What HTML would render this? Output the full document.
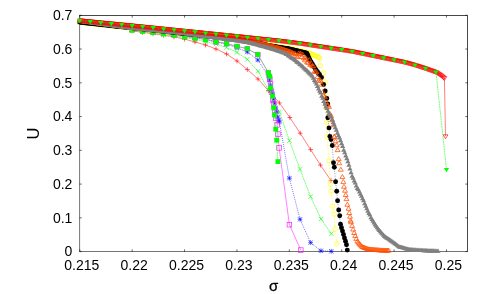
<!DOCTYPE html>
<html><head><meta charset="utf-8"><title>U vs sigma</title>
<style>html,body{margin:0;padding:0;background:#fff;}body{width:491px;height:294px;overflow:hidden;font-family:"Liberation Sans",sans-serif;}</style>
</head><body>
<svg width="491" height="294" viewBox="0 0 491 294" style="display:block;will-change:transform">
<rect width="491" height="294" fill="#fff"/>
<g font-family="Liberation Sans, sans-serif" font-size="14" fill="#000" style="filter:grayscale(1)">
<text x="81.8" y="270" text-anchor="middle">0.215</text><text x="134.18" y="270" text-anchor="middle">0.22</text><text x="186.56" y="270" text-anchor="middle">0.225</text><text x="238.94" y="270" text-anchor="middle">0.23</text><text x="291.32" y="270" text-anchor="middle">0.235</text><text x="343.7" y="270" text-anchor="middle">0.24</text><text x="396.08" y="270" text-anchor="middle">0.245</text><text x="448.46" y="270" text-anchor="middle">0.25</text><text x="72.4" y="256.3" text-anchor="end">0</text><text x="72.4" y="222.54" text-anchor="end">0.1</text><text x="72.4" y="188.78" text-anchor="end">0.2</text><text x="72.4" y="155.02" text-anchor="end">0.3</text><text x="72.4" y="121.26" text-anchor="end">0.4</text><text x="72.4" y="87.5" text-anchor="end">0.5</text><text x="72.4" y="53.74" text-anchor="end">0.6</text><text x="72.4" y="19.98" text-anchor="end">0.7</text><text x="273.6" y="290.6" text-anchor="middle" font-size="15" stroke="#000" stroke-width="0.3">σ</text><text transform="translate(39,133.5) rotate(-90)" text-anchor="middle" font-size="16.5">U</text>
</g>
<path d="M79.6 15.2V251.5H467.6" stroke="#000" stroke-width="0.55" fill="none"/><path d="M79.4 15.5H467.5V251.7" stroke="#000" stroke-width="0.72" fill="none"/><path d="M79.8 251.6v-2.2M79.8 15.4v2.2" stroke="#000" stroke-width="0.6"/><path d="M132.18 251.6v-2.2M132.18 15.4v2.2" stroke="#000" stroke-width="0.6"/><path d="M184.56 251.6v-2.2M184.56 15.4v2.2" stroke="#000" stroke-width="0.6"/><path d="M236.94 251.6v-2.2M236.94 15.4v2.2" stroke="#000" stroke-width="0.6"/><path d="M289.32 251.6v-2.2M289.32 15.4v2.2" stroke="#000" stroke-width="0.6"/><path d="M341.7 251.6v-2.2M341.7 15.4v2.2" stroke="#000" stroke-width="0.6"/><path d="M394.08 251.6v-2.2M394.08 15.4v2.2" stroke="#000" stroke-width="0.6"/><path d="M446.46 251.6v-2.2M446.46 15.4v2.2" stroke="#000" stroke-width="0.6"/><path d="M79.5 251.6h2.2M467.5 251.6h-2.2" stroke="#000" stroke-width="0.6"/><path d="M79.5 217.84h2.2M467.5 217.84h-2.2" stroke="#000" stroke-width="0.6"/><path d="M79.5 184.08h2.2M467.5 184.08h-2.2" stroke="#000" stroke-width="0.6"/><path d="M79.5 150.32h2.2M467.5 150.32h-2.2" stroke="#000" stroke-width="0.6"/><path d="M79.5 116.56h2.2M467.5 116.56h-2.2" stroke="#000" stroke-width="0.6"/><path d="M79.5 82.8h2.2M467.5 82.8h-2.2" stroke="#000" stroke-width="0.6"/><path d="M79.5 49.04h2.2M467.5 49.04h-2.2" stroke="#000" stroke-width="0.6"/><path d="M79.5 15.28h2.2M467.5 15.28h-2.2" stroke="#000" stroke-width="0.6"/>
<g stroke-linecap="butt" stroke-linejoin="miter">
<path d="M132 30.9L142.5 32.3L153 33.8L163.5 35.3L174 36.9L184.6 39.1L195 42L205.5 45L216 49L226.6 54L237 61L247.3 69.5L258 79L268.4 90.5L279.4 102.9L289.8 117.5L300.2 133.2L310.6 149.6L320.4 165.1L331 180.6" stroke="#ff0000" stroke-width="0.5" fill="none"/><path d="M129.6 30.9H134.4M132 28.5V33.3" stroke="#ff0000" stroke-width="0.6" fill="none"/><path d="M140.1 32.3H144.9M142.5 29.9V34.7" stroke="#ff0000" stroke-width="0.6" fill="none"/><path d="M150.6 33.8H155.4M153 31.4V36.2" stroke="#ff0000" stroke-width="0.6" fill="none"/><path d="M161.1 35.3H165.9M163.5 32.9V37.7" stroke="#ff0000" stroke-width="0.6" fill="none"/><path d="M171.6 36.9H176.4M174 34.5V39.3" stroke="#ff0000" stroke-width="0.6" fill="none"/><path d="M182.2 39.1H187M184.6 36.7V41.5" stroke="#ff0000" stroke-width="0.6" fill="none"/><path d="M192.6 42H197.4M195 39.6V44.4" stroke="#ff0000" stroke-width="0.6" fill="none"/><path d="M203.1 45H207.9M205.5 42.6V47.4" stroke="#ff0000" stroke-width="0.6" fill="none"/><path d="M213.6 49H218.4M216 46.6V51.4" stroke="#ff0000" stroke-width="0.6" fill="none"/><path d="M224.2 54H229M226.6 51.6V56.4" stroke="#ff0000" stroke-width="0.6" fill="none"/><path d="M234.6 61H239.4M237 58.6V63.4" stroke="#ff0000" stroke-width="0.6" fill="none"/><path d="M244.9 69.5H249.7M247.3 67.1V71.9" stroke="#ff0000" stroke-width="0.6" fill="none"/><path d="M255.6 79H260.4M258 76.6V81.4" stroke="#ff0000" stroke-width="0.6" fill="none"/><path d="M266 90.5H270.8M268.4 88.1V92.9" stroke="#ff0000" stroke-width="0.6" fill="none"/><path d="M277 102.9H281.8M279.4 100.5V105.3" stroke="#ff0000" stroke-width="0.6" fill="none"/><path d="M287.4 117.5H292.2M289.8 115.1V119.9" stroke="#ff0000" stroke-width="0.6" fill="none"/><path d="M297.8 133.2H302.6M300.2 130.8V135.6" stroke="#ff0000" stroke-width="0.6" fill="none"/><path d="M308.2 149.6H313M310.6 147.2V152" stroke="#ff0000" stroke-width="0.6" fill="none"/><path d="M318 165.1H322.8M320.4 162.7V167.5" stroke="#ff0000" stroke-width="0.6" fill="none"/><path d="M328.6 180.6H333.4M331 178.2V183" stroke="#ff0000" stroke-width="0.6" fill="none"/><path d="M132 30.5L142.5 31.7L153 33L163.5 34.4L174 35.9L184.6 37.6L195 39.3L205.6 41.8L216 44L226.6 47.5L237 52.4L247.3 59.4L258 71.3L268.4 90L279.4 112L289.4 140.6L300 169.3L310.6 196.7L321 218.9L331.3 233.8" stroke="#00ff00" stroke-width="0.55" fill="none" stroke-dasharray="1.9 0.6"/><path d="M129.7 28.2L134.3 32.8M129.7 32.8L134.3 28.2" stroke="#00ff00" stroke-width="0.6" fill="none"/><path d="M140.2 29.4L144.8 34M140.2 34L144.8 29.4" stroke="#00ff00" stroke-width="0.6" fill="none"/><path d="M150.7 30.7L155.3 35.3M150.7 35.3L155.3 30.7" stroke="#00ff00" stroke-width="0.6" fill="none"/><path d="M161.2 32.1L165.8 36.7M161.2 36.7L165.8 32.1" stroke="#00ff00" stroke-width="0.6" fill="none"/><path d="M171.7 33.6L176.3 38.2M171.7 38.2L176.3 33.6" stroke="#00ff00" stroke-width="0.6" fill="none"/><path d="M182.3 35.3L186.9 39.9M182.3 39.9L186.9 35.3" stroke="#00ff00" stroke-width="0.6" fill="none"/><path d="M192.7 37L197.3 41.6M192.7 41.6L197.3 37" stroke="#00ff00" stroke-width="0.6" fill="none"/><path d="M203.3 39.5L207.9 44.1M203.3 44.1L207.9 39.5" stroke="#00ff00" stroke-width="0.6" fill="none"/><path d="M213.7 41.7L218.3 46.3M213.7 46.3L218.3 41.7" stroke="#00ff00" stroke-width="0.6" fill="none"/><path d="M224.3 45.2L228.9 49.8M224.3 49.8L228.9 45.2" stroke="#00ff00" stroke-width="0.6" fill="none"/><path d="M234.7 50.1L239.3 54.7M234.7 54.7L239.3 50.1" stroke="#00ff00" stroke-width="0.6" fill="none"/><path d="M245 57.1L249.6 61.7M245 61.7L249.6 57.1" stroke="#00ff00" stroke-width="0.6" fill="none"/><path d="M255.7 69L260.3 73.6M255.7 73.6L260.3 69" stroke="#00ff00" stroke-width="0.6" fill="none"/><path d="M266.1 87.7L270.7 92.3M266.1 92.3L270.7 87.7" stroke="#00ff00" stroke-width="0.6" fill="none"/><path d="M277.1 109.7L281.7 114.3M277.1 114.3L281.7 109.7" stroke="#00ff00" stroke-width="0.6" fill="none"/><path d="M287.1 138.3L291.7 142.9M287.1 142.9L291.7 138.3" stroke="#00ff00" stroke-width="0.6" fill="none"/><path d="M297.7 167L302.3 171.6M297.7 171.6L302.3 167" stroke="#00ff00" stroke-width="0.6" fill="none"/><path d="M308.3 194.4L312.9 199M308.3 199L312.9 194.4" stroke="#00ff00" stroke-width="0.6" fill="none"/><path d="M318.7 216.6L323.3 221.2M318.7 221.2L323.3 216.6" stroke="#00ff00" stroke-width="0.6" fill="none"/><path d="M329 231.5L333.6 236.1M329 236.1L333.6 231.5" stroke="#00ff00" stroke-width="0.6" fill="none"/><path d="M132 29.5L142.5 30.6L153 31.8L163.5 33.1L174 34.5L184.6 36.1L195 37.8L205.6 39.3L216 42L226.6 44.2L237 47.8L247.3 52L257.8 60L268.4 76L269.5 80L270.5 85L271.5 90L272.6 94L273.6 99L274.6 103L275.7 108L276.7 112L277.8 117L278.8 120L279.4 122L289.4 178.2L300 219.3L310.6 242.6L320.9 250.8L331.3 251.3" stroke="#0000ff" stroke-width="0.6" fill="none" stroke-dasharray="0.9 1.1"/><path d="M129.6 29.5H134.4M132 27.1V31.9" stroke="#0000ff" stroke-width="0.6" fill="none"/><path d="M129.84 27.34L134.16 31.66M129.84 31.66L134.16 27.34" stroke="#0000ff" stroke-width="0.6" fill="none"/><path d="M140.1 30.6H144.9M142.5 28.2V33" stroke="#0000ff" stroke-width="0.6" fill="none"/><path d="M140.34 28.44L144.66 32.76M140.34 32.76L144.66 28.44" stroke="#0000ff" stroke-width="0.6" fill="none"/><path d="M150.6 31.8H155.4M153 29.4V34.2" stroke="#0000ff" stroke-width="0.6" fill="none"/><path d="M150.84 29.64L155.16 33.96M150.84 33.96L155.16 29.64" stroke="#0000ff" stroke-width="0.6" fill="none"/><path d="M161.1 33.1H165.9M163.5 30.7V35.5" stroke="#0000ff" stroke-width="0.6" fill="none"/><path d="M161.34 30.94L165.66 35.26M161.34 35.26L165.66 30.94" stroke="#0000ff" stroke-width="0.6" fill="none"/><path d="M171.6 34.5H176.4M174 32.1V36.9" stroke="#0000ff" stroke-width="0.6" fill="none"/><path d="M171.84 32.34L176.16 36.66M171.84 36.66L176.16 32.34" stroke="#0000ff" stroke-width="0.6" fill="none"/><path d="M182.2 36.1H187M184.6 33.7V38.5" stroke="#0000ff" stroke-width="0.6" fill="none"/><path d="M182.44 33.94L186.76 38.26M182.44 38.26L186.76 33.94" stroke="#0000ff" stroke-width="0.6" fill="none"/><path d="M192.6 37.8H197.4M195 35.4V40.2" stroke="#0000ff" stroke-width="0.6" fill="none"/><path d="M192.84 35.64L197.16 39.96M192.84 39.96L197.16 35.64" stroke="#0000ff" stroke-width="0.6" fill="none"/><path d="M203.2 39.3H208M205.6 36.9V41.7" stroke="#0000ff" stroke-width="0.6" fill="none"/><path d="M203.44 37.14L207.76 41.46M203.44 41.46L207.76 37.14" stroke="#0000ff" stroke-width="0.6" fill="none"/><path d="M213.6 42H218.4M216 39.6V44.4" stroke="#0000ff" stroke-width="0.6" fill="none"/><path d="M213.84 39.84L218.16 44.16M213.84 44.16L218.16 39.84" stroke="#0000ff" stroke-width="0.6" fill="none"/><path d="M224.2 44.2H229M226.6 41.8V46.6" stroke="#0000ff" stroke-width="0.6" fill="none"/><path d="M224.44 42.04L228.76 46.36M224.44 46.36L228.76 42.04" stroke="#0000ff" stroke-width="0.6" fill="none"/><path d="M234.6 47.8H239.4M237 45.4V50.2" stroke="#0000ff" stroke-width="0.6" fill="none"/><path d="M234.84 45.64L239.16 49.96M234.84 49.96L239.16 45.64" stroke="#0000ff" stroke-width="0.6" fill="none"/><path d="M244.9 52H249.7M247.3 49.6V54.4" stroke="#0000ff" stroke-width="0.6" fill="none"/><path d="M245.14 49.84L249.46 54.16M245.14 54.16L249.46 49.84" stroke="#0000ff" stroke-width="0.6" fill="none"/><path d="M255.4 60H260.2M257.8 57.6V62.4" stroke="#0000ff" stroke-width="0.6" fill="none"/><path d="M255.64 57.84L259.96 62.16M255.64 62.16L259.96 57.84" stroke="#0000ff" stroke-width="0.6" fill="none"/><path d="M266 76H270.8M268.4 73.6V78.4" stroke="#0000ff" stroke-width="0.6" fill="none"/><path d="M266.24 73.84L270.56 78.16M266.24 78.16L270.56 73.84" stroke="#0000ff" stroke-width="0.6" fill="none"/><path d="M267.1 80H271.9M269.5 77.6V82.4" stroke="#0000ff" stroke-width="0.6" fill="none"/><path d="M267.34 77.84L271.66 82.16M267.34 82.16L271.66 77.84" stroke="#0000ff" stroke-width="0.6" fill="none"/><path d="M268.1 85H272.9M270.5 82.6V87.4" stroke="#0000ff" stroke-width="0.6" fill="none"/><path d="M268.34 82.84L272.66 87.16M268.34 87.16L272.66 82.84" stroke="#0000ff" stroke-width="0.6" fill="none"/><path d="M269.1 90H273.9M271.5 87.6V92.4" stroke="#0000ff" stroke-width="0.6" fill="none"/><path d="M269.34 87.84L273.66 92.16M269.34 92.16L273.66 87.84" stroke="#0000ff" stroke-width="0.6" fill="none"/><path d="M270.2 94H275M272.6 91.6V96.4" stroke="#0000ff" stroke-width="0.6" fill="none"/><path d="M270.44 91.84L274.76 96.16M270.44 96.16L274.76 91.84" stroke="#0000ff" stroke-width="0.6" fill="none"/><path d="M271.2 99H276M273.6 96.6V101.4" stroke="#0000ff" stroke-width="0.6" fill="none"/><path d="M271.44 96.84L275.76 101.16M271.44 101.16L275.76 96.84" stroke="#0000ff" stroke-width="0.6" fill="none"/><path d="M272.2 103H277M274.6 100.6V105.4" stroke="#0000ff" stroke-width="0.6" fill="none"/><path d="M272.44 100.84L276.76 105.16M272.44 105.16L276.76 100.84" stroke="#0000ff" stroke-width="0.6" fill="none"/><path d="M273.3 108H278.1M275.7 105.6V110.4" stroke="#0000ff" stroke-width="0.6" fill="none"/><path d="M273.54 105.84L277.86 110.16M273.54 110.16L277.86 105.84" stroke="#0000ff" stroke-width="0.6" fill="none"/><path d="M274.3 112H279.1M276.7 109.6V114.4" stroke="#0000ff" stroke-width="0.6" fill="none"/><path d="M274.54 109.84L278.86 114.16M274.54 114.16L278.86 109.84" stroke="#0000ff" stroke-width="0.6" fill="none"/><path d="M275.4 117H280.2M277.8 114.6V119.4" stroke="#0000ff" stroke-width="0.6" fill="none"/><path d="M275.64 114.84L279.96 119.16M275.64 119.16L279.96 114.84" stroke="#0000ff" stroke-width="0.6" fill="none"/><path d="M276.4 120H281.2M278.8 117.6V122.4" stroke="#0000ff" stroke-width="0.6" fill="none"/><path d="M276.64 117.84L280.96 122.16M276.64 122.16L280.96 117.84" stroke="#0000ff" stroke-width="0.6" fill="none"/><path d="M277 122H281.8M279.4 119.6V124.4" stroke="#0000ff" stroke-width="0.6" fill="none"/><path d="M277.24 119.84L281.56 124.16M277.24 124.16L281.56 119.84" stroke="#0000ff" stroke-width="0.6" fill="none"/><path d="M287 178.2H291.8M289.4 175.8V180.6" stroke="#0000ff" stroke-width="0.6" fill="none"/><path d="M287.24 176.04L291.56 180.36M287.24 180.36L291.56 176.04" stroke="#0000ff" stroke-width="0.6" fill="none"/><path d="M297.6 219.3H302.4M300 216.9V221.7" stroke="#0000ff" stroke-width="0.6" fill="none"/><path d="M297.84 217.14L302.16 221.46M297.84 221.46L302.16 217.14" stroke="#0000ff" stroke-width="0.6" fill="none"/><path d="M308.2 242.6H313M310.6 240.2V245" stroke="#0000ff" stroke-width="0.6" fill="none"/><path d="M308.44 240.44L312.76 244.76M308.44 244.76L312.76 240.44" stroke="#0000ff" stroke-width="0.6" fill="none"/><path d="M318.5 250.8H323.3M320.9 248.4V253.2" stroke="#0000ff" stroke-width="0.6" fill="none"/><path d="M318.74 248.64L323.06 252.96M318.74 252.96L323.06 248.64" stroke="#0000ff" stroke-width="0.6" fill="none"/><path d="M328.9 251.3H333.7M331.3 248.9V253.7" stroke="#0000ff" stroke-width="0.6" fill="none"/><path d="M329.14 249.14L333.46 253.46M329.14 253.46L333.46 249.14" stroke="#0000ff" stroke-width="0.6" fill="none"/><path d="M132 29.5L142.5 30.6L153 31.8L163.5 33.1L174 34.5L184.6 36L195 37.6L205.6 38.9L216 41.8L226.6 43.5L237 46.4L247.3 48.6L257.8 54.6L268.4 72.7L269.8 79L270.5 84L271.5 92L272.6 100L273.6 104L274.6 110L275.7 118L277.2 124.9L277.9 134.1L279.1 147.9L289.4 224.7L300.8 250.1" stroke="#ff00ff" stroke-width="0.5" fill="none"/><rect x="129.7" y="27.2" width="4.6" height="4.6" stroke="#ff00ff" stroke-width="0.6" fill="none"/><rect x="140.2" y="28.3" width="4.6" height="4.6" stroke="#ff00ff" stroke-width="0.6" fill="none"/><rect x="150.7" y="29.5" width="4.6" height="4.6" stroke="#ff00ff" stroke-width="0.6" fill="none"/><rect x="161.2" y="30.8" width="4.6" height="4.6" stroke="#ff00ff" stroke-width="0.6" fill="none"/><rect x="171.7" y="32.2" width="4.6" height="4.6" stroke="#ff00ff" stroke-width="0.6" fill="none"/><rect x="182.3" y="33.7" width="4.6" height="4.6" stroke="#ff00ff" stroke-width="0.6" fill="none"/><rect x="192.7" y="35.3" width="4.6" height="4.6" stroke="#ff00ff" stroke-width="0.6" fill="none"/><rect x="203.3" y="36.6" width="4.6" height="4.6" stroke="#ff00ff" stroke-width="0.6" fill="none"/><rect x="213.7" y="39.5" width="4.6" height="4.6" stroke="#ff00ff" stroke-width="0.6" fill="none"/><rect x="224.3" y="41.2" width="4.6" height="4.6" stroke="#ff00ff" stroke-width="0.6" fill="none"/><rect x="234.7" y="44.1" width="4.6" height="4.6" stroke="#ff00ff" stroke-width="0.6" fill="none"/><rect x="245" y="46.3" width="4.6" height="4.6" stroke="#ff00ff" stroke-width="0.6" fill="none"/><rect x="255.5" y="52.3" width="4.6" height="4.6" stroke="#ff00ff" stroke-width="0.6" fill="none"/><rect x="266.1" y="70.4" width="4.6" height="4.6" stroke="#ff00ff" stroke-width="0.6" fill="none"/><rect x="267.5" y="76.7" width="4.6" height="4.6" stroke="#ff00ff" stroke-width="0.6" fill="none"/><rect x="268.2" y="81.7" width="4.6" height="4.6" stroke="#ff00ff" stroke-width="0.6" fill="none"/><rect x="269.2" y="89.7" width="4.6" height="4.6" stroke="#ff00ff" stroke-width="0.6" fill="none"/><rect x="270.3" y="97.7" width="4.6" height="4.6" stroke="#ff00ff" stroke-width="0.6" fill="none"/><rect x="271.3" y="101.7" width="4.6" height="4.6" stroke="#ff00ff" stroke-width="0.6" fill="none"/><rect x="272.3" y="107.7" width="4.6" height="4.6" stroke="#ff00ff" stroke-width="0.6" fill="none"/><rect x="273.4" y="115.7" width="4.6" height="4.6" stroke="#ff00ff" stroke-width="0.6" fill="none"/><rect x="274.9" y="122.6" width="4.6" height="4.6" stroke="#ff00ff" stroke-width="0.6" fill="none"/><rect x="275.6" y="131.8" width="4.6" height="4.6" stroke="#ff00ff" stroke-width="0.6" fill="none"/><rect x="276.8" y="145.6" width="4.6" height="4.6" stroke="#ff00ff" stroke-width="0.6" fill="none"/><rect x="287.1" y="222.4" width="4.6" height="4.6" stroke="#ff00ff" stroke-width="0.6" fill="none"/><rect x="298.5" y="247.8" width="4.6" height="4.6" stroke="#ff00ff" stroke-width="0.6" fill="none"/><path d="M132 30.3L142.5 31.4L153 32.6L163.5 33.9L174 35.3L184.6 36.8L195 38.4L205.6 39.9L216 41.8L226.6 43.5L237 46.4L247.3 48.6L257.8 54.6L268.4 72.7L269.8 76.3L270.6 88L272.6 96.2L273.6 107.7L274.5 115L275.7 129.2L276.7 140.2L277.9 161.6" stroke="#00ff00" stroke-width="0.55" fill="none" stroke-dasharray="1.9 0.6"/><rect x="129.6" y="27.9" width="4.8" height="4.8" fill="#00ff00"/><rect x="140.1" y="29" width="4.8" height="4.8" fill="#00ff00"/><rect x="150.6" y="30.2" width="4.8" height="4.8" fill="#00ff00"/><rect x="161.1" y="31.5" width="4.8" height="4.8" fill="#00ff00"/><rect x="171.6" y="32.9" width="4.8" height="4.8" fill="#00ff00"/><rect x="182.2" y="34.4" width="4.8" height="4.8" fill="#00ff00"/><rect x="192.6" y="36" width="4.8" height="4.8" fill="#00ff00"/><rect x="203.2" y="37.5" width="4.8" height="4.8" fill="#00ff00"/><rect x="213.6" y="39.4" width="4.8" height="4.8" fill="#00ff00"/><rect x="224.2" y="41.1" width="4.8" height="4.8" fill="#00ff00"/><rect x="234.6" y="44" width="4.8" height="4.8" fill="#00ff00"/><rect x="244.9" y="46.2" width="4.8" height="4.8" fill="#00ff00"/><rect x="255.4" y="52.2" width="4.8" height="4.8" fill="#00ff00"/><rect x="266" y="70.3" width="4.8" height="4.8" fill="#00ff00"/><rect x="267.4" y="73.9" width="4.8" height="4.8" fill="#00ff00"/><rect x="268.2" y="85.6" width="4.8" height="4.8" fill="#00ff00"/><rect x="270.2" y="93.8" width="4.8" height="4.8" fill="#00ff00"/><rect x="271.2" y="105.3" width="4.8" height="4.8" fill="#00ff00"/><rect x="272.1" y="112.6" width="4.8" height="4.8" fill="#00ff00"/><rect x="273.3" y="126.8" width="4.8" height="4.8" fill="#00ff00"/><rect x="274.3" y="137.8" width="4.8" height="4.8" fill="#00ff00"/><rect x="275.5" y="159.2" width="4.8" height="4.8" fill="#00ff00"/><path d="M79.6 22.3L80.65 22.41L81.7 22.52L82.74 22.64L83.79 22.75L84.84 22.86L85.89 22.97L86.94 23.08L87.98 23.2L89.03 23.31L90.08 23.42L91.13 23.53L92.18 23.64L93.22 23.76L94.27 23.87L95.32 23.98L96.37 24.09L97.42 24.2L98.46 24.32L99.51 24.43L100.56 24.54L101.61 24.65L102.66 24.76L103.7 24.88L104.75 24.99L105.8 25.1L106.85 25.21L107.9 25.32L108.94 25.44L109.99 25.55L111.04 25.66L112.09 25.77L113.14 25.88L114.18 26L115.23 26.11L116.28 26.22L117.33 26.33L118.38 26.44L119.42 26.56L120.47 26.67L121.52 26.78L122.57 26.89L123.62 27L124.66 27.12L125.71 27.23L126.76 27.34L127.81 27.45L128.86 27.56L129.9 27.68L130.95 27.79L132 27.9L133.05 28.01L134.1 28.11L135.14 28.22L136.19 28.33L137.24 28.43L138.29 28.54L139.34 28.65L140.38 28.75L141.43 28.86L142.48 28.97L143.53 29.07L144.58 29.18L145.62 29.29L146.67 29.4L147.72 29.5L148.77 29.61L149.82 29.72L150.86 29.82L151.91 29.93L152.96 30.04L154.01 30.14L155.06 30.25L156.1 30.36L157.15 30.46L158.2 30.57L159.25 30.68L160.3 30.78L161.34 30.89L162.39 31L163.44 31.1L164.49 31.21L165.54 31.32L166.58 31.42L167.63 31.53L168.68 31.64L169.73 31.75L170.78 31.85L171.82 31.96L172.87 32.07L173.92 32.17L174.97 32.28L176.02 32.39L177.06 32.49L178.11 32.6L179.16 32.71L180.21 32.81L181.26 32.92L182.3 33.03L183.35 33.13L184.4 33.25L185.45 33.37L186.5 33.49L187.54 33.61L188.59 33.73L189.64 33.85L190.69 33.97L191.74 34.09L192.78 34.21L193.83 34.33L194.88 34.45L195.93 34.57L196.98 34.69L198.02 34.81L199.07 34.93L200.12 35.06L201.17 35.18L202.22 35.3L203.26 35.42L204.31 35.54L205.36 35.66L206.41 35.78L207.46 35.9L208.5 36.02L209.55 36.14L210.6 36.26L211.65 36.38L212.7 36.5L213.74 36.62L214.79 36.74L215.84 36.86L216.89 36.99L217.94 37.11L218.98 37.23L220.03 37.35L221.08 37.47L222.13 37.59L223.18 37.71L224.22 37.83L225.27 37.95L226.32 38.07L227.37 38.19L228.42 38.31L229.46 38.43L230.51 38.55L231.56 38.67L232.61 38.79L233.66 38.92L234.7 39.04L235.75 39.16L236.8 39.28L237.85 39.44L238.9 39.62L239.94 39.8L240.99 39.97L242.04 40.15L243.09 40.32L244.14 40.5L245.18 40.68L246.23 40.85L247.28 41.03L248.33 41.21L249.38 41.38L250.42 41.56L251.47 41.74L252.52 41.91L253.57 42.09L254.62 42.26L255.66 42.44L256.71 42.62L257.76 42.79L258.81 43.02L259.86 43.26L260.9 43.49L261.95 43.72L263 43.95L264.05 44.18L265.1 44.41L266.14 44.65L267.19 44.88L268.24 45.11L269.29 45.34L270.34 45.55L271.38 45.72L272.43 45.89L273.48 46.06L274.53 46.22L275.58 46.39L276.62 46.56L277.67 46.73L278.72 46.9L279.77 47.06L280.82 47.21L281.86 47.36L282.91 47.5L283.96 47.64L285.01 47.79L286.06 47.93L287.1 48.08L288.15 48.24L289.2 48.48L290.25 48.72L291.3 48.97L292.34 49.21L293.39 49.46L294.44 49.7L295.49 49.95L296.54 50.19L297.58 50.44L298.63 50.68L299.68 50.93L300.73 51.17L301.78 51.42L302.82 51.67L303.87 51.92L304.92 52.17L305.97 52.42L307.02 52.67L308.06 52.92L309.11 53.31L310.16 53.7L311.21 54.09L312.26 54.48L313.3 54.87L314.35 55.26L315.4 55.72L316.45 56.29L317.5 56.86L318.54 57.43L319.59 58L320.3 65.7L323.6 73L325.2 82L326 95L326.3 108L326.6 122.3L327 136.9L329 160.7L330.2 183.9L331 191.2L332.7 206.2L334.2 214.1L335.1 228.9L336.7 243.6" stroke="#ffff00" stroke-width="0.6" fill="none" stroke-dasharray="1.6 1.4"/><circle cx="79.6" cy="22.3" r="2.3" stroke="#ffff00" stroke-width="0.6" fill="none"/><circle cx="80.65" cy="22.41" r="2.3" stroke="#ffff00" stroke-width="0.6" fill="none"/><circle cx="81.7" cy="22.52" r="2.3" stroke="#ffff00" stroke-width="0.6" fill="none"/><circle cx="82.74" cy="22.64" r="2.3" stroke="#ffff00" stroke-width="0.6" fill="none"/><circle cx="83.79" cy="22.75" r="2.3" stroke="#ffff00" stroke-width="0.6" fill="none"/><circle cx="84.84" cy="22.86" r="2.3" stroke="#ffff00" stroke-width="0.6" fill="none"/><circle cx="85.89" cy="22.97" r="2.3" stroke="#ffff00" stroke-width="0.6" fill="none"/><circle cx="86.94" cy="23.08" r="2.3" stroke="#ffff00" stroke-width="0.6" fill="none"/><circle cx="87.98" cy="23.2" r="2.3" stroke="#ffff00" stroke-width="0.6" fill="none"/><circle cx="89.03" cy="23.31" r="2.3" stroke="#ffff00" stroke-width="0.6" fill="none"/><circle cx="90.08" cy="23.42" r="2.3" stroke="#ffff00" stroke-width="0.6" fill="none"/><circle cx="91.13" cy="23.53" r="2.3" stroke="#ffff00" stroke-width="0.6" fill="none"/><circle cx="92.18" cy="23.64" r="2.3" stroke="#ffff00" stroke-width="0.6" fill="none"/><circle cx="93.22" cy="23.76" r="2.3" stroke="#ffff00" stroke-width="0.6" fill="none"/><circle cx="94.27" cy="23.87" r="2.3" stroke="#ffff00" stroke-width="0.6" fill="none"/><circle cx="95.32" cy="23.98" r="2.3" stroke="#ffff00" stroke-width="0.6" fill="none"/><circle cx="96.37" cy="24.09" r="2.3" stroke="#ffff00" stroke-width="0.6" fill="none"/><circle cx="97.42" cy="24.2" r="2.3" stroke="#ffff00" stroke-width="0.6" fill="none"/><circle cx="98.46" cy="24.32" r="2.3" stroke="#ffff00" stroke-width="0.6" fill="none"/><circle cx="99.51" cy="24.43" r="2.3" stroke="#ffff00" stroke-width="0.6" fill="none"/><circle cx="100.56" cy="24.54" r="2.3" stroke="#ffff00" stroke-width="0.6" fill="none"/><circle cx="101.61" cy="24.65" r="2.3" stroke="#ffff00" stroke-width="0.6" fill="none"/><circle cx="102.66" cy="24.76" r="2.3" stroke="#ffff00" stroke-width="0.6" fill="none"/><circle cx="103.7" cy="24.88" r="2.3" stroke="#ffff00" stroke-width="0.6" fill="none"/><circle cx="104.75" cy="24.99" r="2.3" stroke="#ffff00" stroke-width="0.6" fill="none"/><circle cx="105.8" cy="25.1" r="2.3" stroke="#ffff00" stroke-width="0.6" fill="none"/><circle cx="106.85" cy="25.21" r="2.3" stroke="#ffff00" stroke-width="0.6" fill="none"/><circle cx="107.9" cy="25.32" r="2.3" stroke="#ffff00" stroke-width="0.6" fill="none"/><circle cx="108.94" cy="25.44" r="2.3" stroke="#ffff00" stroke-width="0.6" fill="none"/><circle cx="109.99" cy="25.55" r="2.3" stroke="#ffff00" stroke-width="0.6" fill="none"/><circle cx="111.04" cy="25.66" r="2.3" stroke="#ffff00" stroke-width="0.6" fill="none"/><circle cx="112.09" cy="25.77" r="2.3" stroke="#ffff00" stroke-width="0.6" fill="none"/><circle cx="113.14" cy="25.88" r="2.3" stroke="#ffff00" stroke-width="0.6" fill="none"/><circle cx="114.18" cy="26" r="2.3" stroke="#ffff00" stroke-width="0.6" fill="none"/><circle cx="115.23" cy="26.11" r="2.3" stroke="#ffff00" stroke-width="0.6" fill="none"/><circle cx="116.28" cy="26.22" r="2.3" stroke="#ffff00" stroke-width="0.6" fill="none"/><circle cx="117.33" cy="26.33" r="2.3" stroke="#ffff00" stroke-width="0.6" fill="none"/><circle cx="118.38" cy="26.44" r="2.3" stroke="#ffff00" stroke-width="0.6" fill="none"/><circle cx="119.42" cy="26.56" r="2.3" stroke="#ffff00" stroke-width="0.6" fill="none"/><circle cx="120.47" cy="26.67" r="2.3" stroke="#ffff00" stroke-width="0.6" fill="none"/><circle cx="121.52" cy="26.78" r="2.3" stroke="#ffff00" stroke-width="0.6" fill="none"/><circle cx="122.57" cy="26.89" r="2.3" stroke="#ffff00" stroke-width="0.6" fill="none"/><circle cx="123.62" cy="27" r="2.3" stroke="#ffff00" stroke-width="0.6" fill="none"/><circle cx="124.66" cy="27.12" r="2.3" stroke="#ffff00" stroke-width="0.6" fill="none"/><circle cx="125.71" cy="27.23" r="2.3" stroke="#ffff00" stroke-width="0.6" fill="none"/><circle cx="126.76" cy="27.34" r="2.3" stroke="#ffff00" stroke-width="0.6" fill="none"/><circle cx="127.81" cy="27.45" r="2.3" stroke="#ffff00" stroke-width="0.6" fill="none"/><circle cx="128.86" cy="27.56" r="2.3" stroke="#ffff00" stroke-width="0.6" fill="none"/><circle cx="129.9" cy="27.68" r="2.3" stroke="#ffff00" stroke-width="0.6" fill="none"/><circle cx="130.95" cy="27.79" r="2.3" stroke="#ffff00" stroke-width="0.6" fill="none"/><circle cx="132" cy="27.9" r="2.3" stroke="#ffff00" stroke-width="0.6" fill="none"/><circle cx="133.05" cy="28.01" r="2.3" stroke="#ffff00" stroke-width="0.6" fill="none"/><circle cx="134.1" cy="28.11" r="2.3" stroke="#ffff00" stroke-width="0.6" fill="none"/><circle cx="135.14" cy="28.22" r="2.3" stroke="#ffff00" stroke-width="0.6" fill="none"/><circle cx="136.19" cy="28.33" r="2.3" stroke="#ffff00" stroke-width="0.6" fill="none"/><circle cx="137.24" cy="28.43" r="2.3" stroke="#ffff00" stroke-width="0.6" fill="none"/><circle cx="138.29" cy="28.54" r="2.3" stroke="#ffff00" stroke-width="0.6" fill="none"/><circle cx="139.34" cy="28.65" r="2.3" stroke="#ffff00" stroke-width="0.6" fill="none"/><circle cx="140.38" cy="28.75" r="2.3" stroke="#ffff00" stroke-width="0.6" fill="none"/><circle cx="141.43" cy="28.86" r="2.3" stroke="#ffff00" stroke-width="0.6" fill="none"/><circle cx="142.48" cy="28.97" r="2.3" stroke="#ffff00" stroke-width="0.6" fill="none"/><circle cx="143.53" cy="29.07" r="2.3" stroke="#ffff00" stroke-width="0.6" fill="none"/><circle cx="144.58" cy="29.18" r="2.3" stroke="#ffff00" stroke-width="0.6" fill="none"/><circle cx="145.62" cy="29.29" r="2.3" stroke="#ffff00" stroke-width="0.6" fill="none"/><circle cx="146.67" cy="29.4" r="2.3" stroke="#ffff00" stroke-width="0.6" fill="none"/><circle cx="147.72" cy="29.5" r="2.3" stroke="#ffff00" stroke-width="0.6" fill="none"/><circle cx="148.77" cy="29.61" r="2.3" stroke="#ffff00" stroke-width="0.6" fill="none"/><circle cx="149.82" cy="29.72" r="2.3" stroke="#ffff00" stroke-width="0.6" fill="none"/><circle cx="150.86" cy="29.82" r="2.3" stroke="#ffff00" stroke-width="0.6" fill="none"/><circle cx="151.91" cy="29.93" r="2.3" stroke="#ffff00" stroke-width="0.6" fill="none"/><circle cx="152.96" cy="30.04" r="2.3" stroke="#ffff00" stroke-width="0.6" fill="none"/><circle cx="154.01" cy="30.14" r="2.3" stroke="#ffff00" stroke-width="0.6" fill="none"/><circle cx="155.06" cy="30.25" r="2.3" stroke="#ffff00" stroke-width="0.6" fill="none"/><circle cx="156.1" cy="30.36" r="2.3" stroke="#ffff00" stroke-width="0.6" fill="none"/><circle cx="157.15" cy="30.46" r="2.3" stroke="#ffff00" stroke-width="0.6" fill="none"/><circle cx="158.2" cy="30.57" r="2.3" stroke="#ffff00" stroke-width="0.6" fill="none"/><circle cx="159.25" cy="30.68" r="2.3" stroke="#ffff00" stroke-width="0.6" fill="none"/><circle cx="160.3" cy="30.78" r="2.3" stroke="#ffff00" stroke-width="0.6" fill="none"/><circle cx="161.34" cy="30.89" r="2.3" stroke="#ffff00" stroke-width="0.6" fill="none"/><circle cx="162.39" cy="31" r="2.3" stroke="#ffff00" stroke-width="0.6" fill="none"/><circle cx="163.44" cy="31.1" r="2.3" stroke="#ffff00" stroke-width="0.6" fill="none"/><circle cx="164.49" cy="31.21" r="2.3" stroke="#ffff00" stroke-width="0.6" fill="none"/><circle cx="165.54" cy="31.32" r="2.3" stroke="#ffff00" stroke-width="0.6" fill="none"/><circle cx="166.58" cy="31.42" r="2.3" stroke="#ffff00" stroke-width="0.6" fill="none"/><circle cx="167.63" cy="31.53" r="2.3" stroke="#ffff00" stroke-width="0.6" fill="none"/><circle cx="168.68" cy="31.64" r="2.3" stroke="#ffff00" stroke-width="0.6" fill="none"/><circle cx="169.73" cy="31.75" r="2.3" stroke="#ffff00" stroke-width="0.6" fill="none"/><circle cx="170.78" cy="31.85" r="2.3" stroke="#ffff00" stroke-width="0.6" fill="none"/><circle cx="171.82" cy="31.96" r="2.3" stroke="#ffff00" stroke-width="0.6" fill="none"/><circle cx="172.87" cy="32.07" r="2.3" stroke="#ffff00" stroke-width="0.6" fill="none"/><circle cx="173.92" cy="32.17" r="2.3" stroke="#ffff00" stroke-width="0.6" fill="none"/><circle cx="174.97" cy="32.28" r="2.3" stroke="#ffff00" stroke-width="0.6" fill="none"/><circle cx="176.02" cy="32.39" r="2.3" stroke="#ffff00" stroke-width="0.6" fill="none"/><circle cx="177.06" cy="32.49" r="2.3" stroke="#ffff00" stroke-width="0.6" fill="none"/><circle cx="178.11" cy="32.6" r="2.3" stroke="#ffff00" stroke-width="0.6" fill="none"/><circle cx="179.16" cy="32.71" r="2.3" stroke="#ffff00" stroke-width="0.6" fill="none"/><circle cx="180.21" cy="32.81" r="2.3" stroke="#ffff00" stroke-width="0.6" fill="none"/><circle cx="181.26" cy="32.92" r="2.3" stroke="#ffff00" stroke-width="0.6" fill="none"/><circle cx="182.3" cy="33.03" r="2.3" stroke="#ffff00" stroke-width="0.6" fill="none"/><circle cx="183.35" cy="33.13" r="2.3" stroke="#ffff00" stroke-width="0.6" fill="none"/><circle cx="184.4" cy="33.25" r="2.3" stroke="#ffff00" stroke-width="0.6" fill="none"/><circle cx="185.45" cy="33.37" r="2.3" stroke="#ffff00" stroke-width="0.6" fill="none"/><circle cx="186.5" cy="33.49" r="2.3" stroke="#ffff00" stroke-width="0.6" fill="none"/><circle cx="187.54" cy="33.61" r="2.3" stroke="#ffff00" stroke-width="0.6" fill="none"/><circle cx="188.59" cy="33.73" r="2.3" stroke="#ffff00" stroke-width="0.6" fill="none"/><circle cx="189.64" cy="33.85" r="2.3" stroke="#ffff00" stroke-width="0.6" fill="none"/><circle cx="190.69" cy="33.97" r="2.3" stroke="#ffff00" stroke-width="0.6" fill="none"/><circle cx="191.74" cy="34.09" r="2.3" stroke="#ffff00" stroke-width="0.6" fill="none"/><circle cx="192.78" cy="34.21" r="2.3" stroke="#ffff00" stroke-width="0.6" fill="none"/><circle cx="193.83" cy="34.33" r="2.3" stroke="#ffff00" stroke-width="0.6" fill="none"/><circle cx="194.88" cy="34.45" r="2.3" stroke="#ffff00" stroke-width="0.6" fill="none"/><circle cx="195.93" cy="34.57" r="2.3" stroke="#ffff00" stroke-width="0.6" fill="none"/><circle cx="196.98" cy="34.69" r="2.3" stroke="#ffff00" stroke-width="0.6" fill="none"/><circle cx="198.02" cy="34.81" r="2.3" stroke="#ffff00" stroke-width="0.6" fill="none"/><circle cx="199.07" cy="34.93" r="2.3" stroke="#ffff00" stroke-width="0.6" fill="none"/><circle cx="200.12" cy="35.06" r="2.3" stroke="#ffff00" stroke-width="0.6" fill="none"/><circle cx="201.17" cy="35.18" r="2.3" stroke="#ffff00" stroke-width="0.6" fill="none"/><circle cx="202.22" cy="35.3" r="2.3" stroke="#ffff00" stroke-width="0.6" fill="none"/><circle cx="203.26" cy="35.42" r="2.3" stroke="#ffff00" stroke-width="0.6" fill="none"/><circle cx="204.31" cy="35.54" r="2.3" stroke="#ffff00" stroke-width="0.6" fill="none"/><circle cx="205.36" cy="35.66" r="2.3" stroke="#ffff00" stroke-width="0.6" fill="none"/><circle cx="206.41" cy="35.78" r="2.3" stroke="#ffff00" stroke-width="0.6" fill="none"/><circle cx="207.46" cy="35.9" r="2.3" stroke="#ffff00" stroke-width="0.6" fill="none"/><circle cx="208.5" cy="36.02" r="2.3" stroke="#ffff00" stroke-width="0.6" fill="none"/><circle cx="209.55" cy="36.14" r="2.3" stroke="#ffff00" stroke-width="0.6" fill="none"/><circle cx="210.6" cy="36.26" r="2.3" stroke="#ffff00" stroke-width="0.6" fill="none"/><circle cx="211.65" cy="36.38" r="2.3" stroke="#ffff00" stroke-width="0.6" fill="none"/><circle cx="212.7" cy="36.5" r="2.3" stroke="#ffff00" stroke-width="0.6" fill="none"/><circle cx="213.74" cy="36.62" r="2.3" stroke="#ffff00" stroke-width="0.6" fill="none"/><circle cx="214.79" cy="36.74" r="2.3" stroke="#ffff00" stroke-width="0.6" fill="none"/><circle cx="215.84" cy="36.86" r="2.3" stroke="#ffff00" stroke-width="0.6" fill="none"/><circle cx="216.89" cy="36.99" r="2.3" stroke="#ffff00" stroke-width="0.6" fill="none"/><circle cx="217.94" cy="37.11" r="2.3" stroke="#ffff00" stroke-width="0.6" fill="none"/><circle cx="218.98" cy="37.23" r="2.3" stroke="#ffff00" stroke-width="0.6" fill="none"/><circle cx="220.03" cy="37.35" r="2.3" stroke="#ffff00" stroke-width="0.6" fill="none"/><circle cx="221.08" cy="37.47" r="2.3" stroke="#ffff00" stroke-width="0.6" fill="none"/><circle cx="222.13" cy="37.59" r="2.3" stroke="#ffff00" stroke-width="0.6" fill="none"/><circle cx="223.18" cy="37.71" r="2.3" stroke="#ffff00" stroke-width="0.6" fill="none"/><circle cx="224.22" cy="37.83" r="2.3" stroke="#ffff00" stroke-width="0.6" fill="none"/><circle cx="225.27" cy="37.95" r="2.3" stroke="#ffff00" stroke-width="0.6" fill="none"/><circle cx="226.32" cy="38.07" r="2.3" stroke="#ffff00" stroke-width="0.6" fill="none"/><circle cx="227.37" cy="38.19" r="2.3" stroke="#ffff00" stroke-width="0.6" fill="none"/><circle cx="228.42" cy="38.31" r="2.3" stroke="#ffff00" stroke-width="0.6" fill="none"/><circle cx="229.46" cy="38.43" r="2.3" stroke="#ffff00" stroke-width="0.6" fill="none"/><circle cx="230.51" cy="38.55" r="2.3" stroke="#ffff00" stroke-width="0.6" fill="none"/><circle cx="231.56" cy="38.67" r="2.3" stroke="#ffff00" stroke-width="0.6" fill="none"/><circle cx="232.61" cy="38.79" r="2.3" stroke="#ffff00" stroke-width="0.6" fill="none"/><circle cx="233.66" cy="38.92" r="2.3" stroke="#ffff00" stroke-width="0.6" fill="none"/><circle cx="234.7" cy="39.04" r="2.3" stroke="#ffff00" stroke-width="0.6" fill="none"/><circle cx="235.75" cy="39.16" r="2.3" stroke="#ffff00" stroke-width="0.6" fill="none"/><circle cx="236.8" cy="39.28" r="2.3" stroke="#ffff00" stroke-width="0.6" fill="none"/><circle cx="237.85" cy="39.44" r="2.3" stroke="#ffff00" stroke-width="0.6" fill="none"/><circle cx="238.9" cy="39.62" r="2.3" stroke="#ffff00" stroke-width="0.6" fill="none"/><circle cx="239.94" cy="39.8" r="2.3" stroke="#ffff00" stroke-width="0.6" fill="none"/><circle cx="240.99" cy="39.97" r="2.3" stroke="#ffff00" stroke-width="0.6" fill="none"/><circle cx="242.04" cy="40.15" r="2.3" stroke="#ffff00" stroke-width="0.6" fill="none"/><circle cx="243.09" cy="40.32" r="2.3" stroke="#ffff00" stroke-width="0.6" fill="none"/><circle cx="244.14" cy="40.5" r="2.3" stroke="#ffff00" stroke-width="0.6" fill="none"/><circle cx="245.18" cy="40.68" r="2.3" stroke="#ffff00" stroke-width="0.6" fill="none"/><circle cx="246.23" cy="40.85" r="2.3" stroke="#ffff00" stroke-width="0.6" fill="none"/><circle cx="247.28" cy="41.03" r="2.3" stroke="#ffff00" stroke-width="0.6" fill="none"/><circle cx="248.33" cy="41.21" r="2.3" stroke="#ffff00" stroke-width="0.6" fill="none"/><circle cx="249.38" cy="41.38" r="2.3" stroke="#ffff00" stroke-width="0.6" fill="none"/><circle cx="250.42" cy="41.56" r="2.3" stroke="#ffff00" stroke-width="0.6" fill="none"/><circle cx="251.47" cy="41.74" r="2.3" stroke="#ffff00" stroke-width="0.6" fill="none"/><circle cx="252.52" cy="41.91" r="2.3" stroke="#ffff00" stroke-width="0.6" fill="none"/><circle cx="253.57" cy="42.09" r="2.3" stroke="#ffff00" stroke-width="0.6" fill="none"/><circle cx="254.62" cy="42.26" r="2.3" stroke="#ffff00" stroke-width="0.6" fill="none"/><circle cx="255.66" cy="42.44" r="2.3" stroke="#ffff00" stroke-width="0.6" fill="none"/><circle cx="256.71" cy="42.62" r="2.3" stroke="#ffff00" stroke-width="0.6" fill="none"/><circle cx="257.76" cy="42.79" r="2.3" stroke="#ffff00" stroke-width="0.6" fill="none"/><circle cx="258.81" cy="43.02" r="2.3" stroke="#ffff00" stroke-width="0.6" fill="none"/><circle cx="259.86" cy="43.26" r="2.3" stroke="#ffff00" stroke-width="0.6" fill="none"/><circle cx="260.9" cy="43.49" r="2.3" stroke="#ffff00" stroke-width="0.6" fill="none"/><circle cx="261.95" cy="43.72" r="2.3" stroke="#ffff00" stroke-width="0.6" fill="none"/><circle cx="263" cy="43.95" r="2.3" stroke="#ffff00" stroke-width="0.6" fill="none"/><circle cx="264.05" cy="44.18" r="2.3" stroke="#ffff00" stroke-width="0.6" fill="none"/><circle cx="265.1" cy="44.41" r="2.3" stroke="#ffff00" stroke-width="0.6" fill="none"/><circle cx="266.14" cy="44.65" r="2.3" stroke="#ffff00" stroke-width="0.6" fill="none"/><circle cx="267.19" cy="44.88" r="2.3" stroke="#ffff00" stroke-width="0.6" fill="none"/><circle cx="268.24" cy="45.11" r="2.3" stroke="#ffff00" stroke-width="0.6" fill="none"/><circle cx="269.29" cy="45.34" r="2.3" stroke="#ffff00" stroke-width="0.6" fill="none"/><circle cx="270.34" cy="45.55" r="2.3" stroke="#ffff00" stroke-width="0.6" fill="none"/><circle cx="271.38" cy="45.72" r="2.3" stroke="#ffff00" stroke-width="0.6" fill="none"/><circle cx="272.43" cy="45.89" r="2.3" stroke="#ffff00" stroke-width="0.6" fill="none"/><circle cx="273.48" cy="46.06" r="2.3" stroke="#ffff00" stroke-width="0.6" fill="none"/><circle cx="274.53" cy="46.22" r="2.3" stroke="#ffff00" stroke-width="0.6" fill="none"/><circle cx="275.58" cy="46.39" r="2.3" stroke="#ffff00" stroke-width="0.6" fill="none"/><circle cx="276.62" cy="46.56" r="2.3" stroke="#ffff00" stroke-width="0.6" fill="none"/><circle cx="277.67" cy="46.73" r="2.3" stroke="#ffff00" stroke-width="0.6" fill="none"/><circle cx="278.72" cy="46.9" r="2.3" stroke="#ffff00" stroke-width="0.6" fill="none"/><circle cx="279.77" cy="47.06" r="2.3" stroke="#ffff00" stroke-width="0.6" fill="none"/><circle cx="280.82" cy="47.21" r="2.3" stroke="#ffff00" stroke-width="0.6" fill="none"/><circle cx="281.86" cy="47.36" r="2.3" stroke="#ffff00" stroke-width="0.6" fill="none"/><circle cx="282.91" cy="47.5" r="2.3" stroke="#ffff00" stroke-width="0.6" fill="none"/><circle cx="283.96" cy="47.64" r="2.3" stroke="#ffff00" stroke-width="0.6" fill="none"/><circle cx="285.01" cy="47.79" r="2.3" stroke="#ffff00" stroke-width="0.6" fill="none"/><circle cx="286.06" cy="47.93" r="2.3" stroke="#ffff00" stroke-width="0.6" fill="none"/><circle cx="287.1" cy="48.08" r="2.3" stroke="#ffff00" stroke-width="0.6" fill="none"/><circle cx="288.15" cy="48.24" r="2.3" stroke="#ffff00" stroke-width="0.6" fill="none"/><circle cx="289.2" cy="48.48" r="2.3" stroke="#ffff00" stroke-width="0.6" fill="none"/><circle cx="290.25" cy="48.72" r="2.3" stroke="#ffff00" stroke-width="0.6" fill="none"/><circle cx="291.3" cy="48.97" r="2.3" stroke="#ffff00" stroke-width="0.6" fill="none"/><circle cx="292.34" cy="49.21" r="2.3" stroke="#ffff00" stroke-width="0.6" fill="none"/><circle cx="293.39" cy="49.46" r="2.3" stroke="#ffff00" stroke-width="0.6" fill="none"/><circle cx="294.44" cy="49.7" r="2.3" stroke="#ffff00" stroke-width="0.6" fill="none"/><circle cx="295.49" cy="49.95" r="2.3" stroke="#ffff00" stroke-width="0.6" fill="none"/><circle cx="296.54" cy="50.19" r="2.3" stroke="#ffff00" stroke-width="0.6" fill="none"/><circle cx="297.58" cy="50.44" r="2.3" stroke="#ffff00" stroke-width="0.6" fill="none"/><circle cx="298.63" cy="50.68" r="2.3" stroke="#ffff00" stroke-width="0.6" fill="none"/><circle cx="299.68" cy="50.93" r="2.3" stroke="#ffff00" stroke-width="0.6" fill="none"/><circle cx="300.73" cy="51.17" r="2.3" stroke="#ffff00" stroke-width="0.6" fill="none"/><circle cx="301.78" cy="51.42" r="2.3" stroke="#ffff00" stroke-width="0.6" fill="none"/><circle cx="302.82" cy="51.67" r="2.3" stroke="#ffff00" stroke-width="0.6" fill="none"/><circle cx="303.87" cy="51.92" r="2.3" stroke="#ffff00" stroke-width="0.6" fill="none"/><circle cx="304.92" cy="52.17" r="2.3" stroke="#ffff00" stroke-width="0.6" fill="none"/><circle cx="305.97" cy="52.42" r="2.3" stroke="#ffff00" stroke-width="0.6" fill="none"/><circle cx="307.02" cy="52.67" r="2.3" stroke="#ffff00" stroke-width="0.6" fill="none"/><circle cx="308.06" cy="52.92" r="2.3" stroke="#ffff00" stroke-width="0.6" fill="none"/><circle cx="309.11" cy="53.31" r="2.3" stroke="#ffff00" stroke-width="0.6" fill="none"/><circle cx="310.16" cy="53.7" r="2.3" stroke="#ffff00" stroke-width="0.6" fill="none"/><circle cx="311.21" cy="54.09" r="2.3" stroke="#ffff00" stroke-width="0.6" fill="none"/><circle cx="312.26" cy="54.48" r="2.3" stroke="#ffff00" stroke-width="0.6" fill="none"/><circle cx="313.3" cy="54.87" r="2.3" stroke="#ffff00" stroke-width="0.6" fill="none"/><circle cx="314.35" cy="55.26" r="2.3" stroke="#ffff00" stroke-width="0.6" fill="none"/><circle cx="315.4" cy="55.72" r="2.3" stroke="#ffff00" stroke-width="0.6" fill="none"/><circle cx="316.45" cy="56.29" r="2.3" stroke="#ffff00" stroke-width="0.6" fill="none"/><circle cx="317.5" cy="56.86" r="2.3" stroke="#ffff00" stroke-width="0.6" fill="none"/><circle cx="318.54" cy="57.43" r="2.3" stroke="#ffff00" stroke-width="0.6" fill="none"/><circle cx="319.59" cy="58" r="2.3" stroke="#ffff00" stroke-width="0.6" fill="none"/><circle cx="320.3" cy="65.7" r="2.3" stroke="#ffff00" stroke-width="0.6" fill="none"/><circle cx="323.6" cy="73" r="2.3" stroke="#ffff00" stroke-width="0.6" fill="none"/><circle cx="325.2" cy="82" r="2.3" stroke="#ffff00" stroke-width="0.6" fill="none"/><circle cx="326" cy="95" r="2.3" stroke="#ffff00" stroke-width="0.6" fill="none"/><circle cx="326.3" cy="108" r="2.3" stroke="#ffff00" stroke-width="0.6" fill="none"/><circle cx="326.6" cy="122.3" r="2.3" stroke="#ffff00" stroke-width="0.6" fill="none"/><circle cx="327" cy="136.9" r="2.3" stroke="#ffff00" stroke-width="0.6" fill="none"/><circle cx="329" cy="160.7" r="2.3" stroke="#ffff00" stroke-width="0.6" fill="none"/><circle cx="330.2" cy="183.9" r="2.3" stroke="#ffff00" stroke-width="0.6" fill="none"/><circle cx="331" cy="191.2" r="2.3" stroke="#ffff00" stroke-width="0.6" fill="none"/><circle cx="332.7" cy="206.2" r="2.3" stroke="#ffff00" stroke-width="0.6" fill="none"/><circle cx="334.2" cy="214.1" r="2.3" stroke="#ffff00" stroke-width="0.6" fill="none"/><circle cx="335.1" cy="228.9" r="2.3" stroke="#ffff00" stroke-width="0.6" fill="none"/><circle cx="336.7" cy="243.6" r="2.3" stroke="#ffff00" stroke-width="0.6" fill="none"/><path d="M79.6 22.15L80.65 22.26L81.7 22.38L82.74 22.49L83.79 22.61L84.84 22.72L85.89 22.84L86.94 22.95L87.98 23.07L89.03 23.18L90.08 23.3L91.13 23.41L92.18 23.53L93.22 23.64L94.27 23.76L95.32 23.88L96.37 23.99L97.42 24.11L98.46 24.22L99.51 24.34L100.56 24.45L101.61 24.57L102.66 24.68L103.7 24.8L104.75 24.91L105.8 25.03L106.85 25.14L107.9 25.26L108.94 25.37L109.99 25.49L111.04 25.6L112.09 25.72L113.14 25.83L114.18 25.95L115.23 26.06L116.28 26.18L117.33 26.29L118.38 26.41L119.42 26.52L120.47 26.64L121.52 26.75L122.57 26.87L123.62 26.98L124.66 27.1L125.71 27.21L126.76 27.33L127.81 27.44L128.86 27.56L129.9 27.67L130.95 27.79L132 27.9L133.05 28.01L134.1 28.12L135.14 28.23L136.19 28.34L137.24 28.45L138.29 28.57L139.34 28.68L140.38 28.79L141.43 28.9L142.48 29.01L143.53 29.12L144.58 29.23L145.62 29.34L146.67 29.45L147.72 29.56L148.77 29.67L149.82 29.78L150.86 29.9L151.91 30.01L152.96 30.12L154.01 30.23L155.06 30.34L156.1 30.45L157.15 30.56L158.2 30.67L159.25 30.78L160.3 30.89L161.34 31L162.39 31.11L163.44 31.23L164.49 31.34L165.54 31.45L166.58 31.56L167.63 31.67L168.68 31.78L169.73 31.89L170.78 32L171.82 32.11L172.87 32.22L173.92 32.33L174.97 32.44L176.02 32.56L177.06 32.67L178.11 32.78L179.16 32.89L180.21 33L181.26 33.11L182.3 33.22L183.35 33.33L184.4 33.45L185.45 33.57L186.5 33.69L187.54 33.81L188.59 33.93L189.64 34.05L190.69 34.17L191.74 34.29L192.78 34.41L193.83 34.53L194.88 34.65L195.93 34.77L196.98 34.89L198.02 35.01L199.07 35.13L200.12 35.26L201.17 35.38L202.22 35.5L203.26 35.62L204.31 35.74L205.36 35.86L206.41 35.98L207.46 36.1L208.5 36.22L209.55 36.34L210.6 36.46L211.65 36.58L212.7 36.7L213.74 36.82L214.79 36.94L215.84 37.06L216.89 37.19L217.94 37.31L218.98 37.43L220.03 37.55L221.08 37.67L222.13 37.79L223.18 37.91L224.22 38.03L225.27 38.15L226.32 38.27L227.37 38.39L228.42 38.51L229.46 38.63L230.51 38.75L231.56 38.87L232.61 38.99L233.66 39.12L234.7 39.24L235.75 39.36L236.8 39.48L237.85 39.64L238.9 39.82L239.94 40L240.99 40.17L242.04 40.35L243.09 40.52L244.14 40.7L245.18 40.88L246.23 41.05L247.28 41.23L248.33 41.41L249.38 41.58L250.42 41.76L251.47 41.94L252.52 42.11L253.57 42.29L254.62 42.46L255.66 42.64L256.71 42.82L257.76 42.99L258.81 43.23L259.86 43.47L260.9 43.71L261.95 43.95L263 44.19L264.05 44.43L265.1 44.67L266.14 44.92L267.19 45.16L268.24 45.4L269.29 45.64L270.34 45.86L271.38 46.04L272.43 46.21L273.48 46.39L274.53 46.57L275.58 46.75L276.62 46.93L277.67 47.1L278.72 47.28L279.77 47.46L280.82 47.62L281.86 47.78L282.91 47.94L283.96 48.09L285.01 48.25L286.06 48.41L287.1 48.57L288.15 48.74L289.2 48.98L290.25 49.22L291.3 49.47L292.34 49.71L293.39 49.96L294.44 50.2L295.49 50.45L296.54 50.69L297.58 50.94L298.63 51.18L299.68 51.43L300.73 51.69L301.78 51.96L302.82 52.23L303.87 52.5L304.92 52.77L305.97 53.03L307.02 53.34L308.06 55.75L309.11 58.16L310.16 60.46L311.21 62.19L312.26 63.91L313.3 65.64L314.35 67.36L315.4 69.08L316.45 70.72L317.5 72.06L318.54 73.4L319.59 74.73L321.5 77.5L323.6 84.5L325.2 91L326.8 98.4L327.8 103.9L327.8 117.8L329 127.9L329.9 136.5L331 139.5L332.3 145.5L333.5 162.7L334.3 167.2L335.6 181.8L336.7 191.2L337.6 200.7L338.7 210L339.7 215.7L340.5 224.3L341.5 227.7L342.5 231.1L343.5 234.5L344.5 237.9L345.5 241.3L346.5 244.7L347.3 250.1" stroke="#000000" stroke-width="0.5" fill="none" stroke-dasharray="0.8 1.6"/><circle cx="79.6" cy="22.15" r="2.45" fill="#000000"/><circle cx="80.65" cy="22.26" r="2.45" fill="#000000"/><circle cx="81.7" cy="22.38" r="2.45" fill="#000000"/><circle cx="82.74" cy="22.49" r="2.45" fill="#000000"/><circle cx="83.79" cy="22.61" r="2.45" fill="#000000"/><circle cx="84.84" cy="22.72" r="2.45" fill="#000000"/><circle cx="85.89" cy="22.84" r="2.45" fill="#000000"/><circle cx="86.94" cy="22.95" r="2.45" fill="#000000"/><circle cx="87.98" cy="23.07" r="2.45" fill="#000000"/><circle cx="89.03" cy="23.18" r="2.45" fill="#000000"/><circle cx="90.08" cy="23.3" r="2.45" fill="#000000"/><circle cx="91.13" cy="23.41" r="2.45" fill="#000000"/><circle cx="92.18" cy="23.53" r="2.45" fill="#000000"/><circle cx="93.22" cy="23.64" r="2.45" fill="#000000"/><circle cx="94.27" cy="23.76" r="2.45" fill="#000000"/><circle cx="95.32" cy="23.88" r="2.45" fill="#000000"/><circle cx="96.37" cy="23.99" r="2.45" fill="#000000"/><circle cx="97.42" cy="24.11" r="2.45" fill="#000000"/><circle cx="98.46" cy="24.22" r="2.45" fill="#000000"/><circle cx="99.51" cy="24.34" r="2.45" fill="#000000"/><circle cx="100.56" cy="24.45" r="2.45" fill="#000000"/><circle cx="101.61" cy="24.57" r="2.45" fill="#000000"/><circle cx="102.66" cy="24.68" r="2.45" fill="#000000"/><circle cx="103.7" cy="24.8" r="2.45" fill="#000000"/><circle cx="104.75" cy="24.91" r="2.45" fill="#000000"/><circle cx="105.8" cy="25.03" r="2.45" fill="#000000"/><circle cx="106.85" cy="25.14" r="2.45" fill="#000000"/><circle cx="107.9" cy="25.26" r="2.45" fill="#000000"/><circle cx="108.94" cy="25.37" r="2.45" fill="#000000"/><circle cx="109.99" cy="25.49" r="2.45" fill="#000000"/><circle cx="111.04" cy="25.6" r="2.45" fill="#000000"/><circle cx="112.09" cy="25.72" r="2.45" fill="#000000"/><circle cx="113.14" cy="25.83" r="2.45" fill="#000000"/><circle cx="114.18" cy="25.95" r="2.45" fill="#000000"/><circle cx="115.23" cy="26.06" r="2.45" fill="#000000"/><circle cx="116.28" cy="26.18" r="2.45" fill="#000000"/><circle cx="117.33" cy="26.29" r="2.45" fill="#000000"/><circle cx="118.38" cy="26.41" r="2.45" fill="#000000"/><circle cx="119.42" cy="26.52" r="2.45" fill="#000000"/><circle cx="120.47" cy="26.64" r="2.45" fill="#000000"/><circle cx="121.52" cy="26.75" r="2.45" fill="#000000"/><circle cx="122.57" cy="26.87" r="2.45" fill="#000000"/><circle cx="123.62" cy="26.98" r="2.45" fill="#000000"/><circle cx="124.66" cy="27.1" r="2.45" fill="#000000"/><circle cx="125.71" cy="27.21" r="2.45" fill="#000000"/><circle cx="126.76" cy="27.33" r="2.45" fill="#000000"/><circle cx="127.81" cy="27.44" r="2.45" fill="#000000"/><circle cx="128.86" cy="27.56" r="2.45" fill="#000000"/><circle cx="129.9" cy="27.67" r="2.45" fill="#000000"/><circle cx="130.95" cy="27.79" r="2.45" fill="#000000"/><circle cx="132" cy="27.9" r="2.45" fill="#000000"/><circle cx="133.05" cy="28.01" r="2.45" fill="#000000"/><circle cx="134.1" cy="28.12" r="2.45" fill="#000000"/><circle cx="135.14" cy="28.23" r="2.45" fill="#000000"/><circle cx="136.19" cy="28.34" r="2.45" fill="#000000"/><circle cx="137.24" cy="28.45" r="2.45" fill="#000000"/><circle cx="138.29" cy="28.57" r="2.45" fill="#000000"/><circle cx="139.34" cy="28.68" r="2.45" fill="#000000"/><circle cx="140.38" cy="28.79" r="2.45" fill="#000000"/><circle cx="141.43" cy="28.9" r="2.45" fill="#000000"/><circle cx="142.48" cy="29.01" r="2.45" fill="#000000"/><circle cx="143.53" cy="29.12" r="2.45" fill="#000000"/><circle cx="144.58" cy="29.23" r="2.45" fill="#000000"/><circle cx="145.62" cy="29.34" r="2.45" fill="#000000"/><circle cx="146.67" cy="29.45" r="2.45" fill="#000000"/><circle cx="147.72" cy="29.56" r="2.45" fill="#000000"/><circle cx="148.77" cy="29.67" r="2.45" fill="#000000"/><circle cx="149.82" cy="29.78" r="2.45" fill="#000000"/><circle cx="150.86" cy="29.9" r="2.45" fill="#000000"/><circle cx="151.91" cy="30.01" r="2.45" fill="#000000"/><circle cx="152.96" cy="30.12" r="2.45" fill="#000000"/><circle cx="154.01" cy="30.23" r="2.45" fill="#000000"/><circle cx="155.06" cy="30.34" r="2.45" fill="#000000"/><circle cx="156.1" cy="30.45" r="2.45" fill="#000000"/><circle cx="157.15" cy="30.56" r="2.45" fill="#000000"/><circle cx="158.2" cy="30.67" r="2.45" fill="#000000"/><circle cx="159.25" cy="30.78" r="2.45" fill="#000000"/><circle cx="160.3" cy="30.89" r="2.45" fill="#000000"/><circle cx="161.34" cy="31" r="2.45" fill="#000000"/><circle cx="162.39" cy="31.11" r="2.45" fill="#000000"/><circle cx="163.44" cy="31.23" r="2.45" fill="#000000"/><circle cx="164.49" cy="31.34" r="2.45" fill="#000000"/><circle cx="165.54" cy="31.45" r="2.45" fill="#000000"/><circle cx="166.58" cy="31.56" r="2.45" fill="#000000"/><circle cx="167.63" cy="31.67" r="2.45" fill="#000000"/><circle cx="168.68" cy="31.78" r="2.45" fill="#000000"/><circle cx="169.73" cy="31.89" r="2.45" fill="#000000"/><circle cx="170.78" cy="32" r="2.45" fill="#000000"/><circle cx="171.82" cy="32.11" r="2.45" fill="#000000"/><circle cx="172.87" cy="32.22" r="2.45" fill="#000000"/><circle cx="173.92" cy="32.33" r="2.45" fill="#000000"/><circle cx="174.97" cy="32.44" r="2.45" fill="#000000"/><circle cx="176.02" cy="32.56" r="2.45" fill="#000000"/><circle cx="177.06" cy="32.67" r="2.45" fill="#000000"/><circle cx="178.11" cy="32.78" r="2.45" fill="#000000"/><circle cx="179.16" cy="32.89" r="2.45" fill="#000000"/><circle cx="180.21" cy="33" r="2.45" fill="#000000"/><circle cx="181.26" cy="33.11" r="2.45" fill="#000000"/><circle cx="182.3" cy="33.22" r="2.45" fill="#000000"/><circle cx="183.35" cy="33.33" r="2.45" fill="#000000"/><circle cx="184.4" cy="33.45" r="2.45" fill="#000000"/><circle cx="185.45" cy="33.57" r="2.45" fill="#000000"/><circle cx="186.5" cy="33.69" r="2.45" fill="#000000"/><circle cx="187.54" cy="33.81" r="2.45" fill="#000000"/><circle cx="188.59" cy="33.93" r="2.45" fill="#000000"/><circle cx="189.64" cy="34.05" r="2.45" fill="#000000"/><circle cx="190.69" cy="34.17" r="2.45" fill="#000000"/><circle cx="191.74" cy="34.29" r="2.45" fill="#000000"/><circle cx="192.78" cy="34.41" r="2.45" fill="#000000"/><circle cx="193.83" cy="34.53" r="2.45" fill="#000000"/><circle cx="194.88" cy="34.65" r="2.45" fill="#000000"/><circle cx="195.93" cy="34.77" r="2.45" fill="#000000"/><circle cx="196.98" cy="34.89" r="2.45" fill="#000000"/><circle cx="198.02" cy="35.01" r="2.45" fill="#000000"/><circle cx="199.07" cy="35.13" r="2.45" fill="#000000"/><circle cx="200.12" cy="35.26" r="2.45" fill="#000000"/><circle cx="201.17" cy="35.38" r="2.45" fill="#000000"/><circle cx="202.22" cy="35.5" r="2.45" fill="#000000"/><circle cx="203.26" cy="35.62" r="2.45" fill="#000000"/><circle cx="204.31" cy="35.74" r="2.45" fill="#000000"/><circle cx="205.36" cy="35.86" r="2.45" fill="#000000"/><circle cx="206.41" cy="35.98" r="2.45" fill="#000000"/><circle cx="207.46" cy="36.1" r="2.45" fill="#000000"/><circle cx="208.5" cy="36.22" r="2.45" fill="#000000"/><circle cx="209.55" cy="36.34" r="2.45" fill="#000000"/><circle cx="210.6" cy="36.46" r="2.45" fill="#000000"/><circle cx="211.65" cy="36.58" r="2.45" fill="#000000"/><circle cx="212.7" cy="36.7" r="2.45" fill="#000000"/><circle cx="213.74" cy="36.82" r="2.45" fill="#000000"/><circle cx="214.79" cy="36.94" r="2.45" fill="#000000"/><circle cx="215.84" cy="37.06" r="2.45" fill="#000000"/><circle cx="216.89" cy="37.19" r="2.45" fill="#000000"/><circle cx="217.94" cy="37.31" r="2.45" fill="#000000"/><circle cx="218.98" cy="37.43" r="2.45" fill="#000000"/><circle cx="220.03" cy="37.55" r="2.45" fill="#000000"/><circle cx="221.08" cy="37.67" r="2.45" fill="#000000"/><circle cx="222.13" cy="37.79" r="2.45" fill="#000000"/><circle cx="223.18" cy="37.91" r="2.45" fill="#000000"/><circle cx="224.22" cy="38.03" r="2.45" fill="#000000"/><circle cx="225.27" cy="38.15" r="2.45" fill="#000000"/><circle cx="226.32" cy="38.27" r="2.45" fill="#000000"/><circle cx="227.37" cy="38.39" r="2.45" fill="#000000"/><circle cx="228.42" cy="38.51" r="2.45" fill="#000000"/><circle cx="229.46" cy="38.63" r="2.45" fill="#000000"/><circle cx="230.51" cy="38.75" r="2.45" fill="#000000"/><circle cx="231.56" cy="38.87" r="2.45" fill="#000000"/><circle cx="232.61" cy="38.99" r="2.45" fill="#000000"/><circle cx="233.66" cy="39.12" r="2.45" fill="#000000"/><circle cx="234.7" cy="39.24" r="2.45" fill="#000000"/><circle cx="235.75" cy="39.36" r="2.45" fill="#000000"/><circle cx="236.8" cy="39.48" r="2.45" fill="#000000"/><circle cx="237.85" cy="39.64" r="2.45" fill="#000000"/><circle cx="238.9" cy="39.82" r="2.45" fill="#000000"/><circle cx="239.94" cy="40" r="2.45" fill="#000000"/><circle cx="240.99" cy="40.17" r="2.45" fill="#000000"/><circle cx="242.04" cy="40.35" r="2.45" fill="#000000"/><circle cx="243.09" cy="40.52" r="2.45" fill="#000000"/><circle cx="244.14" cy="40.7" r="2.45" fill="#000000"/><circle cx="245.18" cy="40.88" r="2.45" fill="#000000"/><circle cx="246.23" cy="41.05" r="2.45" fill="#000000"/><circle cx="247.28" cy="41.23" r="2.45" fill="#000000"/><circle cx="248.33" cy="41.41" r="2.45" fill="#000000"/><circle cx="249.38" cy="41.58" r="2.45" fill="#000000"/><circle cx="250.42" cy="41.76" r="2.45" fill="#000000"/><circle cx="251.47" cy="41.94" r="2.45" fill="#000000"/><circle cx="252.52" cy="42.11" r="2.45" fill="#000000"/><circle cx="253.57" cy="42.29" r="2.45" fill="#000000"/><circle cx="254.62" cy="42.46" r="2.45" fill="#000000"/><circle cx="255.66" cy="42.64" r="2.45" fill="#000000"/><circle cx="256.71" cy="42.82" r="2.45" fill="#000000"/><circle cx="257.76" cy="42.99" r="2.45" fill="#000000"/><circle cx="258.81" cy="43.23" r="2.45" fill="#000000"/><circle cx="259.86" cy="43.47" r="2.45" fill="#000000"/><circle cx="260.9" cy="43.71" r="2.45" fill="#000000"/><circle cx="261.95" cy="43.95" r="2.45" fill="#000000"/><circle cx="263" cy="44.19" r="2.45" fill="#000000"/><circle cx="264.05" cy="44.43" r="2.45" fill="#000000"/><circle cx="265.1" cy="44.67" r="2.45" fill="#000000"/><circle cx="266.14" cy="44.92" r="2.45" fill="#000000"/><circle cx="267.19" cy="45.16" r="2.45" fill="#000000"/><circle cx="268.24" cy="45.4" r="2.45" fill="#000000"/><circle cx="269.29" cy="45.64" r="2.45" fill="#000000"/><circle cx="270.34" cy="45.86" r="2.45" fill="#000000"/><circle cx="271.38" cy="46.04" r="2.45" fill="#000000"/><circle cx="272.43" cy="46.21" r="2.45" fill="#000000"/><circle cx="273.48" cy="46.39" r="2.45" fill="#000000"/><circle cx="274.53" cy="46.57" r="2.45" fill="#000000"/><circle cx="275.58" cy="46.75" r="2.45" fill="#000000"/><circle cx="276.62" cy="46.93" r="2.45" fill="#000000"/><circle cx="277.67" cy="47.1" r="2.45" fill="#000000"/><circle cx="278.72" cy="47.28" r="2.45" fill="#000000"/><circle cx="279.77" cy="47.46" r="2.45" fill="#000000"/><circle cx="280.82" cy="47.62" r="2.45" fill="#000000"/><circle cx="281.86" cy="47.78" r="2.45" fill="#000000"/><circle cx="282.91" cy="47.94" r="2.45" fill="#000000"/><circle cx="283.96" cy="48.09" r="2.45" fill="#000000"/><circle cx="285.01" cy="48.25" r="2.45" fill="#000000"/><circle cx="286.06" cy="48.41" r="2.45" fill="#000000"/><circle cx="287.1" cy="48.57" r="2.45" fill="#000000"/><circle cx="288.15" cy="48.74" r="2.45" fill="#000000"/><circle cx="289.2" cy="48.98" r="2.45" fill="#000000"/><circle cx="290.25" cy="49.22" r="2.45" fill="#000000"/><circle cx="291.3" cy="49.47" r="2.45" fill="#000000"/><circle cx="292.34" cy="49.71" r="2.45" fill="#000000"/><circle cx="293.39" cy="49.96" r="2.45" fill="#000000"/><circle cx="294.44" cy="50.2" r="2.45" fill="#000000"/><circle cx="295.49" cy="50.45" r="2.45" fill="#000000"/><circle cx="296.54" cy="50.69" r="2.45" fill="#000000"/><circle cx="297.58" cy="50.94" r="2.45" fill="#000000"/><circle cx="298.63" cy="51.18" r="2.45" fill="#000000"/><circle cx="299.68" cy="51.43" r="2.45" fill="#000000"/><circle cx="300.73" cy="51.69" r="2.45" fill="#000000"/><circle cx="301.78" cy="51.96" r="2.45" fill="#000000"/><circle cx="302.82" cy="52.23" r="2.45" fill="#000000"/><circle cx="303.87" cy="52.5" r="2.45" fill="#000000"/><circle cx="304.92" cy="52.77" r="2.45" fill="#000000"/><circle cx="305.97" cy="53.03" r="2.45" fill="#000000"/><circle cx="307.02" cy="53.34" r="2.45" fill="#000000"/><circle cx="308.06" cy="55.75" r="2.45" fill="#000000"/><circle cx="309.11" cy="58.16" r="2.45" fill="#000000"/><circle cx="310.16" cy="60.46" r="2.45" fill="#000000"/><circle cx="311.21" cy="62.19" r="2.45" fill="#000000"/><circle cx="312.26" cy="63.91" r="2.45" fill="#000000"/><circle cx="313.3" cy="65.64" r="2.45" fill="#000000"/><circle cx="314.35" cy="67.36" r="2.45" fill="#000000"/><circle cx="315.4" cy="69.08" r="2.45" fill="#000000"/><circle cx="316.45" cy="70.72" r="2.45" fill="#000000"/><circle cx="317.5" cy="72.06" r="2.45" fill="#000000"/><circle cx="318.54" cy="73.4" r="2.45" fill="#000000"/><circle cx="319.59" cy="74.73" r="2.45" fill="#000000"/><circle cx="321.5" cy="77.5" r="2.45" fill="#000000"/><circle cx="323.6" cy="84.5" r="2.45" fill="#000000"/><circle cx="325.2" cy="91" r="2.45" fill="#000000"/><circle cx="326.8" cy="98.4" r="2.45" fill="#000000"/><circle cx="327.8" cy="103.9" r="2.45" fill="#000000"/><circle cx="327.8" cy="117.8" r="2.45" fill="#000000"/><circle cx="329" cy="127.9" r="2.45" fill="#000000"/><circle cx="329.9" cy="136.5" r="2.45" fill="#000000"/><circle cx="331" cy="139.5" r="2.45" fill="#000000"/><circle cx="332.3" cy="145.5" r="2.45" fill="#000000"/><circle cx="333.5" cy="162.7" r="2.45" fill="#000000"/><circle cx="334.3" cy="167.2" r="2.45" fill="#000000"/><circle cx="335.6" cy="181.8" r="2.45" fill="#000000"/><circle cx="336.7" cy="191.2" r="2.45" fill="#000000"/><circle cx="337.6" cy="200.7" r="2.45" fill="#000000"/><circle cx="338.7" cy="210" r="2.45" fill="#000000"/><circle cx="339.7" cy="215.7" r="2.45" fill="#000000"/><circle cx="340.5" cy="224.3" r="2.45" fill="#000000"/><circle cx="341.5" cy="227.7" r="2.45" fill="#000000"/><circle cx="342.5" cy="231.1" r="2.45" fill="#000000"/><circle cx="343.5" cy="234.5" r="2.45" fill="#000000"/><circle cx="344.5" cy="237.9" r="2.45" fill="#000000"/><circle cx="345.5" cy="241.3" r="2.45" fill="#000000"/><circle cx="346.5" cy="244.7" r="2.45" fill="#000000"/><circle cx="347.3" cy="250.1" r="2.45" fill="#000000"/><polygon points="79.6,18.26 77.15,22.23 82.05,22.23" stroke="#ff4d00" stroke-width="0.75" fill="none"/><polygon points="80.65,18.39 78.2,22.36 83.1,22.36" stroke="#ff4d00" stroke-width="0.75" fill="none"/><polygon points="81.7,18.53 79.25,22.5 84.15,22.5" stroke="#ff4d00" stroke-width="0.75" fill="none"/><polygon points="82.74,18.66 80.29,22.63 85.19,22.63" stroke="#ff4d00" stroke-width="0.75" fill="none"/><polygon points="83.79,18.8 81.34,22.77 86.24,22.77" stroke="#ff4d00" stroke-width="0.75" fill="none"/><polygon points="84.84,18.94 82.39,22.91 87.29,22.91" stroke="#ff4d00" stroke-width="0.75" fill="none"/><polygon points="85.89,19.07 83.44,23.04 88.34,23.04" stroke="#ff4d00" stroke-width="0.75" fill="none"/><polygon points="86.94,19.21 84.49,23.18 89.39,23.18" stroke="#ff4d00" stroke-width="0.75" fill="none"/><polygon points="87.98,19.34 85.53,23.31 90.43,23.31" stroke="#ff4d00" stroke-width="0.75" fill="none"/><polygon points="89.03,19.48 86.58,23.45 91.48,23.45" stroke="#ff4d00" stroke-width="0.75" fill="none"/><polygon points="90.08,19.62 87.63,23.59 92.53,23.59" stroke="#ff4d00" stroke-width="0.75" fill="none"/><polygon points="91.13,19.75 88.68,23.72 93.58,23.72" stroke="#ff4d00" stroke-width="0.75" fill="none"/><polygon points="92.18,19.89 89.73,23.86 94.63,23.86" stroke="#ff4d00" stroke-width="0.75" fill="none"/><polygon points="93.22,20.02 90.77,23.99 95.67,23.99" stroke="#ff4d00" stroke-width="0.75" fill="none"/><polygon points="94.27,20.16 91.82,24.13 96.72,24.13" stroke="#ff4d00" stroke-width="0.75" fill="none"/><polygon points="95.32,20.3 92.87,24.27 97.77,24.27" stroke="#ff4d00" stroke-width="0.75" fill="none"/><polygon points="96.37,20.43 93.92,24.4 98.82,24.4" stroke="#ff4d00" stroke-width="0.75" fill="none"/><polygon points="97.42,20.57 94.97,24.54 99.87,24.54" stroke="#ff4d00" stroke-width="0.75" fill="none"/><polygon points="98.46,20.7 96.01,24.67 100.91,24.67" stroke="#ff4d00" stroke-width="0.75" fill="none"/><polygon points="99.51,20.84 97.06,24.81 101.96,24.81" stroke="#ff4d00" stroke-width="0.75" fill="none"/><polygon points="100.56,20.98 98.11,24.95 103.01,24.95" stroke="#ff4d00" stroke-width="0.75" fill="none"/><polygon points="101.61,21.11 99.16,25.08 104.06,25.08" stroke="#ff4d00" stroke-width="0.75" fill="none"/><polygon points="102.66,21.25 100.21,25.22 105.11,25.22" stroke="#ff4d00" stroke-width="0.75" fill="none"/><polygon points="103.7,21.38 101.25,25.35 106.15,25.35" stroke="#ff4d00" stroke-width="0.75" fill="none"/><polygon points="104.75,21.52 102.3,25.49 107.2,25.49" stroke="#ff4d00" stroke-width="0.75" fill="none"/><polygon points="105.8,21.66 103.35,25.63 108.25,25.63" stroke="#ff4d00" stroke-width="0.75" fill="none"/><polygon points="106.85,21.79 104.4,25.76 109.3,25.76" stroke="#ff4d00" stroke-width="0.75" fill="none"/><polygon points="107.9,21.93 105.45,25.9 110.35,25.9" stroke="#ff4d00" stroke-width="0.75" fill="none"/><polygon points="108.94,22.06 106.49,26.03 111.39,26.03" stroke="#ff4d00" stroke-width="0.75" fill="none"/><polygon points="109.99,22.2 107.54,26.17 112.44,26.17" stroke="#ff4d00" stroke-width="0.75" fill="none"/><polygon points="111.04,22.34 108.59,26.31 113.49,26.31" stroke="#ff4d00" stroke-width="0.75" fill="none"/><polygon points="112.09,22.47 109.64,26.44 114.54,26.44" stroke="#ff4d00" stroke-width="0.75" fill="none"/><polygon points="113.14,22.61 110.69,26.58 115.59,26.58" stroke="#ff4d00" stroke-width="0.75" fill="none"/><polygon points="114.18,22.74 111.73,26.71 116.63,26.71" stroke="#ff4d00" stroke-width="0.75" fill="none"/><polygon points="115.23,22.88 112.78,26.85 117.68,26.85" stroke="#ff4d00" stroke-width="0.75" fill="none"/><polygon points="116.28,23.02 113.83,26.99 118.73,26.99" stroke="#ff4d00" stroke-width="0.75" fill="none"/><polygon points="117.33,23.15 114.88,27.12 119.78,27.12" stroke="#ff4d00" stroke-width="0.75" fill="none"/><polygon points="118.38,23.29 115.93,27.26 120.83,27.26" stroke="#ff4d00" stroke-width="0.75" fill="none"/><polygon points="119.42,23.42 116.97,27.39 121.87,27.39" stroke="#ff4d00" stroke-width="0.75" fill="none"/><polygon points="120.47,23.56 118.02,27.53 122.92,27.53" stroke="#ff4d00" stroke-width="0.75" fill="none"/><polygon points="121.52,23.7 119.07,27.67 123.97,27.67" stroke="#ff4d00" stroke-width="0.75" fill="none"/><polygon points="122.57,23.83 120.12,27.8 125.02,27.8" stroke="#ff4d00" stroke-width="0.75" fill="none"/><polygon points="123.62,23.97 121.17,27.94 126.07,27.94" stroke="#ff4d00" stroke-width="0.75" fill="none"/><polygon points="124.66,24.1 122.21,28.07 127.11,28.07" stroke="#ff4d00" stroke-width="0.75" fill="none"/><polygon points="125.71,24.24 123.26,28.21 128.16,28.21" stroke="#ff4d00" stroke-width="0.75" fill="none"/><polygon points="126.76,24.38 124.31,28.35 129.21,28.35" stroke="#ff4d00" stroke-width="0.75" fill="none"/><polygon points="127.81,24.51 125.36,28.48 130.26,28.48" stroke="#ff4d00" stroke-width="0.75" fill="none"/><polygon points="128.86,24.65 126.41,28.62 131.31,28.62" stroke="#ff4d00" stroke-width="0.75" fill="none"/><polygon points="129.9,24.78 127.45,28.75 132.35,28.75" stroke="#ff4d00" stroke-width="0.75" fill="none"/><polygon points="130.95,24.92 128.5,28.89 133.4,28.89" stroke="#ff4d00" stroke-width="0.75" fill="none"/><polygon points="132,25.06 129.55,29.03 134.45,29.03" stroke="#ff4d00" stroke-width="0.75" fill="none"/><polygon points="133.05,25.16 130.6,29.13 135.5,29.13" stroke="#ff4d00" stroke-width="0.75" fill="none"/><polygon points="134.1,25.27 131.65,29.23 136.55,29.23" stroke="#ff4d00" stroke-width="0.75" fill="none"/><polygon points="135.14,25.37 132.69,29.34 137.59,29.34" stroke="#ff4d00" stroke-width="0.75" fill="none"/><polygon points="136.19,25.48 133.74,29.44 138.64,29.44" stroke="#ff4d00" stroke-width="0.75" fill="none"/><polygon points="137.24,25.58 134.79,29.55 139.69,29.55" stroke="#ff4d00" stroke-width="0.75" fill="none"/><polygon points="138.29,25.68 135.84,29.65 140.74,29.65" stroke="#ff4d00" stroke-width="0.75" fill="none"/><polygon points="139.34,25.79 136.89,29.76 141.79,29.76" stroke="#ff4d00" stroke-width="0.75" fill="none"/><polygon points="140.38,25.89 137.93,29.86 142.83,29.86" stroke="#ff4d00" stroke-width="0.75" fill="none"/><polygon points="141.43,26 138.98,29.97 143.88,29.97" stroke="#ff4d00" stroke-width="0.75" fill="none"/><polygon points="142.48,26.1 140.03,30.07 144.93,30.07" stroke="#ff4d00" stroke-width="0.75" fill="none"/><polygon points="143.53,26.21 141.08,30.18 145.98,30.18" stroke="#ff4d00" stroke-width="0.75" fill="none"/><polygon points="144.58,26.31 142.13,30.28 147.03,30.28" stroke="#ff4d00" stroke-width="0.75" fill="none"/><polygon points="145.62,26.42 143.17,30.39 148.07,30.39" stroke="#ff4d00" stroke-width="0.75" fill="none"/><polygon points="146.67,26.52 144.22,30.49 149.12,30.49" stroke="#ff4d00" stroke-width="0.75" fill="none"/><polygon points="147.72,26.63 145.27,30.6 150.17,30.6" stroke="#ff4d00" stroke-width="0.75" fill="none"/><polygon points="148.77,26.73 146.32,30.7 151.22,30.7" stroke="#ff4d00" stroke-width="0.75" fill="none"/><polygon points="149.82,26.84 147.37,30.81 152.27,30.81" stroke="#ff4d00" stroke-width="0.75" fill="none"/><polygon points="150.86,26.94 148.41,30.91 153.31,30.91" stroke="#ff4d00" stroke-width="0.75" fill="none"/><polygon points="151.91,27.05 149.46,31.02 154.36,31.02" stroke="#ff4d00" stroke-width="0.75" fill="none"/><polygon points="152.96,27.15 150.51,31.12 155.41,31.12" stroke="#ff4d00" stroke-width="0.75" fill="none"/><polygon points="154.01,27.26 151.56,31.23 156.46,31.23" stroke="#ff4d00" stroke-width="0.75" fill="none"/><polygon points="155.06,27.36 152.61,31.33 157.51,31.33" stroke="#ff4d00" stroke-width="0.75" fill="none"/><polygon points="156.1,27.47 153.65,31.44 158.55,31.44" stroke="#ff4d00" stroke-width="0.75" fill="none"/><polygon points="157.15,27.57 154.7,31.54 159.6,31.54" stroke="#ff4d00" stroke-width="0.75" fill="none"/><polygon points="158.2,27.68 155.75,31.65 160.65,31.65" stroke="#ff4d00" stroke-width="0.75" fill="none"/><polygon points="159.25,27.78 156.8,31.75 161.7,31.75" stroke="#ff4d00" stroke-width="0.75" fill="none"/><polygon points="160.3,27.89 157.85,31.85 162.75,31.85" stroke="#ff4d00" stroke-width="0.75" fill="none"/><polygon points="161.34,27.99 158.89,31.96 163.79,31.96" stroke="#ff4d00" stroke-width="0.75" fill="none"/><polygon points="162.39,28.1 159.94,32.06 164.84,32.06" stroke="#ff4d00" stroke-width="0.75" fill="none"/><polygon points="163.44,28.2 160.99,32.17 165.89,32.17" stroke="#ff4d00" stroke-width="0.75" fill="none"/><polygon points="164.49,28.3 162.04,32.27 166.94,32.27" stroke="#ff4d00" stroke-width="0.75" fill="none"/><polygon points="165.54,28.41 163.09,32.38 167.99,32.38" stroke="#ff4d00" stroke-width="0.75" fill="none"/><polygon points="166.58,28.51 164.13,32.48 169.03,32.48" stroke="#ff4d00" stroke-width="0.75" fill="none"/><polygon points="167.63,28.62 165.18,32.59 170.08,32.59" stroke="#ff4d00" stroke-width="0.75" fill="none"/><polygon points="168.68,28.72 166.23,32.69 171.13,32.69" stroke="#ff4d00" stroke-width="0.75" fill="none"/><polygon points="169.73,28.83 167.28,32.8 172.18,32.8" stroke="#ff4d00" stroke-width="0.75" fill="none"/><polygon points="170.78,28.93 168.33,32.9 173.23,32.9" stroke="#ff4d00" stroke-width="0.75" fill="none"/><polygon points="171.82,29.04 169.37,33.01 174.27,33.01" stroke="#ff4d00" stroke-width="0.75" fill="none"/><polygon points="172.87,29.14 170.42,33.11 175.32,33.11" stroke="#ff4d00" stroke-width="0.75" fill="none"/><polygon points="173.92,29.25 171.47,33.22 176.37,33.22" stroke="#ff4d00" stroke-width="0.75" fill="none"/><polygon points="174.97,29.35 172.52,33.32 177.42,33.32" stroke="#ff4d00" stroke-width="0.75" fill="none"/><polygon points="176.02,29.46 173.57,33.43 178.47,33.43" stroke="#ff4d00" stroke-width="0.75" fill="none"/><polygon points="177.06,29.56 174.61,33.53 179.51,33.53" stroke="#ff4d00" stroke-width="0.75" fill="none"/><polygon points="178.11,29.67 175.66,33.64 180.56,33.64" stroke="#ff4d00" stroke-width="0.75" fill="none"/><polygon points="179.16,29.77 176.71,33.74 181.61,33.74" stroke="#ff4d00" stroke-width="0.75" fill="none"/><polygon points="180.21,29.88 177.76,33.85 182.66,33.85" stroke="#ff4d00" stroke-width="0.75" fill="none"/><polygon points="181.26,29.98 178.81,33.95 183.71,33.95" stroke="#ff4d00" stroke-width="0.75" fill="none"/><polygon points="182.3,30.09 179.85,34.06 184.75,34.06" stroke="#ff4d00" stroke-width="0.75" fill="none"/><polygon points="183.35,30.19 180.9,34.16 185.8,34.16" stroke="#ff4d00" stroke-width="0.75" fill="none"/><polygon points="184.4,30.31 181.95,34.28 186.85,34.28" stroke="#ff4d00" stroke-width="0.75" fill="none"/><polygon points="185.45,30.44 183,34.41 187.9,34.41" stroke="#ff4d00" stroke-width="0.75" fill="none"/><polygon points="186.5,30.58 184.05,34.55 188.95,34.55" stroke="#ff4d00" stroke-width="0.75" fill="none"/><polygon points="187.54,30.71 185.09,34.68 189.99,34.68" stroke="#ff4d00" stroke-width="0.75" fill="none"/><polygon points="188.59,30.85 186.14,34.81 191.04,34.81" stroke="#ff4d00" stroke-width="0.75" fill="none"/><polygon points="189.64,30.98 187.19,34.95 192.09,34.95" stroke="#ff4d00" stroke-width="0.75" fill="none"/><polygon points="190.69,31.11 188.24,35.08 193.14,35.08" stroke="#ff4d00" stroke-width="0.75" fill="none"/><polygon points="191.74,31.25 189.29,35.22 194.19,35.22" stroke="#ff4d00" stroke-width="0.75" fill="none"/><polygon points="192.78,31.38 190.33,35.35 195.23,35.35" stroke="#ff4d00" stroke-width="0.75" fill="none"/><polygon points="193.83,31.52 191.38,35.49 196.28,35.49" stroke="#ff4d00" stroke-width="0.75" fill="none"/><polygon points="194.88,31.65 192.43,35.62 197.33,35.62" stroke="#ff4d00" stroke-width="0.75" fill="none"/><polygon points="195.93,31.79 193.48,35.76 198.38,35.76" stroke="#ff4d00" stroke-width="0.75" fill="none"/><polygon points="196.98,31.92 194.53,35.89 199.43,35.89" stroke="#ff4d00" stroke-width="0.75" fill="none"/><polygon points="198.02,32.06 195.57,36.02 200.47,36.02" stroke="#ff4d00" stroke-width="0.75" fill="none"/><polygon points="199.07,32.19 196.62,36.16 201.52,36.16" stroke="#ff4d00" stroke-width="0.75" fill="none"/><polygon points="200.12,32.32 197.67,36.29 202.57,36.29" stroke="#ff4d00" stroke-width="0.75" fill="none"/><polygon points="201.17,32.46 198.72,36.43 203.62,36.43" stroke="#ff4d00" stroke-width="0.75" fill="none"/><polygon points="202.22,32.59 199.77,36.56 204.67,36.56" stroke="#ff4d00" stroke-width="0.75" fill="none"/><polygon points="203.26,32.73 200.81,36.7 205.71,36.7" stroke="#ff4d00" stroke-width="0.75" fill="none"/><polygon points="204.31,32.86 201.86,36.83 206.76,36.83" stroke="#ff4d00" stroke-width="0.75" fill="none"/><polygon points="205.36,33 202.91,36.97 207.81,36.97" stroke="#ff4d00" stroke-width="0.75" fill="none"/><polygon points="206.41,33.13 203.96,37.1 208.86,37.1" stroke="#ff4d00" stroke-width="0.75" fill="none"/><polygon points="207.46,33.27 205.01,37.23 209.91,37.23" stroke="#ff4d00" stroke-width="0.75" fill="none"/><polygon points="208.5,33.4 206.05,37.37 210.95,37.37" stroke="#ff4d00" stroke-width="0.75" fill="none"/><polygon points="209.55,33.53 207.1,37.5 212,37.5" stroke="#ff4d00" stroke-width="0.75" fill="none"/><polygon points="210.6,33.67 208.15,37.64 213.05,37.64" stroke="#ff4d00" stroke-width="0.75" fill="none"/><polygon points="211.65,33.8 209.2,37.77 214.1,37.77" stroke="#ff4d00" stroke-width="0.75" fill="none"/><polygon points="212.7,33.94 210.25,37.91 215.15,37.91" stroke="#ff4d00" stroke-width="0.75" fill="none"/><polygon points="213.74,34.07 211.29,38.04 216.19,38.04" stroke="#ff4d00" stroke-width="0.75" fill="none"/><polygon points="214.79,34.21 212.34,38.18 217.24,38.18" stroke="#ff4d00" stroke-width="0.75" fill="none"/><polygon points="215.84,34.34 213.39,38.31 218.29,38.31" stroke="#ff4d00" stroke-width="0.75" fill="none"/><polygon points="216.89,34.48 214.44,38.44 219.34,38.44" stroke="#ff4d00" stroke-width="0.75" fill="none"/><polygon points="217.94,34.61 215.49,38.58 220.39,38.58" stroke="#ff4d00" stroke-width="0.75" fill="none"/><polygon points="218.98,34.74 216.53,38.71 221.43,38.71" stroke="#ff4d00" stroke-width="0.75" fill="none"/><polygon points="220.03,34.88 217.58,38.85 222.48,38.85" stroke="#ff4d00" stroke-width="0.75" fill="none"/><polygon points="221.08,35.01 218.63,38.98 223.53,38.98" stroke="#ff4d00" stroke-width="0.75" fill="none"/><polygon points="222.13,35.15 219.68,39.12 224.58,39.12" stroke="#ff4d00" stroke-width="0.75" fill="none"/><polygon points="223.18,35.28 220.73,39.25 225.63,39.25" stroke="#ff4d00" stroke-width="0.75" fill="none"/><polygon points="224.22,35.42 221.77,39.39 226.67,39.39" stroke="#ff4d00" stroke-width="0.75" fill="none"/><polygon points="225.27,35.55 222.82,39.52 227.72,39.52" stroke="#ff4d00" stroke-width="0.75" fill="none"/><polygon points="226.32,35.69 223.87,39.65 228.77,39.65" stroke="#ff4d00" stroke-width="0.75" fill="none"/><polygon points="227.37,35.82 224.92,39.79 229.82,39.79" stroke="#ff4d00" stroke-width="0.75" fill="none"/><polygon points="228.42,35.95 225.97,39.92 230.87,39.92" stroke="#ff4d00" stroke-width="0.75" fill="none"/><polygon points="229.46,36.09 227.01,40.06 231.91,40.06" stroke="#ff4d00" stroke-width="0.75" fill="none"/><polygon points="230.51,36.22 228.06,40.19 232.96,40.19" stroke="#ff4d00" stroke-width="0.75" fill="none"/><polygon points="231.56,36.36 229.11,40.33 234.01,40.33" stroke="#ff4d00" stroke-width="0.75" fill="none"/><polygon points="232.61,36.49 230.16,40.46 235.06,40.46" stroke="#ff4d00" stroke-width="0.75" fill="none"/><polygon points="233.66,36.63 231.21,40.6 236.11,40.6" stroke="#ff4d00" stroke-width="0.75" fill="none"/><polygon points="234.7,36.76 232.25,40.73 237.15,40.73" stroke="#ff4d00" stroke-width="0.75" fill="none"/><polygon points="235.75,36.9 233.3,40.86 238.2,40.86" stroke="#ff4d00" stroke-width="0.75" fill="none"/><polygon points="236.8,37.03 234.35,41 239.25,41" stroke="#ff4d00" stroke-width="0.75" fill="none"/><polygon points="237.85,37.2 235.4,41.17 240.3,41.17" stroke="#ff4d00" stroke-width="0.75" fill="none"/><polygon points="238.9,37.38 236.45,41.35 241.35,41.35" stroke="#ff4d00" stroke-width="0.75" fill="none"/><polygon points="239.94,37.57 237.49,41.53 242.39,41.53" stroke="#ff4d00" stroke-width="0.75" fill="none"/><polygon points="240.99,37.75 238.54,41.72 243.44,41.72" stroke="#ff4d00" stroke-width="0.75" fill="none"/><polygon points="242.04,37.93 239.59,41.9 244.49,41.9" stroke="#ff4d00" stroke-width="0.75" fill="none"/><polygon points="243.09,38.11 240.64,42.08 245.54,42.08" stroke="#ff4d00" stroke-width="0.75" fill="none"/><polygon points="244.14,38.29 241.69,42.26 246.59,42.26" stroke="#ff4d00" stroke-width="0.75" fill="none"/><polygon points="245.18,38.47 242.73,42.44 247.63,42.44" stroke="#ff4d00" stroke-width="0.75" fill="none"/><polygon points="246.23,38.65 243.78,42.62 248.68,42.62" stroke="#ff4d00" stroke-width="0.75" fill="none"/><polygon points="247.28,38.84 244.83,42.8 249.73,42.8" stroke="#ff4d00" stroke-width="0.75" fill="none"/><polygon points="248.33,39.02 245.88,42.99 250.78,42.99" stroke="#ff4d00" stroke-width="0.75" fill="none"/><polygon points="249.38,39.2 246.93,43.17 251.83,43.17" stroke="#ff4d00" stroke-width="0.75" fill="none"/><polygon points="250.42,39.38 247.97,43.35 252.87,43.35" stroke="#ff4d00" stroke-width="0.75" fill="none"/><polygon points="251.47,39.56 249.02,43.53 253.92,43.53" stroke="#ff4d00" stroke-width="0.75" fill="none"/><polygon points="252.52,39.74 250.07,43.71 254.97,43.71" stroke="#ff4d00" stroke-width="0.75" fill="none"/><polygon points="253.57,39.92 251.12,43.89 256.02,43.89" stroke="#ff4d00" stroke-width="0.75" fill="none"/><polygon points="254.62,40.1 252.17,44.07 257.07,44.07" stroke="#ff4d00" stroke-width="0.75" fill="none"/><polygon points="255.66,40.29 253.21,44.26 258.11,44.26" stroke="#ff4d00" stroke-width="0.75" fill="none"/><polygon points="256.71,40.47 254.26,44.44 259.16,44.44" stroke="#ff4d00" stroke-width="0.75" fill="none"/><polygon points="257.76,40.65 255.31,44.62 260.21,44.62" stroke="#ff4d00" stroke-width="0.75" fill="none"/><polygon points="258.81,40.89 256.36,44.86 261.26,44.86" stroke="#ff4d00" stroke-width="0.75" fill="none"/><polygon points="259.86,41.13 257.41,45.1 262.31,45.1" stroke="#ff4d00" stroke-width="0.75" fill="none"/><polygon points="260.9,41.37 258.45,45.34 263.35,45.34" stroke="#ff4d00" stroke-width="0.75" fill="none"/><polygon points="261.95,41.61 259.5,45.58 264.4,45.58" stroke="#ff4d00" stroke-width="0.75" fill="none"/><polygon points="263,41.85 260.55,45.82 265.45,45.82" stroke="#ff4d00" stroke-width="0.75" fill="none"/><polygon points="264.05,42.09 261.6,46.06 266.5,46.06" stroke="#ff4d00" stroke-width="0.75" fill="none"/><polygon points="265.1,42.33 262.65,46.3 267.55,46.3" stroke="#ff4d00" stroke-width="0.75" fill="none"/><polygon points="266.14,42.57 263.69,46.54 268.59,46.54" stroke="#ff4d00" stroke-width="0.75" fill="none"/><polygon points="267.19,42.81 264.74,46.78 269.64,46.78" stroke="#ff4d00" stroke-width="0.75" fill="none"/><polygon points="268.24,43.05 265.79,47.02 270.69,47.02" stroke="#ff4d00" stroke-width="0.75" fill="none"/><polygon points="269.29,43.29 266.84,47.26 271.74,47.26" stroke="#ff4d00" stroke-width="0.75" fill="none"/><polygon points="270.34,43.54 267.89,47.51 272.79,47.51" stroke="#ff4d00" stroke-width="0.75" fill="none"/><polygon points="271.38,43.82 268.93,47.78 273.83,47.78" stroke="#ff4d00" stroke-width="0.75" fill="none"/><polygon points="272.43,44.09 269.98,48.06 274.88,48.06" stroke="#ff4d00" stroke-width="0.75" fill="none"/><polygon points="273.48,44.36 271.03,48.33 275.93,48.33" stroke="#ff4d00" stroke-width="0.75" fill="none"/><polygon points="274.53,44.63 272.08,48.6 276.98,48.6" stroke="#ff4d00" stroke-width="0.75" fill="none"/><polygon points="275.58,44.91 273.13,48.87 278.03,48.87" stroke="#ff4d00" stroke-width="0.75" fill="none"/><polygon points="276.62,45.18 274.17,49.15 279.07,49.15" stroke="#ff4d00" stroke-width="0.75" fill="none"/><polygon points="277.67,45.45 275.22,49.42 280.12,49.42" stroke="#ff4d00" stroke-width="0.75" fill="none"/><polygon points="278.72,45.72 276.27,49.69 281.17,49.69" stroke="#ff4d00" stroke-width="0.75" fill="none"/><polygon points="279.77,46 277.32,49.96 282.22,49.96" stroke="#ff4d00" stroke-width="0.75" fill="none"/><polygon points="280.82,46.32 278.37,50.29 283.27,50.29" stroke="#ff4d00" stroke-width="0.75" fill="none"/><polygon points="281.86,46.65 279.41,50.62 284.31,50.62" stroke="#ff4d00" stroke-width="0.75" fill="none"/><polygon points="282.91,46.99 280.46,50.96 285.36,50.96" stroke="#ff4d00" stroke-width="0.75" fill="none"/><polygon points="283.96,47.32 281.51,51.29 286.41,51.29" stroke="#ff4d00" stroke-width="0.75" fill="none"/><polygon points="285.01,47.66 282.56,51.63 287.46,51.63" stroke="#ff4d00" stroke-width="0.75" fill="none"/><polygon points="286.06,47.99 283.61,51.96 288.51,51.96" stroke="#ff4d00" stroke-width="0.75" fill="none"/><polygon points="287.1,48.33 284.65,52.3 289.55,52.3" stroke="#ff4d00" stroke-width="0.75" fill="none"/><polygon points="288.15,48.66 285.7,52.63 290.6,52.63" stroke="#ff4d00" stroke-width="0.75" fill="none"/><polygon points="289.2,49 286.75,52.97 291.65,52.97" stroke="#ff4d00" stroke-width="0.75" fill="none"/><polygon points="290.25,49.37 287.8,53.34 292.7,53.34" stroke="#ff4d00" stroke-width="0.75" fill="none"/><polygon points="291.3,49.85 288.85,53.81 293.75,53.81" stroke="#ff4d00" stroke-width="0.75" fill="none"/><polygon points="292.34,50.34 289.89,54.31 294.79,54.31" stroke="#ff4d00" stroke-width="0.75" fill="none"/><polygon points="293.39,51.06 290.94,55.03 295.84,55.03" stroke="#ff4d00" stroke-width="0.75" fill="none"/><polygon points="294.44,50.82 291.99,54.78 296.89,54.78" stroke="#ff4d00" stroke-width="0.75" fill="none"/><polygon points="295.49,51.78 293.04,55.75 297.94,55.75" stroke="#ff4d00" stroke-width="0.75" fill="none"/><polygon points="296.54,53.83 294.09,57.8 298.99,57.8" stroke="#ff4d00" stroke-width="0.75" fill="none"/><polygon points="297.58,54.69 295.13,58.66 300.03,58.66" stroke="#ff4d00" stroke-width="0.75" fill="none"/><polygon points="298.63,50.94 296.18,54.91 301.08,54.91" stroke="#ff4d00" stroke-width="0.75" fill="none"/><polygon points="299.68,51.74 297.23,55.7 302.13,55.7" stroke="#ff4d00" stroke-width="0.75" fill="none"/><polygon points="300.73,51.13 298.28,55.1 303.18,55.1" stroke="#ff4d00" stroke-width="0.75" fill="none"/><polygon points="301.78,54.53 299.33,58.5 304.23,58.5" stroke="#ff4d00" stroke-width="0.75" fill="none"/><polygon points="302.82,52.17 300.37,56.14 305.27,56.14" stroke="#ff4d00" stroke-width="0.75" fill="none"/><polygon points="303.87,55.84 301.42,59.81 306.32,59.81" stroke="#ff4d00" stroke-width="0.75" fill="none"/><polygon points="304.92,57.83 302.47,61.8 307.37,61.8" stroke="#ff4d00" stroke-width="0.75" fill="none"/><polygon points="305.97,55.84 303.52,59.81 308.42,59.81" stroke="#ff4d00" stroke-width="0.75" fill="none"/><polygon points="307.02,59.85 304.57,63.82 309.47,63.82" stroke="#ff4d00" stroke-width="0.75" fill="none"/><polygon points="308.06,60.37 305.61,64.34 310.51,64.34" stroke="#ff4d00" stroke-width="0.75" fill="none"/><polygon points="309.11,57.43 306.66,61.4 311.56,61.4" stroke="#ff4d00" stroke-width="0.75" fill="none"/><polygon points="310.16,62.42 307.71,66.39 312.61,66.39" stroke="#ff4d00" stroke-width="0.75" fill="none"/><polygon points="311.21,61.39 308.76,65.36 313.66,65.36" stroke="#ff4d00" stroke-width="0.75" fill="none"/><polygon points="312.26,63.63 309.81,67.6 314.71,67.6" stroke="#ff4d00" stroke-width="0.75" fill="none"/><polygon points="313.3,63.91 310.85,67.88 315.75,67.88" stroke="#ff4d00" stroke-width="0.75" fill="none"/><polygon points="314.35,69.04 311.9,73.01 316.8,73.01" stroke="#ff4d00" stroke-width="0.75" fill="none"/><polygon points="315.4,69.39 312.95,73.36 317.85,73.36" stroke="#ff4d00" stroke-width="0.75" fill="none"/><polygon points="316.45,69.53 314,73.49 318.9,73.49" stroke="#ff4d00" stroke-width="0.75" fill="none"/><polygon points="317.5,74.47 315.05,78.44 319.95,78.44" stroke="#ff4d00" stroke-width="0.75" fill="none"/><polygon points="318.54,78.26 316.09,82.23 320.99,82.23" stroke="#ff4d00" stroke-width="0.75" fill="none"/><polygon points="319.59,76.95 317.14,80.91 322.04,80.91" stroke="#ff4d00" stroke-width="0.75" fill="none"/><polygon points="320.64,78.43 318.19,82.4 323.09,82.4" stroke="#ff4d00" stroke-width="0.75" fill="none"/><polygon points="321.69,82.22 319.24,86.19 324.14,86.19" stroke="#ff4d00" stroke-width="0.75" fill="none"/><polygon points="322.74,89.62 320.29,93.59 325.19,93.59" stroke="#ff4d00" stroke-width="0.75" fill="none"/><polygon points="323.78,93.34 321.33,97.31 326.23,97.31" stroke="#ff4d00" stroke-width="0.75" fill="none"/><polygon points="324.83,94.6 322.38,98.57 327.28,98.57" stroke="#ff4d00" stroke-width="0.75" fill="none"/><polygon points="325.88,99.76 323.43,103.73 328.33,103.73" stroke="#ff4d00" stroke-width="0.75" fill="none"/><polygon points="326.93,102.84 324.48,106.81 329.38,106.81" stroke="#ff4d00" stroke-width="0.75" fill="none"/><polygon points="327.98,102.96 325.53,106.93 330.43,106.93" stroke="#ff4d00" stroke-width="0.75" fill="none"/><polygon points="329.02,104.39 326.57,108.36 331.47,108.36" stroke="#ff4d00" stroke-width="0.75" fill="none"/><polygon points="330.07,111.65 327.62,115.62 332.52,115.62" stroke="#ff4d00" stroke-width="0.75" fill="none"/><polygon points="331.12,113.77 328.67,117.74 333.57,117.74" stroke="#ff4d00" stroke-width="0.75" fill="none"/><polygon points="332.17,117.67 329.72,121.64 334.62,121.64" stroke="#ff4d00" stroke-width="0.75" fill="none"/><polygon points="333.22,122.85 330.77,126.82 335.67,126.82" stroke="#ff4d00" stroke-width="0.75" fill="none"/><polygon points="334.26,134.09 331.81,138.06 336.71,138.06" stroke="#ff4d00" stroke-width="0.75" fill="none"/><polygon points="351.03,219.76 348.58,223.73 353.48,223.73" stroke="#ff4d00" stroke-width="0.75" fill="none"/><polygon points="352.08,223.41 349.63,227.38 354.53,227.38" stroke="#ff4d00" stroke-width="0.75" fill="none"/><polygon points="353.13,227.07 350.68,231.03 355.58,231.03" stroke="#ff4d00" stroke-width="0.75" fill="none"/><polygon points="354.18,230.53 351.73,234.5 356.63,234.5" stroke="#ff4d00" stroke-width="0.75" fill="none"/><polygon points="355.22,233.48 352.77,237.45 357.67,237.45" stroke="#ff4d00" stroke-width="0.75" fill="none"/><polygon points="356.27,236.43 353.82,240.4 358.72,240.4" stroke="#ff4d00" stroke-width="0.75" fill="none"/><polygon points="357.32,239.01 354.87,242.98 359.77,242.98" stroke="#ff4d00" stroke-width="0.75" fill="none"/><polygon points="358.37,240.23 355.92,244.2 360.82,244.2" stroke="#ff4d00" stroke-width="0.75" fill="none"/><polygon points="359.42,241.45 356.97,245.42 361.87,245.42" stroke="#ff4d00" stroke-width="0.75" fill="none"/><polygon points="360.46,242.67 358.01,246.64 362.91,246.64" stroke="#ff4d00" stroke-width="0.75" fill="none"/><polygon points="361.51,243.89 359.06,247.86 363.96,247.86" stroke="#ff4d00" stroke-width="0.75" fill="none"/><polygon points="362.56,244.66 360.11,248.63 365.01,248.63" stroke="#ff4d00" stroke-width="0.75" fill="none"/><polygon points="363.61,245.04 361.16,249.01 366.06,249.01" stroke="#ff4d00" stroke-width="0.75" fill="none"/><polygon points="364.66,245.42 362.21,249.39 367.11,249.39" stroke="#ff4d00" stroke-width="0.75" fill="none"/><polygon points="365.7,245.8 363.25,249.77 368.15,249.77" stroke="#ff4d00" stroke-width="0.75" fill="none"/><polygon points="366.75,246.18 364.3,250.15 369.2,250.15" stroke="#ff4d00" stroke-width="0.75" fill="none"/><polygon points="367.8,246.57 365.35,250.53 370.25,250.53" stroke="#ff4d00" stroke-width="0.75" fill="none"/><polygon points="368.85,246.88 366.4,250.85 371.3,250.85" stroke="#ff4d00" stroke-width="0.75" fill="none"/><polygon points="369.9,246.97 367.45,250.94 372.35,250.94" stroke="#ff4d00" stroke-width="0.75" fill="none"/><polygon points="370.94,247.06 368.49,251.03 373.39,251.03" stroke="#ff4d00" stroke-width="0.75" fill="none"/><polygon points="371.99,247.15 369.54,251.12 374.44,251.12" stroke="#ff4d00" stroke-width="0.75" fill="none"/><polygon points="373.04,247.25 370.59,251.21 375.49,251.21" stroke="#ff4d00" stroke-width="0.75" fill="none"/><polygon points="374.09,247.34 371.64,251.31 376.54,251.31" stroke="#ff4d00" stroke-width="0.75" fill="none"/><polygon points="375.14,247.43 372.69,251.4 377.59,251.4" stroke="#ff4d00" stroke-width="0.75" fill="none"/><polygon points="376.18,247.52 373.73,251.49 378.63,251.49" stroke="#ff4d00" stroke-width="0.75" fill="none"/><polygon points="377.23,247.61 374.78,251.58 379.68,251.58" stroke="#ff4d00" stroke-width="0.75" fill="none"/><polygon points="378.28,247.71 375.83,251.67 380.73,251.67" stroke="#ff4d00" stroke-width="0.75" fill="none"/><polygon points="379.33,247.8 376.88,251.77 381.78,251.77" stroke="#ff4d00" stroke-width="0.75" fill="none"/><polygon points="380.38,247.87 377.93,251.84 382.83,251.84" stroke="#ff4d00" stroke-width="0.75" fill="none"/><polygon points="381.42,247.9 378.97,251.87 383.87,251.87" stroke="#ff4d00" stroke-width="0.75" fill="none"/><polygon points="382.47,247.94 380.02,251.9 384.92,251.9" stroke="#ff4d00" stroke-width="0.75" fill="none"/><polygon points="383.52,247.97 381.07,251.94 385.97,251.94" stroke="#ff4d00" stroke-width="0.75" fill="none"/><polygon points="384.57,248 382.12,251.97 387.02,251.97" stroke="#ff4d00" stroke-width="0.75" fill="none"/><polygon points="385.62,248.04 383.17,252.01 388.07,252.01" stroke="#ff4d00" stroke-width="0.75" fill="none"/><polygon points="386.66,248.07 384.21,252.04 389.11,252.04" stroke="#ff4d00" stroke-width="0.75" fill="none"/><polygon points="387.71,248.1 385.26,252.07 390.16,252.07" stroke="#ff4d00" stroke-width="0.75" fill="none"/><polygon points="388.76,248.14 386.31,252.11 391.21,252.11" stroke="#ff4d00" stroke-width="0.75" fill="none"/><polygon points="334.3,134.56 331.85,138.53 336.75,138.53" stroke="#ff4d00" stroke-width="0.75" fill="none"/><polygon points="335.5,138.76 333.05,142.72 337.95,142.72" stroke="#ff4d00" stroke-width="0.75" fill="none"/><polygon points="336.7,142.76 334.25,146.72 339.15,146.72" stroke="#ff4d00" stroke-width="0.75" fill="none"/><polygon points="337.6,147.66 335.15,151.62 340.05,151.62" stroke="#ff4d00" stroke-width="0.75" fill="none"/><polygon points="338.7,156.66 336.25,160.62 341.15,160.62" stroke="#ff4d00" stroke-width="0.75" fill="none"/><polygon points="339.2,160.76 336.75,164.72 341.65,164.72" stroke="#ff4d00" stroke-width="0.75" fill="none"/><polygon points="340.8,167.26 338.35,171.22 343.25,171.22" stroke="#ff4d00" stroke-width="0.75" fill="none"/><polygon points="342.4,174.56 339.95,178.53 344.85,178.53" stroke="#ff4d00" stroke-width="0.75" fill="none"/><polygon points="343.3,179.46 340.85,183.42 345.75,183.42" stroke="#ff4d00" stroke-width="0.75" fill="none"/><polygon points="344,184.26 341.55,188.22 346.45,188.22" stroke="#ff4d00" stroke-width="0.75" fill="none"/><polygon points="345,188.26 342.55,192.22 347.45,192.22" stroke="#ff4d00" stroke-width="0.75" fill="none"/><polygon points="345.7,192.56 343.25,196.53 348.15,196.53" stroke="#ff4d00" stroke-width="0.75" fill="none"/><polygon points="346.5,196.66 344.05,200.62 348.95,200.62" stroke="#ff4d00" stroke-width="0.75" fill="none"/><polygon points="347.3,202.26 344.85,206.22 349.75,206.22" stroke="#ff4d00" stroke-width="0.75" fill="none"/><polygon points="348.5,206.26 346.05,210.22 350.95,210.22" stroke="#ff4d00" stroke-width="0.75" fill="none"/><polygon points="349.3,210.56 346.85,214.53 351.75,214.53" stroke="#ff4d00" stroke-width="0.75" fill="none"/><polygon points="350,214.26 347.55,218.22 352.45,218.22" stroke="#ff4d00" stroke-width="0.75" fill="none"/><polygon points="350.6,218.26 348.15,222.22 353.05,222.22" stroke="#ff4d00" stroke-width="0.75" fill="none"/><polygon points="79.6,18.59 77,22.8 82.2,22.8" fill="#808080"/><polygon points="80.65,18.73 78.05,22.94 83.25,22.94" fill="#808080"/><polygon points="81.7,18.87 79.1,23.08 84.3,23.08" fill="#808080"/><polygon points="82.74,19.01 80.14,23.23 85.34,23.23" fill="#808080"/><polygon points="83.79,19.16 81.19,23.37 86.39,23.37" fill="#808080"/><polygon points="84.84,19.3 82.24,23.51 87.44,23.51" fill="#808080"/><polygon points="85.89,19.44 83.29,23.65 88.49,23.65" fill="#808080"/><polygon points="86.94,19.58 84.34,23.79 89.54,23.79" fill="#808080"/><polygon points="87.98,19.72 85.38,23.94 90.58,23.94" fill="#808080"/><polygon points="89.03,19.87 86.43,24.08 91.63,24.08" fill="#808080"/><polygon points="90.08,20.01 87.48,24.22 92.68,24.22" fill="#808080"/><polygon points="91.13,20.15 88.53,24.36 93.73,24.36" fill="#808080"/><polygon points="92.18,20.29 89.58,24.5 94.78,24.5" fill="#808080"/><polygon points="93.22,20.43 90.62,24.65 95.82,24.65" fill="#808080"/><polygon points="94.27,20.58 91.67,24.79 96.87,24.79" fill="#808080"/><polygon points="95.32,20.72 92.72,24.93 97.92,24.93" fill="#808080"/><polygon points="96.37,20.86 93.77,25.07 98.97,25.07" fill="#808080"/><polygon points="97.42,21 94.82,25.21 100.02,25.21" fill="#808080"/><polygon points="98.46,21.14 95.86,25.36 101.06,25.36" fill="#808080"/><polygon points="99.51,21.29 96.91,25.5 102.11,25.5" fill="#808080"/><polygon points="100.56,21.43 97.96,25.64 103.16,25.64" fill="#808080"/><polygon points="101.61,21.57 99.01,25.78 104.21,25.78" fill="#808080"/><polygon points="102.66,21.71 100.06,25.92 105.26,25.92" fill="#808080"/><polygon points="103.7,21.85 101.1,26.07 106.3,26.07" fill="#808080"/><polygon points="104.75,22 102.15,26.21 107.35,26.21" fill="#808080"/><polygon points="105.8,22.14 103.2,26.35 108.4,26.35" fill="#808080"/><polygon points="106.85,22.28 104.25,26.49 109.45,26.49" fill="#808080"/><polygon points="107.9,22.42 105.3,26.63 110.5,26.63" fill="#808080"/><polygon points="108.94,22.56 106.34,26.78 111.54,26.78" fill="#808080"/><polygon points="109.99,22.71 107.39,26.92 112.59,26.92" fill="#808080"/><polygon points="111.04,22.85 108.44,27.06 113.64,27.06" fill="#808080"/><polygon points="112.09,22.99 109.49,27.2 114.69,27.2" fill="#808080"/><polygon points="113.14,23.13 110.54,27.34 115.74,27.34" fill="#808080"/><polygon points="114.18,23.27 111.58,27.49 116.78,27.49" fill="#808080"/><polygon points="115.23,23.42 112.63,27.63 117.83,27.63" fill="#808080"/><polygon points="116.28,23.56 113.68,27.77 118.88,27.77" fill="#808080"/><polygon points="117.33,23.7 114.73,27.91 119.93,27.91" fill="#808080"/><polygon points="118.38,23.84 115.78,28.05 120.98,28.05" fill="#808080"/><polygon points="119.42,23.98 116.82,28.2 122.02,28.2" fill="#808080"/><polygon points="120.47,24.13 117.87,28.34 123.07,28.34" fill="#808080"/><polygon points="121.52,24.27 118.92,28.48 124.12,28.48" fill="#808080"/><polygon points="122.57,24.41 119.97,28.62 125.17,28.62" fill="#808080"/><polygon points="123.62,24.55 121.02,28.76 126.22,28.76" fill="#808080"/><polygon points="124.66,24.69 122.06,28.91 127.26,28.91" fill="#808080"/><polygon points="125.71,24.84 123.11,29.05 128.31,29.05" fill="#808080"/><polygon points="126.76,24.98 124.16,29.19 129.36,29.19" fill="#808080"/><polygon points="127.81,25.12 125.21,29.33 130.41,29.33" fill="#808080"/><polygon points="128.86,25.26 126.26,29.47 131.46,29.47" fill="#808080"/><polygon points="129.9,25.4 127.3,29.62 132.5,29.62" fill="#808080"/><polygon points="130.95,25.55 128.35,29.76 133.55,29.76" fill="#808080"/><polygon points="132,25.69 129.4,29.9 134.6,29.9" fill="#808080"/><polygon points="133.05,25.79 130.45,30 135.65,30" fill="#808080"/><polygon points="134.1,25.9 131.5,30.11 136.7,30.11" fill="#808080"/><polygon points="135.14,26 132.54,30.21 137.74,30.21" fill="#808080"/><polygon points="136.19,26.11 133.59,30.32 138.79,30.32" fill="#808080"/><polygon points="137.24,26.21 134.64,30.42 139.84,30.42" fill="#808080"/><polygon points="138.29,26.32 135.69,30.53 140.89,30.53" fill="#808080"/><polygon points="139.34,26.42 136.74,30.63 141.94,30.63" fill="#808080"/><polygon points="140.38,26.53 137.78,30.74 142.98,30.74" fill="#808080"/><polygon points="141.43,26.63 138.83,30.84 144.03,30.84" fill="#808080"/><polygon points="142.48,26.74 139.88,30.95 145.08,30.95" fill="#808080"/><polygon points="143.53,26.84 140.93,31.05 146.13,31.05" fill="#808080"/><polygon points="144.58,26.95 141.98,31.16 147.18,31.16" fill="#808080"/><polygon points="145.62,27.05 143.02,31.26 148.22,31.26" fill="#808080"/><polygon points="146.67,27.16 144.07,31.37 149.27,31.37" fill="#808080"/><polygon points="147.72,27.26 145.12,31.47 150.32,31.47" fill="#808080"/><polygon points="148.77,27.36 146.17,31.58 151.37,31.58" fill="#808080"/><polygon points="149.82,27.47 147.22,31.68 152.42,31.68" fill="#808080"/><polygon points="150.86,27.57 148.26,31.79 153.46,31.79" fill="#808080"/><polygon points="151.91,27.68 149.31,31.89 154.51,31.89" fill="#808080"/><polygon points="152.96,27.78 150.36,32 155.56,32" fill="#808080"/><polygon points="154.01,27.89 151.41,32.1 156.61,32.1" fill="#808080"/><polygon points="155.06,27.99 152.46,32.21 157.66,32.21" fill="#808080"/><polygon points="156.1,28.1 153.5,32.31 158.7,32.31" fill="#808080"/><polygon points="157.15,28.2 154.55,32.42 159.75,32.42" fill="#808080"/><polygon points="158.2,28.31 155.6,32.52 160.8,32.52" fill="#808080"/><polygon points="159.25,28.41 156.65,32.62 161.85,32.62" fill="#808080"/><polygon points="160.3,28.52 157.7,32.73 162.9,32.73" fill="#808080"/><polygon points="161.34,28.62 158.74,32.83 163.94,32.83" fill="#808080"/><polygon points="162.39,28.73 159.79,32.94 164.99,32.94" fill="#808080"/><polygon points="163.44,28.83 160.84,33.04 166.04,33.04" fill="#808080"/><polygon points="164.49,28.94 161.89,33.15 167.09,33.15" fill="#808080"/><polygon points="165.54,29.04 162.94,33.25 168.14,33.25" fill="#808080"/><polygon points="166.58,29.15 163.98,33.36 169.18,33.36" fill="#808080"/><polygon points="167.63,29.25 165.03,33.46 170.23,33.46" fill="#808080"/><polygon points="168.68,29.36 166.08,33.57 171.28,33.57" fill="#808080"/><polygon points="169.73,29.46 167.13,33.67 172.33,33.67" fill="#808080"/><polygon points="170.78,29.57 168.18,33.78 173.38,33.78" fill="#808080"/><polygon points="171.82,29.67 169.22,33.88 174.42,33.88" fill="#808080"/><polygon points="172.87,29.78 170.27,33.99 175.47,33.99" fill="#808080"/><polygon points="173.92,29.88 171.32,34.09 176.52,34.09" fill="#808080"/><polygon points="174.97,29.98 172.37,34.2 177.57,34.2" fill="#808080"/><polygon points="176.02,30.09 173.42,34.3 178.62,34.3" fill="#808080"/><polygon points="177.06,30.19 174.46,34.41 179.66,34.41" fill="#808080"/><polygon points="178.11,30.3 175.51,34.51 180.71,34.51" fill="#808080"/><polygon points="179.16,30.4 176.56,34.62 181.76,34.62" fill="#808080"/><polygon points="180.21,30.51 177.61,34.72 182.81,34.72" fill="#808080"/><polygon points="181.26,30.61 178.66,34.83 183.86,34.83" fill="#808080"/><polygon points="182.3,30.72 179.7,34.93 184.9,34.93" fill="#808080"/><polygon points="183.35,30.82 180.75,35.04 185.95,35.04" fill="#808080"/><polygon points="184.4,30.94 181.8,35.15 187,35.15" fill="#808080"/><polygon points="185.45,31.09 182.85,35.3 188.05,35.3" fill="#808080"/><polygon points="186.5,31.23 183.9,35.44 189.1,35.44" fill="#808080"/><polygon points="187.54,31.37 184.94,35.58 190.14,35.58" fill="#808080"/><polygon points="188.59,31.51 185.99,35.73 191.19,35.73" fill="#808080"/><polygon points="189.64,31.66 187.04,35.87 192.24,35.87" fill="#808080"/><polygon points="190.69,31.8 188.09,36.01 193.29,36.01" fill="#808080"/><polygon points="191.74,31.94 189.14,36.15 194.34,36.15" fill="#808080"/><polygon points="192.78,32.09 190.18,36.3 195.38,36.3" fill="#808080"/><polygon points="193.83,32.23 191.23,36.44 196.43,36.44" fill="#808080"/><polygon points="194.88,32.37 192.28,36.58 197.48,36.58" fill="#808080"/><polygon points="195.93,32.51 193.33,36.73 198.53,36.73" fill="#808080"/><polygon points="196.98,32.66 194.38,36.87 199.58,36.87" fill="#808080"/><polygon points="198.02,32.8 195.42,37.01 200.62,37.01" fill="#808080"/><polygon points="199.07,32.94 196.47,37.15 201.67,37.15" fill="#808080"/><polygon points="200.12,33.08 197.52,37.29 202.72,37.29" fill="#808080"/><polygon points="201.17,33.23 198.57,37.44 203.77,37.44" fill="#808080"/><polygon points="202.22,33.37 199.62,37.58 204.82,37.58" fill="#808080"/><polygon points="203.26,33.51 200.66,37.72 205.86,37.72" fill="#808080"/><polygon points="204.31,33.65 201.71,37.86 206.91,37.86" fill="#808080"/><polygon points="205.36,33.79 202.76,38.01 207.96,38.01" fill="#808080"/><polygon points="206.41,33.94 203.81,38.15 209.01,38.15" fill="#808080"/><polygon points="207.46,34.08 204.86,38.29 210.06,38.29" fill="#808080"/><polygon points="208.5,34.22 205.9,38.43 211.1,38.43" fill="#808080"/><polygon points="209.55,34.36 206.95,38.57 212.15,38.57" fill="#808080"/><polygon points="210.6,34.51 208,38.72 213.2,38.72" fill="#808080"/><polygon points="211.65,34.65 209.05,38.86 214.25,38.86" fill="#808080"/><polygon points="212.7,34.79 210.1,39 215.3,39" fill="#808080"/><polygon points="213.74,34.93 211.14,39.14 216.34,39.14" fill="#808080"/><polygon points="214.79,35.07 212.19,39.29 217.39,39.29" fill="#808080"/><polygon points="215.84,35.22 213.24,39.43 218.44,39.43" fill="#808080"/><polygon points="216.89,35.36 214.29,39.57 219.49,39.57" fill="#808080"/><polygon points="217.94,35.5 215.34,39.71 220.54,39.71" fill="#808080"/><polygon points="218.98,35.64 216.38,39.85 221.58,39.85" fill="#808080"/><polygon points="220.03,35.79 217.43,40 222.63,40" fill="#808080"/><polygon points="221.08,35.93 218.48,40.14 223.68,40.14" fill="#808080"/><polygon points="222.13,36.07 219.53,40.28 224.73,40.28" fill="#808080"/><polygon points="223.18,36.21 220.58,40.42 225.78,40.42" fill="#808080"/><polygon points="224.22,36.35 221.62,40.57 226.82,40.57" fill="#808080"/><polygon points="225.27,36.5 222.67,40.71 227.87,40.71" fill="#808080"/><polygon points="226.32,36.64 223.72,40.85 228.92,40.85" fill="#808080"/><polygon points="227.37,36.78 224.77,40.99 229.97,40.99" fill="#808080"/><polygon points="228.42,36.92 225.82,41.14 231.02,41.14" fill="#808080"/><polygon points="229.46,37.07 226.86,41.28 232.06,41.28" fill="#808080"/><polygon points="230.51,37.21 227.91,41.42 233.11,41.42" fill="#808080"/><polygon points="231.56,37.35 228.96,41.56 234.16,41.56" fill="#808080"/><polygon points="232.61,37.49 230.01,41.7 235.21,41.7" fill="#808080"/><polygon points="233.66,37.63 231.06,41.85 236.26,41.85" fill="#808080"/><polygon points="234.7,37.78 232.1,41.99 237.3,41.99" fill="#808080"/><polygon points="235.75,37.92 233.15,42.13 238.35,42.13" fill="#808080"/><polygon points="236.8,38.06 234.2,42.27 239.4,42.27" fill="#808080"/><polygon points="237.85,38.23 235.25,42.44 240.45,42.44" fill="#808080"/><polygon points="238.9,38.41 236.3,42.62 241.5,42.62" fill="#808080"/><polygon points="239.94,38.59 237.34,42.8 242.54,42.8" fill="#808080"/><polygon points="240.99,38.77 238.39,42.98 243.59,42.98" fill="#808080"/><polygon points="242.04,38.94 239.44,43.16 244.64,43.16" fill="#808080"/><polygon points="243.09,39.12 240.49,43.33 245.69,43.33" fill="#808080"/><polygon points="244.14,39.3 241.54,43.51 246.74,43.51" fill="#808080"/><polygon points="245.18,39.48 242.58,43.69 247.78,43.69" fill="#808080"/><polygon points="246.23,39.66 243.63,43.87 248.83,43.87" fill="#808080"/><polygon points="247.28,39.86 244.68,44.07 249.88,44.07" fill="#808080"/><polygon points="248.33,40.11 245.73,44.32 250.93,44.32" fill="#808080"/><polygon points="249.38,40.36 246.78,44.57 251.98,44.57" fill="#808080"/><polygon points="250.42,40.61 247.82,44.82 253.02,44.82" fill="#808080"/><polygon points="251.47,40.86 248.87,45.08 254.07,45.08" fill="#808080"/><polygon points="252.52,41.12 249.92,45.33 255.12,45.33" fill="#808080"/><polygon points="253.57,41.37 250.97,45.58 256.17,45.58" fill="#808080"/><polygon points="254.62,41.62 252.02,45.83 257.22,45.83" fill="#808080"/><polygon points="255.66,41.87 253.06,46.09 258.26,46.09" fill="#808080"/><polygon points="256.71,42.13 254.11,46.34 259.31,46.34" fill="#808080"/><polygon points="257.76,42.38 255.16,46.59 260.36,46.59" fill="#808080"/><polygon points="258.81,42.65 256.21,46.86 261.41,46.86" fill="#808080"/><polygon points="259.86,42.93 257.26,47.14 262.46,47.14" fill="#808080"/><polygon points="260.9,43.2 258.3,47.41 263.5,47.41" fill="#808080"/><polygon points="261.95,43.48 259.35,47.69 264.55,47.69" fill="#808080"/><polygon points="263,43.77 260.4,47.99 265.6,47.99" fill="#808080"/><polygon points="264.05,44.07 261.45,48.29 266.65,48.29" fill="#808080"/><polygon points="265.1,44.37 262.5,48.58 267.7,48.58" fill="#808080"/><polygon points="266.14,44.67 263.54,48.88 268.74,48.88" fill="#808080"/><polygon points="267.19,44.97 264.59,49.18 269.79,49.18" fill="#808080"/><polygon points="268.24,45.28 265.64,49.49 270.84,49.49" fill="#808080"/><polygon points="269.29,45.59 266.69,49.8 271.89,49.8" fill="#808080"/><polygon points="270.34,45.9 267.74,50.11 272.94,50.11" fill="#808080"/><polygon points="271.38,46.21 268.78,50.42 273.98,50.42" fill="#808080"/><polygon points="272.43,46.52 269.83,50.74 275.03,50.74" fill="#808080"/><polygon points="273.48,46.84 270.88,51.05 276.08,51.05" fill="#808080"/><polygon points="274.53,47.15 271.93,51.36 277.13,51.36" fill="#808080"/><polygon points="275.58,47.48 272.98,51.7 278.18,51.7" fill="#808080"/><polygon points="276.62,47.84 274.02,52.05 279.22,52.05" fill="#808080"/><polygon points="277.67,48.2 275.07,52.41 280.27,52.41" fill="#808080"/><polygon points="278.72,48.55 276.12,52.76 281.32,52.76" fill="#808080"/><polygon points="279.77,48.91 277.17,53.12 282.37,53.12" fill="#808080"/><polygon points="280.82,49.27 278.22,53.48 283.42,53.48" fill="#808080"/><polygon points="281.86,49.62 279.26,53.83 284.46,53.83" fill="#808080"/><polygon points="282.91,49.98 280.31,54.19 285.51,54.19" fill="#808080"/><polygon points="283.96,50.33 281.36,54.55 286.56,54.55" fill="#808080"/><polygon points="285.01,50.44 282.41,54.65 287.61,54.65" fill="#808080"/><polygon points="286.06,51.7 283.46,55.91 288.66,55.91" fill="#808080"/><polygon points="287.1,51.77 284.5,55.98 289.7,55.98" fill="#808080"/><polygon points="288.15,53.08 285.55,57.29 290.75,57.29" fill="#808080"/><polygon points="289.2,53.37 286.6,57.58 291.8,57.58" fill="#808080"/><polygon points="290.25,54.18 287.65,58.39 292.85,58.39" fill="#808080"/><polygon points="291.3,55.11 288.7,59.32 293.9,59.32" fill="#808080"/><polygon points="292.34,55.69 289.74,59.9 294.94,59.9" fill="#808080"/><polygon points="293.39,56.28 290.79,60.5 295.99,60.5" fill="#808080"/><polygon points="294.44,56.98 291.84,61.19 297.04,61.19" fill="#808080"/><polygon points="295.49,57.7 292.89,61.91 298.09,61.91" fill="#808080"/><polygon points="296.54,59.13 293.94,63.34 299.14,63.34" fill="#808080"/><polygon points="297.58,59.7 294.98,63.91 300.18,63.91" fill="#808080"/><polygon points="298.63,60.29 296.03,64.5 301.23,64.5" fill="#808080"/><polygon points="299.68,61.77 297.08,65.99 302.28,65.99" fill="#808080"/><polygon points="300.73,62.16 298.13,66.37 303.33,66.37" fill="#808080"/><polygon points="301.78,63.26 299.18,67.47 304.38,67.47" fill="#808080"/><polygon points="302.82,64.12 300.22,68.33 305.42,68.33" fill="#808080"/><polygon points="303.87,65.39 301.27,69.6 306.47,69.6" fill="#808080"/><polygon points="304.92,66.32 302.32,70.53 307.52,70.53" fill="#808080"/><polygon points="305.97,67.36 303.37,71.57 308.57,71.57" fill="#808080"/><polygon points="307.02,68.12 304.42,72.33 309.62,72.33" fill="#808080"/><polygon points="308.06,69.21 305.46,73.42 310.66,73.42" fill="#808080"/><polygon points="309.11,70.24 306.51,74.46 311.71,74.46" fill="#808080"/><polygon points="310.16,71.38 307.56,75.59 312.76,75.59" fill="#808080"/><polygon points="311.21,72.31 308.61,76.52 313.81,76.52" fill="#808080"/><polygon points="312.26,73.56 309.66,77.77 314.86,77.77" fill="#808080"/><polygon points="313.3,75.51 310.7,79.73 315.9,79.73" fill="#808080"/><polygon points="314.35,77.73 311.75,81.94 316.95,81.94" fill="#808080"/><polygon points="315.4,79.25 312.8,83.46 318,83.46" fill="#808080"/><polygon points="316.45,81.32 313.85,85.53 319.05,85.53" fill="#808080"/><polygon points="317.5,83.7 314.9,87.91 320.1,87.91" fill="#808080"/><polygon points="318.54,86.36 315.94,90.58 321.14,90.58" fill="#808080"/><polygon points="319.59,88.65 316.99,92.87 322.19,92.87" fill="#808080"/><polygon points="320.64,90.37 318.04,94.58 323.24,94.58" fill="#808080"/><polygon points="321.69,93.51 319.09,97.72 324.29,97.72" fill="#808080"/><polygon points="322.74,95.63 320.14,99.84 325.34,99.84" fill="#808080"/><polygon points="323.78,98.73 321.18,102.94 326.38,102.94" fill="#808080"/><polygon points="324.83,101.48 322.23,105.69 327.43,105.69" fill="#808080"/><polygon points="325.88,104.23 323.28,108.44 328.48,108.44" fill="#808080"/><polygon points="326.93,105.77 324.33,109.99 329.53,109.99" fill="#808080"/><polygon points="327.98,108.46 325.38,112.67 330.58,112.67" fill="#808080"/><polygon points="329.02,110.72 326.42,114.93 331.62,114.93" fill="#808080"/><polygon points="330.07,112.96 327.47,117.17 332.67,117.17" fill="#808080"/><polygon points="331.12,114.33 328.52,118.54 333.72,118.54" fill="#808080"/><polygon points="332.17,116.95 329.57,121.16 334.77,121.16" fill="#808080"/><polygon points="333.22,119.85 330.62,124.06 335.82,124.06" fill="#808080"/><polygon points="334.26,122.03 331.66,126.24 336.86,126.24" fill="#808080"/><polygon points="335.31,125.11 332.71,129.32 337.91,129.32" fill="#808080"/><polygon points="336.36,127.57 333.76,131.78 338.96,131.78" fill="#808080"/><polygon points="337.41,130.47 334.81,134.69 340.01,134.69" fill="#808080"/><polygon points="338.46,132.92 335.86,137.13 341.06,137.13" fill="#808080"/><polygon points="339.5,135.29 336.9,139.5 342.1,139.5" fill="#808080"/><polygon points="340.55,138.12 337.95,142.33 343.15,142.33" fill="#808080"/><polygon points="341.6,140.92 339,145.13 344.2,145.13" fill="#808080"/><polygon points="342.65,143.87 340.05,148.08 345.25,148.08" fill="#808080"/><polygon points="343.7,147.47 341.1,151.68 346.3,151.68" fill="#808080"/><polygon points="344.74,150.13 342.14,154.35 347.34,154.35" fill="#808080"/><polygon points="345.79,153.26 343.19,157.48 348.39,157.48" fill="#808080"/><polygon points="346.84,156 344.24,160.21 349.44,160.21" fill="#808080"/><polygon points="347.89,159.03 345.29,163.24 350.49,163.24" fill="#808080"/><polygon points="348.94,162.61 346.34,166.82 351.54,166.82" fill="#808080"/><polygon points="349.98,166.33 347.38,170.54 352.58,170.54" fill="#808080"/><polygon points="351.03,169.93 348.43,174.14 353.63,174.14" fill="#808080"/><polygon points="352.08,173.47 349.48,177.68 354.68,177.68" fill="#808080"/><polygon points="353.13,175.44 350.53,179.65 355.73,179.65" fill="#808080"/><polygon points="354.18,178.19 351.58,182.4 356.78,182.4" fill="#808080"/><polygon points="355.22,180.4 352.62,184.61 357.82,184.61" fill="#808080"/><polygon points="356.27,183.36 353.67,187.57 358.87,187.57" fill="#808080"/><polygon points="357.32,185.68 354.72,189.89 359.92,189.89" fill="#808080"/><polygon points="358.37,187.09 355.77,191.3 360.97,191.3" fill="#808080"/><polygon points="359.42,189.29 356.82,193.5 362.02,193.5" fill="#808080"/><polygon points="360.46,191.53 357.86,195.74 363.06,195.74" fill="#808080"/><polygon points="361.51,193.5 358.91,197.71 364.11,197.71" fill="#808080"/><polygon points="362.56,196.08 359.96,200.29 365.16,200.29" fill="#808080"/><polygon points="363.61,198.15 361.01,202.36 366.21,202.36" fill="#808080"/><polygon points="364.66,201.05 362.06,205.27 367.26,205.27" fill="#808080"/><polygon points="365.7,203.57 363.1,207.79 368.3,207.79" fill="#808080"/><polygon points="366.75,206.11 364.15,210.32 369.35,210.32" fill="#808080"/><polygon points="367.8,208.63 365.2,212.84 370.4,212.84" fill="#808080"/><polygon points="368.85,210.83 366.25,215.04 371.45,215.04" fill="#808080"/><polygon points="369.9,212.28 367.3,216.49 372.5,216.49" fill="#808080"/><polygon points="370.94,215.13 368.34,219.35 373.54,219.35" fill="#808080"/><polygon points="371.99,216.88 369.39,221.1 374.59,221.1" fill="#808080"/><polygon points="373.04,218.53 370.44,222.75 375.64,222.75" fill="#808080"/><polygon points="374.09,220.35 371.49,224.56 376.69,224.56" fill="#808080"/><polygon points="375.14,222.02 372.54,226.23 377.74,226.23" fill="#808080"/><polygon points="376.18,223.58 373.58,227.79 378.78,227.79" fill="#808080"/><polygon points="377.23,225.14 374.63,229.35 379.83,229.35" fill="#808080"/><polygon points="378.28,226.61 375.68,230.82 380.88,230.82" fill="#808080"/><polygon points="379.33,227.8 376.73,232.01 381.93,232.01" fill="#808080"/><polygon points="380.38,228.99 377.78,233.2 382.98,233.2" fill="#808080"/><polygon points="381.42,230.19 378.82,234.4 384.02,234.4" fill="#808080"/><polygon points="382.47,231.38 379.87,235.59 385.07,235.59" fill="#808080"/><polygon points="383.52,232.57 380.92,236.78 386.12,236.78" fill="#808080"/><polygon points="384.57,233.73 381.97,237.95 387.17,237.95" fill="#808080"/><polygon points="385.62,234.45 383.02,238.66 388.22,238.66" fill="#808080"/><polygon points="386.66,235.17 384.06,239.38 389.26,239.38" fill="#808080"/><polygon points="387.71,235.88 385.11,240.09 390.31,240.09" fill="#808080"/><polygon points="388.76,236.6 386.16,240.81 391.36,240.81" fill="#808080"/><polygon points="389.81,237.31 387.21,241.52 392.41,241.52" fill="#808080"/><polygon points="390.86,238.03 388.26,242.24 393.46,242.24" fill="#808080"/><polygon points="391.9,238.74 389.3,242.96 394.5,242.96" fill="#808080"/><polygon points="392.95,239.48 390.35,243.69 395.55,243.69" fill="#808080"/><polygon points="394,240.27 391.4,244.48 396.6,244.48" fill="#808080"/><polygon points="395.05,241.06 392.45,245.27 397.65,245.27" fill="#808080"/><polygon points="396.1,241.85 393.5,246.06 398.7,246.06" fill="#808080"/><polygon points="397.14,242.64 394.54,246.85 399.74,246.85" fill="#808080"/><polygon points="398.19,243.43 395.59,247.64 400.79,247.64" fill="#808080"/><polygon points="399.24,244.2 396.64,248.41 401.84,248.41" fill="#808080"/><polygon points="400.29,244.49 397.69,248.7 402.89,248.7" fill="#808080"/><polygon points="401.34,244.78 398.74,248.99 403.94,248.99" fill="#808080"/><polygon points="402.38,245.07 399.78,249.28 404.98,249.28" fill="#808080"/><polygon points="403.43,245.35 400.83,249.57 406.03,249.57" fill="#808080"/><polygon points="404.48,245.64 401.88,249.85 407.08,249.85" fill="#808080"/><polygon points="405.53,245.93 402.93,250.14 408.13,250.14" fill="#808080"/><polygon points="406.58,246.22 403.98,250.43 409.18,250.43" fill="#808080"/><polygon points="407.62,246.51 405.02,250.72 410.22,250.72" fill="#808080"/><polygon points="408.67,246.8 406.07,251.01 411.27,251.01" fill="#808080"/><polygon points="409.72,246.94 407.12,251.15 412.32,251.15" fill="#808080"/><polygon points="410.77,247.02 408.17,251.23 413.37,251.23" fill="#808080"/><polygon points="411.82,247.1 409.22,251.31 414.42,251.31" fill="#808080"/><polygon points="412.86,247.17 410.26,251.38 415.46,251.38" fill="#808080"/><polygon points="413.91,247.25 411.31,251.46 416.51,251.46" fill="#808080"/><polygon points="414.96,247.33 412.36,251.54 417.56,251.54" fill="#808080"/><polygon points="416.01,247.4 413.41,251.62 418.61,251.62" fill="#808080"/><polygon points="417.06,247.48 414.46,251.69 419.66,251.69" fill="#808080"/><polygon points="418.1,247.56 415.5,251.77 420.7,251.77" fill="#808080"/><polygon points="419.15,247.64 416.55,251.85 421.75,251.85" fill="#808080"/><polygon points="420.2,247.71 417.6,251.92 422.8,251.92" fill="#808080"/><polygon points="421.25,247.79 418.65,252 423.85,252" fill="#808080"/><polygon points="422.3,247.87 419.7,252.08 424.9,252.08" fill="#808080"/><polygon points="423.34,247.94 420.74,252.16 425.94,252.16" fill="#808080"/><polygon points="424.39,248.02 421.79,252.23 426.99,252.23" fill="#808080"/><polygon points="425.44,248.09 422.84,252.3 428.04,252.3" fill="#808080"/><polygon points="426.49,248.12 423.89,252.34 429.09,252.34" fill="#808080"/><polygon points="427.54,248.16 424.94,252.37 430.14,252.37" fill="#808080"/><polygon points="428.58,248.19 425.98,252.4 431.18,252.4" fill="#808080"/><polygon points="429.63,248.22 427.03,252.43 432.23,252.43" fill="#808080"/><polygon points="430.68,248.25 428.08,252.46 433.28,252.46" fill="#808080"/><polygon points="431.73,248.28 429.13,252.49 434.33,252.49" fill="#808080"/><polygon points="432.78,248.31 430.18,252.53 435.38,252.53" fill="#808080"/><polygon points="433.82,248.35 431.22,252.56 436.42,252.56" fill="#808080"/><polygon points="434.87,248.38 432.27,252.59 437.47,252.59" fill="#808080"/><polygon points="435.92,248.41 433.32,252.62 438.52,252.62" fill="#808080"/><polygon points="436.97,248.44 434.37,252.65 439.57,252.65" fill="#808080"/><polygon points="438.02,248.47 435.42,252.69 440.62,252.69" fill="#808080"/><path d="M79.8 20.2L80.85 20.3L81.9 20.4L82.94 20.5L83.99 20.61L85.04 20.71L86.09 20.81L87.14 20.91L88.18 21.01L89.23 21.11L90.28 21.22L91.33 21.32L92.38 21.42L93.42 21.52L94.47 21.62L95.52 21.72L96.57 21.83L97.62 21.93L98.66 22.03L99.71 22.13L100.76 22.23L101.81 22.33L102.86 22.44L103.9 22.54L104.95 22.64L106 22.74L107.05 22.84L108.1 22.94L109.14 23.05L110.19 23.15L111.24 23.25L112.29 23.35L113.34 23.45L114.38 23.55L115.43 23.65L116.48 23.76L117.53 23.86L118.58 23.96L119.62 24.06L120.67 24.16L121.72 24.26L122.77 24.37L123.82 24.47L124.86 24.57L125.91 24.67L126.96 24.77L128.01 24.87L129.06 24.98L130.1 25.08L131.15 25.18L132.2 25.28L133.25 25.39L134.3 25.49L135.34 25.6L136.39 25.71L137.44 25.81L138.49 25.92L139.54 26.02L140.58 26.13L141.63 26.24L142.68 26.34L143.73 26.45L144.78 26.56L145.82 26.66L146.87 26.77L147.92 26.88L148.97 26.98L150.02 27.09L151.06 27.2L152.11 27.3L153.16 27.41L154.21 27.51L155.26 27.62L156.3 27.73L157.35 27.83L158.4 27.94L159.45 28.05L160.5 28.15L161.54 28.26L162.59 28.37L163.64 28.47L164.69 28.58L165.74 28.68L166.78 28.79L167.83 28.9L168.88 29L169.93 29.11L170.98 29.22L172.02 29.32L173.07 29.43L174.12 29.54L175.17 29.64L176.22 29.75L177.26 29.86L178.31 29.96L179.36 30.07L180.41 30.17L181.46 30.28L182.5 30.39L183.55 30.49L184.6 30.6L185.65 30.71L186.7 30.81L187.74 30.92L188.79 31.02L189.84 31.13L190.89 31.24L191.94 31.34L192.98 31.45L194.03 31.55L195.08 31.66L196.13 31.77L197.18 31.87L198.22 31.98L199.27 32.08L200.32 32.19L201.37 32.3L202.42 32.4L203.46 32.51L204.51 32.61L205.56 32.72L206.61 32.83L207.66 32.93L208.7 33.04L209.75 33.14L210.8 33.25L211.85 33.36L212.9 33.46L213.94 33.57L214.99 33.67L216.04 33.78L217.09 33.89L218.14 33.99L219.18 34.1L220.23 34.2L221.28 34.31L222.33 34.42L223.38 34.52L224.42 34.63L225.47 34.73L226.52 34.84L227.57 34.95L228.62 35.05L229.66 35.16L230.71 35.26L231.76 35.37L232.81 35.48L233.86 35.58L234.9 35.69L235.95 35.79L237 35.9L238.05 36.01L239.1 36.12L240.14 36.24L241.19 36.35L242.24 36.46L243.29 36.57L244.34 36.68L245.38 36.8L246.43 36.91L247.48 37.02L248.53 37.13L249.58 37.25L250.62 37.36L251.67 37.47L252.72 37.58L253.77 37.69L254.82 37.81L255.86 37.92L256.91 38.03L257.96 38.14L259.01 38.25L260.06 38.37L261.1 38.48L262.15 38.59L263.2 38.7L264.25 38.81L265.3 38.93L266.34 39.04L267.39 39.15L268.44 39.26L269.49 39.38L270.54 39.49L271.58 39.6L272.63 39.71L273.68 39.82L274.73 39.94L275.78 40.05L276.82 40.16L277.87 40.27L278.92 40.38L279.97 40.5L281.02 40.63L282.06 40.76L283.11 40.89L284.16 41.02L285.21 41.15L286.26 41.28L287.3 41.41L288.35 41.54L289.4 41.68L290.45 41.81L291.5 41.94L292.54 42.07L293.59 42.2L294.64 42.33L295.69 42.46L296.74 42.59L297.78 42.72L298.83 42.85L299.88 42.99L300.93 43.14L301.98 43.3L303.02 43.47L304.07 43.63L305.12 43.79L306.17 43.95L307.22 44.11L308.26 44.27L309.31 44.43L310.36 44.59L311.41 44.76L312.46 44.92L313.5 45.08L314.55 45.24L315.6 45.4L316.65 45.56L317.7 45.72L318.74 45.88L319.79 46.04L320.84 46.21L321.89 46.37L322.94 46.53L323.98 46.69L325.03 46.85L326.08 47.01L327.13 47.17L328.18 47.33L329.22 47.5L330.27 47.66L331.32 47.82L332.37 47.98L333.42 48.14L334.46 48.3L335.51 48.46L336.56 48.62L337.61 48.79L338.66 48.95L339.7 49.11L340.75 49.27L341.8 49.43L342.85 49.59L343.9 49.75L344.94 49.91L345.99 50.08L347.04 50.24L348.09 50.4L349.14 50.56L350.18 50.72L351.23 50.88L352.28 51.06L353.33 51.27L354.38 51.49L355.42 51.7L356.47 51.92L357.52 52.13L358.57 52.35L359.62 52.56L360.66 52.78L361.71 52.99L362.76 53.21L363.81 53.42L364.86 53.64L365.9 53.85L366.95 54.07L368 54.29L369.05 54.5L370.1 54.72L371.14 54.93L372.19 55.15L373.24 55.36L374.29 55.58L375.34 55.79L376.38 56.01L377.43 56.22L378.48 56.44L379.53 56.65L380.58 56.87L381.62 57.08L382.67 57.3L383.72 57.51L384.77 57.73L385.82 57.94L386.86 58.16L387.91 58.37L388.96 58.59L390.01 58.8L391.06 59.02L392.1 59.23L393.15 59.45L394.2 59.66L395.25 59.88L396.3 60.09L397.34 60.31L398.39 60.53L399.44 60.74L400.49 60.96L401.54 61.17L402.58 61.39L403.63 61.6L404.68 61.82L405.73 62.11L406.78 62.41L407.82 62.7L408.87 62.99L409.92 63.28L410.97 63.58L412.02 63.87L413.06 64.16L414.11 64.45L415.16 64.75L416.21 65.09L417.26 65.42L418.3 65.76L419.35 66.1L420.4 66.43L421.45 66.77L422.5 67.1L423.54 67.44L424.59 67.78L425.64 68.11L426.69 68.49L427.74 68.87L428.78 69.24L429.83 69.62L430.88 69.99L431.93 70.37L432.98 70.74L434.02 71.12L435.07 71.5L436.12 71.87L437.17 72.53L438.22 73.2L439.26 73.88L440.31 74.56L441.36 75.3L442.41 76.16L443.46 77.02L444.4 77.8L445.5 136" stroke="#ff0000" stroke-width="0.5" fill="none"/><polygon points="79.8,22.89 77.4,19 82.2,19" stroke="#ff0000" stroke-width="0.65" fill="none"/><polygon points="80.85,22.99 78.45,19.1 83.25,19.1" stroke="#ff0000" stroke-width="0.65" fill="none"/><polygon points="81.9,23.09 79.5,19.2 84.3,19.2" stroke="#ff0000" stroke-width="0.65" fill="none"/><polygon points="82.94,23.19 80.54,19.3 85.34,19.3" stroke="#ff0000" stroke-width="0.65" fill="none"/><polygon points="83.99,23.29 81.59,19.41 86.39,19.41" stroke="#ff0000" stroke-width="0.65" fill="none"/><polygon points="85.04,23.4 82.64,19.51 87.44,19.51" stroke="#ff0000" stroke-width="0.65" fill="none"/><polygon points="86.09,23.5 83.69,19.61 88.49,19.61" stroke="#ff0000" stroke-width="0.65" fill="none"/><polygon points="87.14,23.6 84.74,19.71 89.54,19.71" stroke="#ff0000" stroke-width="0.65" fill="none"/><polygon points="88.18,23.7 85.78,19.81 90.58,19.81" stroke="#ff0000" stroke-width="0.65" fill="none"/><polygon points="89.23,23.8 86.83,19.91 91.63,19.91" stroke="#ff0000" stroke-width="0.65" fill="none"/><polygon points="90.28,23.9 87.88,20.02 92.68,20.02" stroke="#ff0000" stroke-width="0.65" fill="none"/><polygon points="91.33,24.01 88.93,20.12 93.73,20.12" stroke="#ff0000" stroke-width="0.65" fill="none"/><polygon points="92.38,24.11 89.98,20.22 94.78,20.22" stroke="#ff0000" stroke-width="0.65" fill="none"/><polygon points="93.42,24.21 91.02,20.32 95.82,20.32" stroke="#ff0000" stroke-width="0.65" fill="none"/><polygon points="94.47,24.31 92.07,20.42 96.87,20.42" stroke="#ff0000" stroke-width="0.65" fill="none"/><polygon points="95.52,24.41 93.12,20.52 97.92,20.52" stroke="#ff0000" stroke-width="0.65" fill="none"/><polygon points="96.57,24.51 94.17,20.63 98.97,20.63" stroke="#ff0000" stroke-width="0.65" fill="none"/><polygon points="97.62,24.62 95.22,20.73 100.02,20.73" stroke="#ff0000" stroke-width="0.65" fill="none"/><polygon points="98.66,24.72 96.26,20.83 101.06,20.83" stroke="#ff0000" stroke-width="0.65" fill="none"/><polygon points="99.71,24.82 97.31,20.93 102.11,20.93" stroke="#ff0000" stroke-width="0.65" fill="none"/><polygon points="100.76,24.92 98.36,21.03 103.16,21.03" stroke="#ff0000" stroke-width="0.65" fill="none"/><polygon points="101.81,25.02 99.41,21.13 104.21,21.13" stroke="#ff0000" stroke-width="0.65" fill="none"/><polygon points="102.86,25.12 100.46,21.24 105.26,21.24" stroke="#ff0000" stroke-width="0.65" fill="none"/><polygon points="103.9,25.23 101.5,21.34 106.3,21.34" stroke="#ff0000" stroke-width="0.65" fill="none"/><polygon points="104.95,25.33 102.55,21.44 107.35,21.44" stroke="#ff0000" stroke-width="0.65" fill="none"/><polygon points="106,25.43 103.6,21.54 108.4,21.54" stroke="#ff0000" stroke-width="0.65" fill="none"/><polygon points="107.05,25.53 104.65,21.64 109.45,21.64" stroke="#ff0000" stroke-width="0.65" fill="none"/><polygon points="108.1,25.63 105.7,21.74 110.5,21.74" stroke="#ff0000" stroke-width="0.65" fill="none"/><polygon points="109.14,25.73 106.74,21.85 111.54,21.85" stroke="#ff0000" stroke-width="0.65" fill="none"/><polygon points="110.19,25.83 107.79,21.95 112.59,21.95" stroke="#ff0000" stroke-width="0.65" fill="none"/><polygon points="111.24,25.94 108.84,22.05 113.64,22.05" stroke="#ff0000" stroke-width="0.65" fill="none"/><polygon points="112.29,26.04 109.89,22.15 114.69,22.15" stroke="#ff0000" stroke-width="0.65" fill="none"/><polygon points="113.34,26.14 110.94,22.25 115.74,22.25" stroke="#ff0000" stroke-width="0.65" fill="none"/><polygon points="114.38,26.24 111.98,22.35 116.78,22.35" stroke="#ff0000" stroke-width="0.65" fill="none"/><polygon points="115.43,26.34 113.03,22.45 117.83,22.45" stroke="#ff0000" stroke-width="0.65" fill="none"/><polygon points="116.48,26.44 114.08,22.56 118.88,22.56" stroke="#ff0000" stroke-width="0.65" fill="none"/><polygon points="117.53,26.55 115.13,22.66 119.93,22.66" stroke="#ff0000" stroke-width="0.65" fill="none"/><polygon points="118.58,26.65 116.18,22.76 120.98,22.76" stroke="#ff0000" stroke-width="0.65" fill="none"/><polygon points="119.62,26.75 117.22,22.86 122.02,22.86" stroke="#ff0000" stroke-width="0.65" fill="none"/><polygon points="120.67,26.85 118.27,22.96 123.07,22.96" stroke="#ff0000" stroke-width="0.65" fill="none"/><polygon points="121.72,26.95 119.32,23.06 124.12,23.06" stroke="#ff0000" stroke-width="0.65" fill="none"/><polygon points="122.77,27.05 120.37,23.17 125.17,23.17" stroke="#ff0000" stroke-width="0.65" fill="none"/><polygon points="123.82,27.16 121.42,23.27 126.22,23.27" stroke="#ff0000" stroke-width="0.65" fill="none"/><polygon points="124.86,27.26 122.46,23.37 127.26,23.37" stroke="#ff0000" stroke-width="0.65" fill="none"/><polygon points="125.91,27.36 123.51,23.47 128.31,23.47" stroke="#ff0000" stroke-width="0.65" fill="none"/><polygon points="126.96,27.46 124.56,23.57 129.36,23.57" stroke="#ff0000" stroke-width="0.65" fill="none"/><polygon points="128.01,27.56 125.61,23.67 130.41,23.67" stroke="#ff0000" stroke-width="0.65" fill="none"/><polygon points="129.06,27.66 126.66,23.78 131.46,23.78" stroke="#ff0000" stroke-width="0.65" fill="none"/><polygon points="130.1,27.77 127.7,23.88 132.5,23.88" stroke="#ff0000" stroke-width="0.65" fill="none"/><polygon points="131.15,27.87 128.75,23.98 133.55,23.98" stroke="#ff0000" stroke-width="0.65" fill="none"/><polygon points="132.2,27.97 129.8,24.08 134.6,24.08" stroke="#ff0000" stroke-width="0.65" fill="none"/><polygon points="133.25,28.07 130.85,24.19 135.65,24.19" stroke="#ff0000" stroke-width="0.65" fill="none"/><polygon points="134.3,28.18 131.9,24.29 136.7,24.29" stroke="#ff0000" stroke-width="0.65" fill="none"/><polygon points="135.34,28.29 132.94,24.4 137.74,24.4" stroke="#ff0000" stroke-width="0.65" fill="none"/><polygon points="136.39,28.39 133.99,24.51 138.79,24.51" stroke="#ff0000" stroke-width="0.65" fill="none"/><polygon points="137.44,28.5 135.04,24.61 139.84,24.61" stroke="#ff0000" stroke-width="0.65" fill="none"/><polygon points="138.49,28.61 136.09,24.72 140.89,24.72" stroke="#ff0000" stroke-width="0.65" fill="none"/><polygon points="139.54,28.71 137.14,24.82 141.94,24.82" stroke="#ff0000" stroke-width="0.65" fill="none"/><polygon points="140.58,28.82 138.18,24.93 142.98,24.93" stroke="#ff0000" stroke-width="0.65" fill="none"/><polygon points="141.63,28.93 139.23,25.04 144.03,25.04" stroke="#ff0000" stroke-width="0.65" fill="none"/><polygon points="142.68,29.03 140.28,25.14 145.08,25.14" stroke="#ff0000" stroke-width="0.65" fill="none"/><polygon points="143.73,29.14 141.33,25.25 146.13,25.25" stroke="#ff0000" stroke-width="0.65" fill="none"/><polygon points="144.78,29.24 142.38,25.36 147.18,25.36" stroke="#ff0000" stroke-width="0.65" fill="none"/><polygon points="145.82,29.35 143.42,25.46 148.22,25.46" stroke="#ff0000" stroke-width="0.65" fill="none"/><polygon points="146.87,29.46 144.47,25.57 149.27,25.57" stroke="#ff0000" stroke-width="0.65" fill="none"/><polygon points="147.92,29.56 145.52,25.68 150.32,25.68" stroke="#ff0000" stroke-width="0.65" fill="none"/><polygon points="148.97,29.67 146.57,25.78 151.37,25.78" stroke="#ff0000" stroke-width="0.65" fill="none"/><polygon points="150.02,29.78 147.62,25.89 152.42,25.89" stroke="#ff0000" stroke-width="0.65" fill="none"/><polygon points="151.06,29.88 148.66,26 153.46,26" stroke="#ff0000" stroke-width="0.65" fill="none"/><polygon points="152.11,29.99 149.71,26.1 154.51,26.1" stroke="#ff0000" stroke-width="0.65" fill="none"/><polygon points="153.16,30.1 150.76,26.21 155.56,26.21" stroke="#ff0000" stroke-width="0.65" fill="none"/><polygon points="154.21,30.2 151.81,26.31 156.61,26.31" stroke="#ff0000" stroke-width="0.65" fill="none"/><polygon points="155.26,30.31 152.86,26.42 157.66,26.42" stroke="#ff0000" stroke-width="0.65" fill="none"/><polygon points="156.3,30.42 153.9,26.53 158.7,26.53" stroke="#ff0000" stroke-width="0.65" fill="none"/><polygon points="157.35,30.52 154.95,26.63 159.75,26.63" stroke="#ff0000" stroke-width="0.65" fill="none"/><polygon points="158.4,30.63 156,26.74 160.8,26.74" stroke="#ff0000" stroke-width="0.65" fill="none"/><polygon points="159.45,30.73 157.05,26.85 161.85,26.85" stroke="#ff0000" stroke-width="0.65" fill="none"/><polygon points="160.5,30.84 158.1,26.95 162.9,26.95" stroke="#ff0000" stroke-width="0.65" fill="none"/><polygon points="161.54,30.95 159.14,27.06 163.94,27.06" stroke="#ff0000" stroke-width="0.65" fill="none"/><polygon points="162.59,31.05 160.19,27.17 164.99,27.17" stroke="#ff0000" stroke-width="0.65" fill="none"/><polygon points="163.64,31.16 161.24,27.27 166.04,27.27" stroke="#ff0000" stroke-width="0.65" fill="none"/><polygon points="164.69,31.27 162.29,27.38 167.09,27.38" stroke="#ff0000" stroke-width="0.65" fill="none"/><polygon points="165.74,31.37 163.34,27.48 168.14,27.48" stroke="#ff0000" stroke-width="0.65" fill="none"/><polygon points="166.78,31.48 164.38,27.59 169.18,27.59" stroke="#ff0000" stroke-width="0.65" fill="none"/><polygon points="167.83,31.59 165.43,27.7 170.23,27.7" stroke="#ff0000" stroke-width="0.65" fill="none"/><polygon points="168.88,31.69 166.48,27.8 171.28,27.8" stroke="#ff0000" stroke-width="0.65" fill="none"/><polygon points="169.93,31.8 167.53,27.91 172.33,27.91" stroke="#ff0000" stroke-width="0.65" fill="none"/><polygon points="170.98,31.9 168.58,28.02 173.38,28.02" stroke="#ff0000" stroke-width="0.65" fill="none"/><polygon points="172.02,32.01 169.62,28.12 174.42,28.12" stroke="#ff0000" stroke-width="0.65" fill="none"/><polygon points="173.07,32.12 170.67,28.23 175.47,28.23" stroke="#ff0000" stroke-width="0.65" fill="none"/><polygon points="174.12,32.22 171.72,28.34 176.52,28.34" stroke="#ff0000" stroke-width="0.65" fill="none"/><polygon points="175.17,32.33 172.77,28.44 177.57,28.44" stroke="#ff0000" stroke-width="0.65" fill="none"/><polygon points="176.22,32.44 173.82,28.55 178.62,28.55" stroke="#ff0000" stroke-width="0.65" fill="none"/><polygon points="177.26,32.54 174.86,28.66 179.66,28.66" stroke="#ff0000" stroke-width="0.65" fill="none"/><polygon points="178.31,32.65 175.91,28.76 180.71,28.76" stroke="#ff0000" stroke-width="0.65" fill="none"/><polygon points="179.36,32.76 176.96,28.87 181.76,28.87" stroke="#ff0000" stroke-width="0.65" fill="none"/><polygon points="180.41,32.86 178.01,28.97 182.81,28.97" stroke="#ff0000" stroke-width="0.65" fill="none"/><polygon points="181.46,32.97 179.06,29.08 183.86,29.08" stroke="#ff0000" stroke-width="0.65" fill="none"/><polygon points="182.5,33.08 180.1,29.19 184.9,29.19" stroke="#ff0000" stroke-width="0.65" fill="none"/><polygon points="183.55,33.18 181.15,29.29 185.95,29.29" stroke="#ff0000" stroke-width="0.65" fill="none"/><polygon points="184.6,33.29 182.2,29.4 187,29.4" stroke="#ff0000" stroke-width="0.65" fill="none"/><polygon points="185.65,33.39 183.25,29.51 188.05,29.51" stroke="#ff0000" stroke-width="0.65" fill="none"/><polygon points="186.7,33.5 184.3,29.61 189.1,29.61" stroke="#ff0000" stroke-width="0.65" fill="none"/><polygon points="187.74,33.61 185.34,29.72 190.14,29.72" stroke="#ff0000" stroke-width="0.65" fill="none"/><polygon points="188.79,33.71 186.39,29.82 191.19,29.82" stroke="#ff0000" stroke-width="0.65" fill="none"/><polygon points="189.84,33.82 187.44,29.93 192.24,29.93" stroke="#ff0000" stroke-width="0.65" fill="none"/><polygon points="190.89,33.92 188.49,30.04 193.29,30.04" stroke="#ff0000" stroke-width="0.65" fill="none"/><polygon points="191.94,34.03 189.54,30.14 194.34,30.14" stroke="#ff0000" stroke-width="0.65" fill="none"/><polygon points="192.98,34.14 190.58,30.25 195.38,30.25" stroke="#ff0000" stroke-width="0.65" fill="none"/><polygon points="194.03,34.24 191.63,30.35 196.43,30.35" stroke="#ff0000" stroke-width="0.65" fill="none"/><polygon points="195.08,34.35 192.68,30.46 197.48,30.46" stroke="#ff0000" stroke-width="0.65" fill="none"/><polygon points="196.13,34.45 193.73,30.57 198.53,30.57" stroke="#ff0000" stroke-width="0.65" fill="none"/><polygon points="197.18,34.56 194.78,30.67 199.58,30.67" stroke="#ff0000" stroke-width="0.65" fill="none"/><polygon points="198.22,34.67 195.82,30.78 200.62,30.78" stroke="#ff0000" stroke-width="0.65" fill="none"/><polygon points="199.27,34.77 196.87,30.88 201.67,30.88" stroke="#ff0000" stroke-width="0.65" fill="none"/><polygon points="200.32,34.88 197.92,30.99 202.72,30.99" stroke="#ff0000" stroke-width="0.65" fill="none"/><polygon points="201.37,34.98 198.97,31.1 203.77,31.1" stroke="#ff0000" stroke-width="0.65" fill="none"/><polygon points="202.42,35.09 200.02,31.2 204.82,31.2" stroke="#ff0000" stroke-width="0.65" fill="none"/><polygon points="203.46,35.2 201.06,31.31 205.86,31.31" stroke="#ff0000" stroke-width="0.65" fill="none"/><polygon points="204.51,35.3 202.11,31.41 206.91,31.41" stroke="#ff0000" stroke-width="0.65" fill="none"/><polygon points="205.56,35.41 203.16,31.52 207.96,31.52" stroke="#ff0000" stroke-width="0.65" fill="none"/><polygon points="206.61,35.51 204.21,31.63 209.01,31.63" stroke="#ff0000" stroke-width="0.65" fill="none"/><polygon points="207.66,35.62 205.26,31.73 210.06,31.73" stroke="#ff0000" stroke-width="0.65" fill="none"/><polygon points="208.7,35.73 206.3,31.84 211.1,31.84" stroke="#ff0000" stroke-width="0.65" fill="none"/><polygon points="209.75,35.83 207.35,31.94 212.15,31.94" stroke="#ff0000" stroke-width="0.65" fill="none"/><polygon points="210.8,35.94 208.4,32.05 213.2,32.05" stroke="#ff0000" stroke-width="0.65" fill="none"/><polygon points="211.85,36.04 209.45,32.16 214.25,32.16" stroke="#ff0000" stroke-width="0.65" fill="none"/><polygon points="212.9,36.15 210.5,32.26 215.3,32.26" stroke="#ff0000" stroke-width="0.65" fill="none"/><polygon points="213.94,36.26 211.54,32.37 216.34,32.37" stroke="#ff0000" stroke-width="0.65" fill="none"/><polygon points="214.99,36.36 212.59,32.47 217.39,32.47" stroke="#ff0000" stroke-width="0.65" fill="none"/><polygon points="216.04,36.47 213.64,32.58 218.44,32.58" stroke="#ff0000" stroke-width="0.65" fill="none"/><polygon points="217.09,36.57 214.69,32.69 219.49,32.69" stroke="#ff0000" stroke-width="0.65" fill="none"/><polygon points="218.14,36.68 215.74,32.79 220.54,32.79" stroke="#ff0000" stroke-width="0.65" fill="none"/><polygon points="219.18,36.79 216.78,32.9 221.58,32.9" stroke="#ff0000" stroke-width="0.65" fill="none"/><polygon points="220.23,36.89 217.83,33 222.63,33" stroke="#ff0000" stroke-width="0.65" fill="none"/><polygon points="221.28,37 218.88,33.11 223.68,33.11" stroke="#ff0000" stroke-width="0.65" fill="none"/><polygon points="222.33,37.1 219.93,33.22 224.73,33.22" stroke="#ff0000" stroke-width="0.65" fill="none"/><polygon points="223.38,37.21 220.98,33.32 225.78,33.32" stroke="#ff0000" stroke-width="0.65" fill="none"/><polygon points="224.42,37.32 222.02,33.43 226.82,33.43" stroke="#ff0000" stroke-width="0.65" fill="none"/><polygon points="225.47,37.42 223.07,33.53 227.87,33.53" stroke="#ff0000" stroke-width="0.65" fill="none"/><polygon points="226.52,37.53 224.12,33.64 228.92,33.64" stroke="#ff0000" stroke-width="0.65" fill="none"/><polygon points="227.57,37.63 225.17,33.75 229.97,33.75" stroke="#ff0000" stroke-width="0.65" fill="none"/><polygon points="228.62,37.74 226.22,33.85 231.02,33.85" stroke="#ff0000" stroke-width="0.65" fill="none"/><polygon points="229.66,37.85 227.26,33.96 232.06,33.96" stroke="#ff0000" stroke-width="0.65" fill="none"/><polygon points="230.71,37.95 228.31,34.06 233.11,34.06" stroke="#ff0000" stroke-width="0.65" fill="none"/><polygon points="231.76,38.06 229.36,34.17 234.16,34.17" stroke="#ff0000" stroke-width="0.65" fill="none"/><polygon points="232.81,38.16 230.41,34.28 235.21,34.28" stroke="#ff0000" stroke-width="0.65" fill="none"/><polygon points="233.86,38.27 231.46,34.38 236.26,34.38" stroke="#ff0000" stroke-width="0.65" fill="none"/><polygon points="234.9,38.38 232.5,34.49 237.3,34.49" stroke="#ff0000" stroke-width="0.65" fill="none"/><polygon points="235.95,38.48 233.55,34.59 238.35,34.59" stroke="#ff0000" stroke-width="0.65" fill="none"/><polygon points="237,38.59 234.6,34.7 239.4,34.7" stroke="#ff0000" stroke-width="0.65" fill="none"/><polygon points="238.05,38.7 235.65,34.81 240.45,34.81" stroke="#ff0000" stroke-width="0.65" fill="none"/><polygon points="239.1,38.81 236.7,34.92 241.5,34.92" stroke="#ff0000" stroke-width="0.65" fill="none"/><polygon points="240.14,38.92 237.74,35.04 242.54,35.04" stroke="#ff0000" stroke-width="0.65" fill="none"/><polygon points="241.19,39.04 238.79,35.15 243.59,35.15" stroke="#ff0000" stroke-width="0.65" fill="none"/><polygon points="242.24,39.15 239.84,35.26 244.64,35.26" stroke="#ff0000" stroke-width="0.65" fill="none"/><polygon points="243.29,39.26 240.89,35.37 245.69,35.37" stroke="#ff0000" stroke-width="0.65" fill="none"/><polygon points="244.34,39.37 241.94,35.48 246.74,35.48" stroke="#ff0000" stroke-width="0.65" fill="none"/><polygon points="245.38,39.48 242.98,35.6 247.78,35.6" stroke="#ff0000" stroke-width="0.65" fill="none"/><polygon points="246.43,39.6 244.03,35.71 248.83,35.71" stroke="#ff0000" stroke-width="0.65" fill="none"/><polygon points="247.48,39.71 245.08,35.82 249.88,35.82" stroke="#ff0000" stroke-width="0.65" fill="none"/><polygon points="248.53,39.82 246.13,35.93 250.93,35.93" stroke="#ff0000" stroke-width="0.65" fill="none"/><polygon points="249.58,39.93 247.18,36.05 251.98,36.05" stroke="#ff0000" stroke-width="0.65" fill="none"/><polygon points="250.62,40.05 248.22,36.16 253.02,36.16" stroke="#ff0000" stroke-width="0.65" fill="none"/><polygon points="251.67,40.16 249.27,36.27 254.07,36.27" stroke="#ff0000" stroke-width="0.65" fill="none"/><polygon points="252.72,40.27 250.32,36.38 255.12,36.38" stroke="#ff0000" stroke-width="0.65" fill="none"/><polygon points="253.77,40.38 251.37,36.49 256.17,36.49" stroke="#ff0000" stroke-width="0.65" fill="none"/><polygon points="254.82,40.49 252.42,36.61 257.22,36.61" stroke="#ff0000" stroke-width="0.65" fill="none"/><polygon points="255.86,40.61 253.46,36.72 258.26,36.72" stroke="#ff0000" stroke-width="0.65" fill="none"/><polygon points="256.91,40.72 254.51,36.83 259.31,36.83" stroke="#ff0000" stroke-width="0.65" fill="none"/><polygon points="257.96,40.83 255.56,36.94 260.36,36.94" stroke="#ff0000" stroke-width="0.65" fill="none"/><polygon points="259.01,40.94 256.61,37.05 261.41,37.05" stroke="#ff0000" stroke-width="0.65" fill="none"/><polygon points="260.06,41.05 257.66,37.17 262.46,37.17" stroke="#ff0000" stroke-width="0.65" fill="none"/><polygon points="261.1,41.17 258.7,37.28 263.5,37.28" stroke="#ff0000" stroke-width="0.65" fill="none"/><polygon points="262.15,41.28 259.75,37.39 264.55,37.39" stroke="#ff0000" stroke-width="0.65" fill="none"/><polygon points="263.2,41.39 260.8,37.5 265.6,37.5" stroke="#ff0000" stroke-width="0.65" fill="none"/><polygon points="264.25,41.5 261.85,37.61 266.65,37.61" stroke="#ff0000" stroke-width="0.65" fill="none"/><polygon points="265.3,41.62 262.9,37.73 267.7,37.73" stroke="#ff0000" stroke-width="0.65" fill="none"/><polygon points="266.34,41.73 263.94,37.84 268.74,37.84" stroke="#ff0000" stroke-width="0.65" fill="none"/><polygon points="267.39,41.84 264.99,37.95 269.79,37.95" stroke="#ff0000" stroke-width="0.65" fill="none"/><polygon points="268.44,41.95 266.04,38.06 270.84,38.06" stroke="#ff0000" stroke-width="0.65" fill="none"/><polygon points="269.49,42.06 267.09,38.18 271.89,38.18" stroke="#ff0000" stroke-width="0.65" fill="none"/><polygon points="270.54,42.18 268.14,38.29 272.94,38.29" stroke="#ff0000" stroke-width="0.65" fill="none"/><polygon points="271.58,42.29 269.18,38.4 273.98,38.4" stroke="#ff0000" stroke-width="0.65" fill="none"/><polygon points="272.63,42.4 270.23,38.51 275.03,38.51" stroke="#ff0000" stroke-width="0.65" fill="none"/><polygon points="273.68,42.51 271.28,38.62 276.08,38.62" stroke="#ff0000" stroke-width="0.65" fill="none"/><polygon points="274.73,42.62 272.33,38.74 277.13,38.74" stroke="#ff0000" stroke-width="0.65" fill="none"/><polygon points="275.78,42.74 273.38,38.85 278.18,38.85" stroke="#ff0000" stroke-width="0.65" fill="none"/><polygon points="276.82,42.85 274.42,38.96 279.22,38.96" stroke="#ff0000" stroke-width="0.65" fill="none"/><polygon points="277.87,42.96 275.47,39.07 280.27,39.07" stroke="#ff0000" stroke-width="0.65" fill="none"/><polygon points="278.92,43.07 276.52,39.18 281.32,39.18" stroke="#ff0000" stroke-width="0.65" fill="none"/><polygon points="279.97,43.18 277.57,39.3 282.37,39.3" stroke="#ff0000" stroke-width="0.65" fill="none"/><polygon points="281.02,43.32 278.62,39.43 283.42,39.43" stroke="#ff0000" stroke-width="0.65" fill="none"/><polygon points="282.06,43.45 279.66,39.56 284.46,39.56" stroke="#ff0000" stroke-width="0.65" fill="none"/><polygon points="283.11,43.58 280.71,39.69 285.51,39.69" stroke="#ff0000" stroke-width="0.65" fill="none"/><polygon points="284.16,43.71 281.76,39.82 286.56,39.82" stroke="#ff0000" stroke-width="0.65" fill="none"/><polygon points="285.21,43.84 282.81,39.95 287.61,39.95" stroke="#ff0000" stroke-width="0.65" fill="none"/><polygon points="286.26,43.97 283.86,40.08 288.66,40.08" stroke="#ff0000" stroke-width="0.65" fill="none"/><polygon points="287.3,44.1 284.9,40.21 289.7,40.21" stroke="#ff0000" stroke-width="0.65" fill="none"/><polygon points="288.35,44.23 285.95,40.34 290.75,40.34" stroke="#ff0000" stroke-width="0.65" fill="none"/><polygon points="289.4,44.36 287,40.48 291.8,40.48" stroke="#ff0000" stroke-width="0.65" fill="none"/><polygon points="290.45,44.49 288.05,40.61 292.85,40.61" stroke="#ff0000" stroke-width="0.65" fill="none"/><polygon points="291.5,44.63 289.1,40.74 293.9,40.74" stroke="#ff0000" stroke-width="0.65" fill="none"/><polygon points="292.54,44.76 290.14,40.87 294.94,40.87" stroke="#ff0000" stroke-width="0.65" fill="none"/><polygon points="293.59,44.89 291.19,41 295.99,41" stroke="#ff0000" stroke-width="0.65" fill="none"/><polygon points="294.64,45.02 292.24,41.13 297.04,41.13" stroke="#ff0000" stroke-width="0.65" fill="none"/><polygon points="295.69,45.15 293.29,41.26 298.09,41.26" stroke="#ff0000" stroke-width="0.65" fill="none"/><polygon points="296.74,45.28 294.34,41.39 299.14,41.39" stroke="#ff0000" stroke-width="0.65" fill="none"/><polygon points="297.78,45.41 295.38,41.52 300.18,41.52" stroke="#ff0000" stroke-width="0.65" fill="none"/><polygon points="298.83,45.54 296.43,41.65 301.23,41.65" stroke="#ff0000" stroke-width="0.65" fill="none"/><polygon points="299.88,45.67 297.48,41.79 302.28,41.79" stroke="#ff0000" stroke-width="0.65" fill="none"/><polygon points="300.93,45.83 298.53,41.94 303.33,41.94" stroke="#ff0000" stroke-width="0.65" fill="none"/><polygon points="301.98,45.99 299.58,42.1 304.38,42.1" stroke="#ff0000" stroke-width="0.65" fill="none"/><polygon points="303.02,46.15 300.62,42.27 305.42,42.27" stroke="#ff0000" stroke-width="0.65" fill="none"/><polygon points="304.07,46.31 301.67,42.43 306.47,42.43" stroke="#ff0000" stroke-width="0.65" fill="none"/><polygon points="305.12,46.48 302.72,42.59 307.52,42.59" stroke="#ff0000" stroke-width="0.65" fill="none"/><polygon points="306.17,46.64 303.77,42.75 308.57,42.75" stroke="#ff0000" stroke-width="0.65" fill="none"/><polygon points="307.22,46.8 304.82,42.91 309.62,42.91" stroke="#ff0000" stroke-width="0.65" fill="none"/><polygon points="308.26,46.96 305.86,43.07 310.66,43.07" stroke="#ff0000" stroke-width="0.65" fill="none"/><polygon points="309.31,47.12 306.91,43.23 311.71,43.23" stroke="#ff0000" stroke-width="0.65" fill="none"/><polygon points="310.36,47.28 307.96,43.39 312.76,43.39" stroke="#ff0000" stroke-width="0.65" fill="none"/><polygon points="311.41,47.44 309.01,43.56 313.81,43.56" stroke="#ff0000" stroke-width="0.65" fill="none"/><polygon points="312.46,47.6 310.06,43.72 314.86,43.72" stroke="#ff0000" stroke-width="0.65" fill="none"/><polygon points="313.5,47.77 311.1,43.88 315.9,43.88" stroke="#ff0000" stroke-width="0.65" fill="none"/><polygon points="314.55,47.93 312.15,44.04 316.95,44.04" stroke="#ff0000" stroke-width="0.65" fill="none"/><polygon points="315.6,48.09 313.2,44.2 318,44.2" stroke="#ff0000" stroke-width="0.65" fill="none"/><polygon points="316.65,48.25 314.25,44.36 319.05,44.36" stroke="#ff0000" stroke-width="0.65" fill="none"/><polygon points="317.7,48.41 315.3,44.52 320.1,44.52" stroke="#ff0000" stroke-width="0.65" fill="none"/><polygon points="318.74,48.57 316.34,44.68 321.14,44.68" stroke="#ff0000" stroke-width="0.65" fill="none"/><polygon points="319.79,48.73 317.39,44.84 322.19,44.84" stroke="#ff0000" stroke-width="0.65" fill="none"/><polygon points="320.84,48.89 318.44,45.01 323.24,45.01" stroke="#ff0000" stroke-width="0.65" fill="none"/><polygon points="321.89,49.06 319.49,45.17 324.29,45.17" stroke="#ff0000" stroke-width="0.65" fill="none"/><polygon points="322.94,49.22 320.54,45.33 325.34,45.33" stroke="#ff0000" stroke-width="0.65" fill="none"/><polygon points="323.98,49.38 321.58,45.49 326.38,45.49" stroke="#ff0000" stroke-width="0.65" fill="none"/><polygon points="325.03,49.54 322.63,45.65 327.43,45.65" stroke="#ff0000" stroke-width="0.65" fill="none"/><polygon points="326.08,49.7 323.68,45.81 328.48,45.81" stroke="#ff0000" stroke-width="0.65" fill="none"/><polygon points="327.13,49.86 324.73,45.97 329.53,45.97" stroke="#ff0000" stroke-width="0.65" fill="none"/><polygon points="328.18,50.02 325.78,46.13 330.58,46.13" stroke="#ff0000" stroke-width="0.65" fill="none"/><polygon points="329.22,50.18 326.82,46.3 331.62,46.3" stroke="#ff0000" stroke-width="0.65" fill="none"/><polygon points="330.27,50.35 327.87,46.46 332.67,46.46" stroke="#ff0000" stroke-width="0.65" fill="none"/><polygon points="331.32,50.51 328.92,46.62 333.72,46.62" stroke="#ff0000" stroke-width="0.65" fill="none"/><polygon points="332.37,50.67 329.97,46.78 334.77,46.78" stroke="#ff0000" stroke-width="0.65" fill="none"/><polygon points="333.42,50.83 331.02,46.94 335.82,46.94" stroke="#ff0000" stroke-width="0.65" fill="none"/><polygon points="334.46,50.99 332.06,47.1 336.86,47.1" stroke="#ff0000" stroke-width="0.65" fill="none"/><polygon points="335.51,51.15 333.11,47.26 337.91,47.26" stroke="#ff0000" stroke-width="0.65" fill="none"/><polygon points="336.56,51.31 334.16,47.42 338.96,47.42" stroke="#ff0000" stroke-width="0.65" fill="none"/><polygon points="337.61,51.47 335.21,47.59 340.01,47.59" stroke="#ff0000" stroke-width="0.65" fill="none"/><polygon points="338.66,51.64 336.26,47.75 341.06,47.75" stroke="#ff0000" stroke-width="0.65" fill="none"/><polygon points="339.7,51.8 337.3,47.91 342.1,47.91" stroke="#ff0000" stroke-width="0.65" fill="none"/><polygon points="340.75,51.96 338.35,48.07 343.15,48.07" stroke="#ff0000" stroke-width="0.65" fill="none"/><polygon points="341.8,52.12 339.4,48.23 344.2,48.23" stroke="#ff0000" stroke-width="0.65" fill="none"/><polygon points="342.85,52.28 340.45,48.39 345.25,48.39" stroke="#ff0000" stroke-width="0.65" fill="none"/><polygon points="343.9,52.44 341.5,48.55 346.3,48.55" stroke="#ff0000" stroke-width="0.65" fill="none"/><polygon points="344.94,52.6 342.54,48.71 347.34,48.71" stroke="#ff0000" stroke-width="0.65" fill="none"/><polygon points="345.99,52.76 343.59,48.88 348.39,48.88" stroke="#ff0000" stroke-width="0.65" fill="none"/><polygon points="347.04,52.92 344.64,49.04 349.44,49.04" stroke="#ff0000" stroke-width="0.65" fill="none"/><polygon points="348.09,53.09 345.69,49.2 350.49,49.2" stroke="#ff0000" stroke-width="0.65" fill="none"/><polygon points="349.14,53.25 346.74,49.36 351.54,49.36" stroke="#ff0000" stroke-width="0.65" fill="none"/><polygon points="350.18,53.41 347.78,49.52 352.58,49.52" stroke="#ff0000" stroke-width="0.65" fill="none"/><polygon points="351.23,53.57 348.83,49.68 353.63,49.68" stroke="#ff0000" stroke-width="0.65" fill="none"/><polygon points="352.28,53.75 349.88,49.86 354.68,49.86" stroke="#ff0000" stroke-width="0.65" fill="none"/><polygon points="353.33,53.96 350.93,50.07 355.73,50.07" stroke="#ff0000" stroke-width="0.65" fill="none"/><polygon points="354.38,54.18 351.98,50.29 356.78,50.29" stroke="#ff0000" stroke-width="0.65" fill="none"/><polygon points="355.42,54.39 353.02,50.5 357.82,50.5" stroke="#ff0000" stroke-width="0.65" fill="none"/><polygon points="356.47,54.61 354.07,50.72 358.87,50.72" stroke="#ff0000" stroke-width="0.65" fill="none"/><polygon points="357.52,54.82 355.12,50.93 359.92,50.93" stroke="#ff0000" stroke-width="0.65" fill="none"/><polygon points="358.57,55.04 356.17,51.15 360.97,51.15" stroke="#ff0000" stroke-width="0.65" fill="none"/><polygon points="359.62,55.25 357.22,51.36 362.02,51.36" stroke="#ff0000" stroke-width="0.65" fill="none"/><polygon points="360.66,55.47 358.26,51.58 363.06,51.58" stroke="#ff0000" stroke-width="0.65" fill="none"/><polygon points="361.71,55.68 359.31,51.79 364.11,51.79" stroke="#ff0000" stroke-width="0.65" fill="none"/><polygon points="362.76,55.9 360.36,52.01 365.16,52.01" stroke="#ff0000" stroke-width="0.65" fill="none"/><polygon points="363.81,56.11 361.41,52.22 366.21,52.22" stroke="#ff0000" stroke-width="0.65" fill="none"/><polygon points="364.86,56.33 362.46,52.44 367.26,52.44" stroke="#ff0000" stroke-width="0.65" fill="none"/><polygon points="365.9,56.54 363.5,52.65 368.3,52.65" stroke="#ff0000" stroke-width="0.65" fill="none"/><polygon points="366.95,56.76 364.55,52.87 369.35,52.87" stroke="#ff0000" stroke-width="0.65" fill="none"/><polygon points="368,56.97 365.6,53.09 370.4,53.09" stroke="#ff0000" stroke-width="0.65" fill="none"/><polygon points="369.05,57.19 366.65,53.3 371.45,53.3" stroke="#ff0000" stroke-width="0.65" fill="none"/><polygon points="370.1,57.4 367.7,53.52 372.5,53.52" stroke="#ff0000" stroke-width="0.65" fill="none"/><polygon points="371.14,57.62 368.74,53.73 373.54,53.73" stroke="#ff0000" stroke-width="0.65" fill="none"/><polygon points="372.19,57.83 369.79,53.95 374.59,53.95" stroke="#ff0000" stroke-width="0.65" fill="none"/><polygon points="373.24,58.05 370.84,54.16 375.64,54.16" stroke="#ff0000" stroke-width="0.65" fill="none"/><polygon points="374.29,58.26 371.89,54.38 376.69,54.38" stroke="#ff0000" stroke-width="0.65" fill="none"/><polygon points="375.34,58.48 372.94,54.59 377.74,54.59" stroke="#ff0000" stroke-width="0.65" fill="none"/><polygon points="376.38,58.69 373.98,54.81 378.78,54.81" stroke="#ff0000" stroke-width="0.65" fill="none"/><polygon points="377.43,58.91 375.03,55.02 379.83,55.02" stroke="#ff0000" stroke-width="0.65" fill="none"/><polygon points="378.48,59.12 376.08,55.24 380.88,55.24" stroke="#ff0000" stroke-width="0.65" fill="none"/><polygon points="379.53,59.34 377.13,55.45 381.93,55.45" stroke="#ff0000" stroke-width="0.65" fill="none"/><polygon points="380.58,59.56 378.18,55.67 382.98,55.67" stroke="#ff0000" stroke-width="0.65" fill="none"/><polygon points="381.62,59.77 379.22,55.88 384.02,55.88" stroke="#ff0000" stroke-width="0.65" fill="none"/><polygon points="382.67,59.99 380.27,56.1 385.07,56.1" stroke="#ff0000" stroke-width="0.65" fill="none"/><polygon points="383.72,60.2 381.32,56.31 386.12,56.31" stroke="#ff0000" stroke-width="0.65" fill="none"/><polygon points="384.77,60.42 382.37,56.53 387.17,56.53" stroke="#ff0000" stroke-width="0.65" fill="none"/><polygon points="385.82,60.63 383.42,56.74 388.22,56.74" stroke="#ff0000" stroke-width="0.65" fill="none"/><polygon points="386.86,60.85 384.46,56.96 389.26,56.96" stroke="#ff0000" stroke-width="0.65" fill="none"/><polygon points="387.91,61.06 385.51,57.17 390.31,57.17" stroke="#ff0000" stroke-width="0.65" fill="none"/><polygon points="388.96,61.28 386.56,57.39 391.36,57.39" stroke="#ff0000" stroke-width="0.65" fill="none"/><polygon points="390.01,61.49 387.61,57.6 392.41,57.6" stroke="#ff0000" stroke-width="0.65" fill="none"/><polygon points="391.06,61.71 388.66,57.82 393.46,57.82" stroke="#ff0000" stroke-width="0.65" fill="none"/><polygon points="392.1,61.92 389.7,58.03 394.5,58.03" stroke="#ff0000" stroke-width="0.65" fill="none"/><polygon points="393.15,62.14 390.75,58.25 395.55,58.25" stroke="#ff0000" stroke-width="0.65" fill="none"/><polygon points="394.2,62.35 391.8,58.46 396.6,58.46" stroke="#ff0000" stroke-width="0.65" fill="none"/><polygon points="395.25,62.57 392.85,58.68 397.65,58.68" stroke="#ff0000" stroke-width="0.65" fill="none"/><polygon points="396.3,62.78 393.9,58.89 398.7,58.89" stroke="#ff0000" stroke-width="0.65" fill="none"/><polygon points="397.34,63 394.94,59.11 399.74,59.11" stroke="#ff0000" stroke-width="0.65" fill="none"/><polygon points="398.39,63.21 395.99,59.33 400.79,59.33" stroke="#ff0000" stroke-width="0.65" fill="none"/><polygon points="399.44,63.43 397.04,59.54 401.84,59.54" stroke="#ff0000" stroke-width="0.65" fill="none"/><polygon points="400.49,63.64 398.09,59.76 402.89,59.76" stroke="#ff0000" stroke-width="0.65" fill="none"/><polygon points="401.54,63.86 399.14,59.97 403.94,59.97" stroke="#ff0000" stroke-width="0.65" fill="none"/><polygon points="402.58,64.07 400.18,60.19 404.98,60.19" stroke="#ff0000" stroke-width="0.65" fill="none"/><polygon points="403.63,64.29 401.23,60.4 406.03,60.4" stroke="#ff0000" stroke-width="0.65" fill="none"/><polygon points="404.68,64.51 402.28,60.62 407.08,60.62" stroke="#ff0000" stroke-width="0.65" fill="none"/><polygon points="405.73,64.8 403.33,60.91 408.13,60.91" stroke="#ff0000" stroke-width="0.65" fill="none"/><polygon points="406.78,65.09 404.38,61.21 409.18,61.21" stroke="#ff0000" stroke-width="0.65" fill="none"/><polygon points="407.82,65.39 405.42,61.5 410.22,61.5" stroke="#ff0000" stroke-width="0.65" fill="none"/><polygon points="408.87,65.68 406.47,61.79 411.27,61.79" stroke="#ff0000" stroke-width="0.65" fill="none"/><polygon points="409.92,65.97 407.52,62.08 412.32,62.08" stroke="#ff0000" stroke-width="0.65" fill="none"/><polygon points="410.97,66.26 408.57,62.38 413.37,62.38" stroke="#ff0000" stroke-width="0.65" fill="none"/><polygon points="412.02,66.56 409.62,62.67 414.42,62.67" stroke="#ff0000" stroke-width="0.65" fill="none"/><polygon points="413.06,66.85 410.66,62.96 415.46,62.96" stroke="#ff0000" stroke-width="0.65" fill="none"/><polygon points="414.11,67.14 411.71,63.25 416.51,63.25" stroke="#ff0000" stroke-width="0.65" fill="none"/><polygon points="415.16,67.44 412.76,63.55 417.56,63.55" stroke="#ff0000" stroke-width="0.65" fill="none"/><polygon points="416.21,67.78 413.81,63.89 418.61,63.89" stroke="#ff0000" stroke-width="0.65" fill="none"/><polygon points="417.26,68.11 414.86,64.22 419.66,64.22" stroke="#ff0000" stroke-width="0.65" fill="none"/><polygon points="418.3,68.45 415.9,64.56 420.7,64.56" stroke="#ff0000" stroke-width="0.65" fill="none"/><polygon points="419.35,68.78 416.95,64.9 421.75,64.9" stroke="#ff0000" stroke-width="0.65" fill="none"/><polygon points="420.4,69.12 418,65.23 422.8,65.23" stroke="#ff0000" stroke-width="0.65" fill="none"/><polygon points="421.45,69.46 419.05,65.57 423.85,65.57" stroke="#ff0000" stroke-width="0.65" fill="none"/><polygon points="422.5,69.79 420.1,65.9 424.9,65.9" stroke="#ff0000" stroke-width="0.65" fill="none"/><polygon points="423.54,70.13 421.14,66.24 425.94,66.24" stroke="#ff0000" stroke-width="0.65" fill="none"/><polygon points="424.59,70.46 422.19,66.58 426.99,66.58" stroke="#ff0000" stroke-width="0.65" fill="none"/><polygon points="425.64,70.8 423.24,66.91 428.04,66.91" stroke="#ff0000" stroke-width="0.65" fill="none"/><polygon points="426.69,71.18 424.29,67.29 429.09,67.29" stroke="#ff0000" stroke-width="0.65" fill="none"/><polygon points="427.74,71.55 425.34,67.67 430.14,67.67" stroke="#ff0000" stroke-width="0.65" fill="none"/><polygon points="428.78,71.93 426.38,68.04 431.18,68.04" stroke="#ff0000" stroke-width="0.65" fill="none"/><polygon points="429.83,72.31 427.43,68.42 432.23,68.42" stroke="#ff0000" stroke-width="0.65" fill="none"/><polygon points="430.88,72.68 428.48,68.79 433.28,68.79" stroke="#ff0000" stroke-width="0.65" fill="none"/><polygon points="431.93,73.06 429.53,69.17 434.33,69.17" stroke="#ff0000" stroke-width="0.65" fill="none"/><polygon points="432.98,73.43 430.58,69.54 435.38,69.54" stroke="#ff0000" stroke-width="0.65" fill="none"/><polygon points="434.02,73.81 431.62,69.92 436.42,69.92" stroke="#ff0000" stroke-width="0.65" fill="none"/><polygon points="435.07,74.18 432.67,70.3 437.47,70.3" stroke="#ff0000" stroke-width="0.65" fill="none"/><polygon points="436.12,74.56 433.72,70.67 438.52,70.67" stroke="#ff0000" stroke-width="0.65" fill="none"/><polygon points="437.17,75.21 434.77,71.33 439.57,71.33" stroke="#ff0000" stroke-width="0.65" fill="none"/><polygon points="438.22,75.89 435.82,72 440.62,72" stroke="#ff0000" stroke-width="0.65" fill="none"/><polygon points="439.26,76.57 436.86,72.68 441.66,72.68" stroke="#ff0000" stroke-width="0.65" fill="none"/><polygon points="440.31,77.24 437.91,73.36 442.71,73.36" stroke="#ff0000" stroke-width="0.65" fill="none"/><polygon points="441.36,77.98 438.96,74.1 443.76,74.1" stroke="#ff0000" stroke-width="0.65" fill="none"/><polygon points="442.41,78.85 440.01,74.96 444.81,74.96" stroke="#ff0000" stroke-width="0.65" fill="none"/><polygon points="443.46,79.71 441.06,75.82 445.86,75.82" stroke="#ff0000" stroke-width="0.65" fill="none"/><polygon points="444.4,80.49 442,76.6 446.8,76.6" stroke="#ff0000" stroke-width="0.65" fill="none"/><polygon points="445.5,138.69 443.1,134.8 447.9,134.8" stroke="#ff0000" stroke-width="0.65" fill="none"/><path d="M79.8 20.2L90.28 21.22L100.75 22.23L111.23 23.25L121.7 24.26L132.18 25.28L142.66 26.34L153.13 27.4L163.61 28.47L174.08 29.53L184.56 30.6L195.04 31.66L205.51 32.72L215.99 33.77L226.46 34.83L236.94 35.89L247.42 37.01L257.89 38.13L268.37 39.26L278.84 40.38L289.32 41.66L299.8 42.97L310.27 44.58L320.75 46.19L331.22 47.8L341.7 49.42L352.18 51.04L362.65 53.19L373.13 55.34L383.6 57.49L394.08 59.64L404.56 61.79L415.03 64.71L425.51 68.07L435.98 71.82L446.5 169.4" stroke="#00ff00" stroke-width="0.55" fill="none" stroke-dasharray="1.9 0.6"/><polygon points="79.8,23.11 77.2,18.9 82.4,18.9" fill="#00ff00"/><polygon points="90.28,24.13 87.68,19.92 92.88,19.92" fill="#00ff00"/><polygon points="100.75,25.14 98.15,20.93 103.35,20.93" fill="#00ff00"/><polygon points="111.23,26.16 108.63,21.95 113.83,21.95" fill="#00ff00"/><polygon points="121.7,27.17 119.1,22.96 124.3,22.96" fill="#00ff00"/><polygon points="132.18,28.19 129.58,23.98 134.78,23.98" fill="#00ff00"/><polygon points="142.66,29.25 140.06,25.04 145.26,25.04" fill="#00ff00"/><polygon points="153.13,30.32 150.53,26.1 155.73,26.1" fill="#00ff00"/><polygon points="163.61,31.38 161.01,27.17 166.21,27.17" fill="#00ff00"/><polygon points="174.08,32.44 171.48,28.23 176.68,28.23" fill="#00ff00"/><polygon points="184.56,33.51 181.96,29.3 187.16,29.3" fill="#00ff00"/><polygon points="195.04,34.57 192.44,30.36 197.64,30.36" fill="#00ff00"/><polygon points="205.51,35.63 202.91,31.42 208.11,31.42" fill="#00ff00"/><polygon points="215.99,36.69 213.39,32.47 218.59,32.47" fill="#00ff00"/><polygon points="226.46,37.75 223.86,33.53 229.06,33.53" fill="#00ff00"/><polygon points="236.94,38.81 234.34,34.59 239.54,34.59" fill="#00ff00"/><polygon points="247.42,39.93 244.82,35.71 250.02,35.71" fill="#00ff00"/><polygon points="257.89,41.05 255.29,36.83 260.49,36.83" fill="#00ff00"/><polygon points="268.37,42.17 265.77,37.96 270.97,37.96" fill="#00ff00"/><polygon points="278.84,43.29 276.24,39.08 281.44,39.08" fill="#00ff00"/><polygon points="289.32,44.58 286.72,40.36 291.92,40.36" fill="#00ff00"/><polygon points="299.8,45.89 297.2,41.67 302.4,41.67" fill="#00ff00"/><polygon points="310.27,47.49 307.67,43.28 312.87,43.28" fill="#00ff00"/><polygon points="320.75,49.1 318.15,44.89 323.35,44.89" fill="#00ff00"/><polygon points="331.22,50.72 328.62,46.5 333.82,46.5" fill="#00ff00"/><polygon points="341.7,52.33 339.1,48.12 344.3,48.12" fill="#00ff00"/><polygon points="352.18,53.95 349.58,49.74 354.78,49.74" fill="#00ff00"/><polygon points="362.65,56.1 360.05,51.89 365.25,51.89" fill="#00ff00"/><polygon points="373.13,58.25 370.53,54.04 375.73,54.04" fill="#00ff00"/><polygon points="383.6,60.4 381,56.19 386.2,56.19" fill="#00ff00"/><polygon points="394.08,62.55 391.48,58.34 396.68,58.34" fill="#00ff00"/><polygon points="404.56,64.7 401.96,60.49 407.16,60.49" fill="#00ff00"/><polygon points="415.03,67.62 412.43,63.41 417.63,63.41" fill="#00ff00"/><polygon points="425.51,70.98 422.91,66.77 428.11,66.77" fill="#00ff00"/><polygon points="435.98,74.73 433.38,70.52 438.58,70.52" fill="#00ff00"/><polygon points="446.5,172.31 443.9,168.1 449.1,168.1" fill="#00ff00"/>
</g>
</svg>
</body></html>
